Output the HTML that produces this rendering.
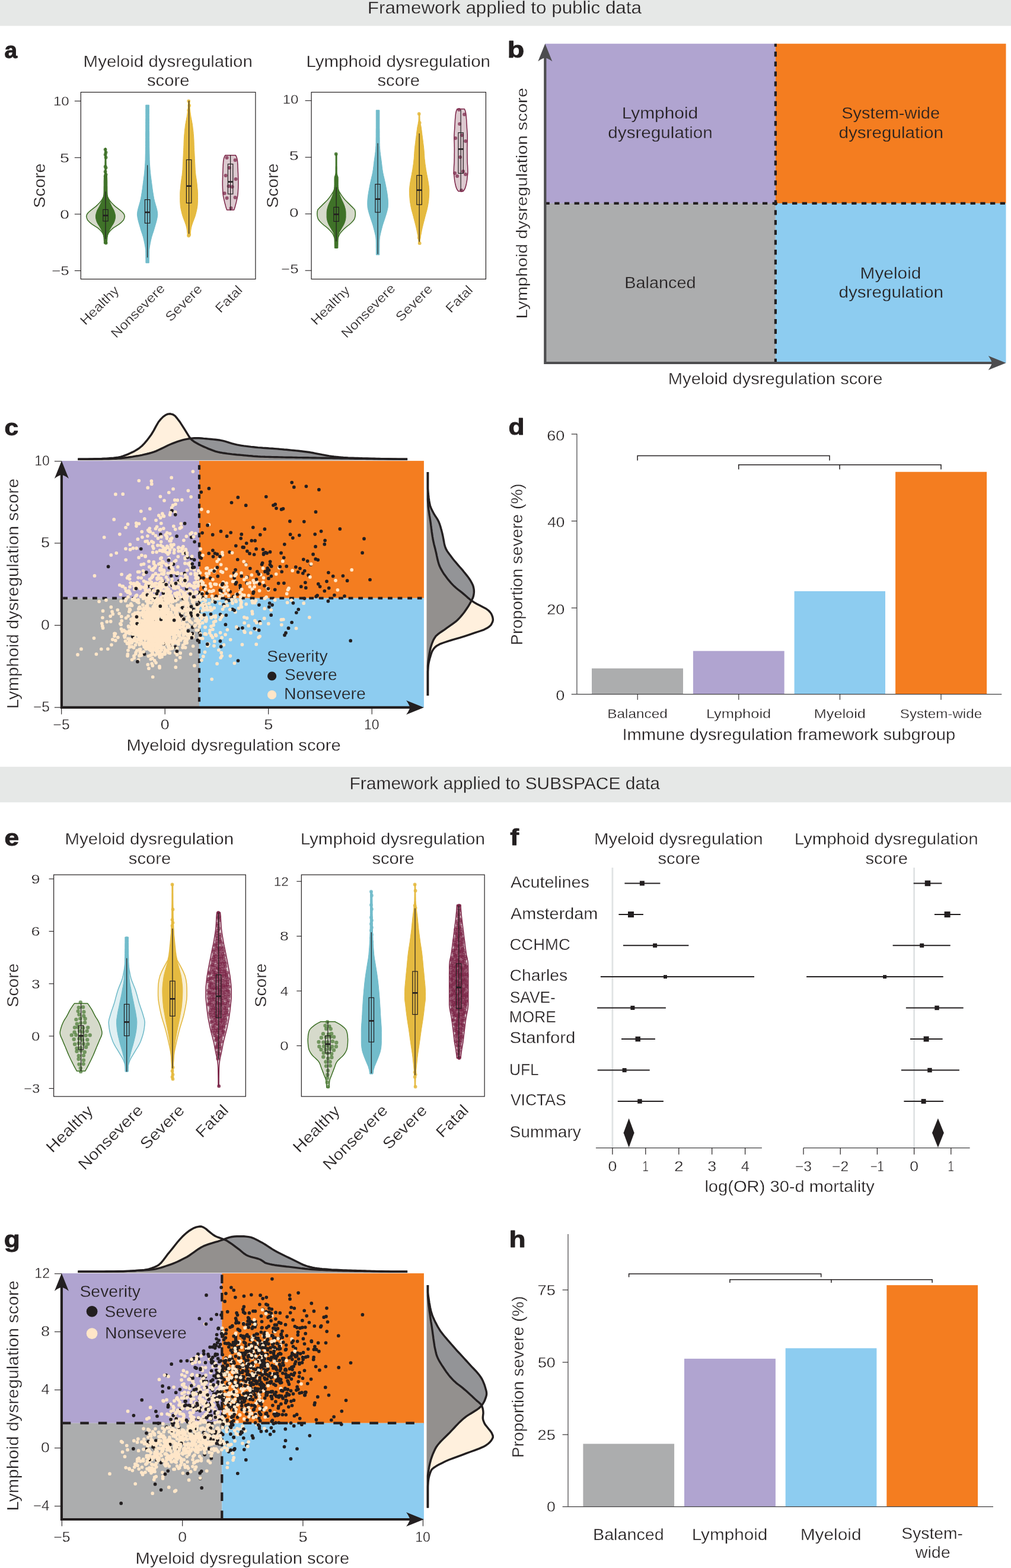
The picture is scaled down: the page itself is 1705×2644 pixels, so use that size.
<!DOCTYPE html>
<html lang="en">
<head>
<meta charset="utf-8">
<title>Immune dysregulation framework</title>
<style>
html,body{margin:0;padding:0;background:#fff}
body{width:1705px;height:2644px;overflow:hidden;font-family:"Liberation Sans",sans-serif}
svg{display:block}
text{white-space:pre}
</style>
</head>
<body>
<svg width="1705" height="2644" viewBox="0 0 1705 2644" font-family="'Liberation Sans', sans-serif" fill="#231f20">
<rect x="0" y="0" width="1705" height="43.6" fill="#e6e8e7"/>
<text x="619.8" y="22.6" font-size="30.3" stroke="#e6e8e7" stroke-width="0.3" textLength="462.2" lengthAdjust="spacingAndGlyphs">Framework applied to public data</text>
<rect x="0" y="1292.9" width="1705" height="60" fill="#e6e8e7"/>
<text x="589.6" y="1331.4" font-size="30.3" stroke="#e6e8e7" stroke-width="0.3" textLength="523.4" lengthAdjust="spacingAndGlyphs">Framework applied to SUBSPACE data</text>
<g id="panel-a">
<text x="7.5" y="97.7" font-size="38" font-weight="700" stroke="#231f20" stroke-width="0.9" stroke-linejoin="round" textLength="21.6" lengthAdjust="spacingAndGlyphs">a</text>
<text x="140.6" y="113.2" font-size="27" stroke="#fff" stroke-width="0.3" textLength="285.2" lengthAdjust="spacingAndGlyphs">Myeloid dysregulation</text>
<text x="248" y="145" font-size="27" stroke="#fff" stroke-width="0.3" textLength="71.4" lengthAdjust="spacingAndGlyphs">score</text>
<text transform="translate(76 313) rotate(-90)" x="-37.8" y="0" font-size="27" stroke="#fff" stroke-width="0.3" textLength="75.5" lengthAdjust="spacingAndGlyphs">Score</text>
<path d="M177.6 250.1 L177.6 253.4 L177.6 256.7 L177.6 260 L177.6 263.2 L177.6 266.5 L177.6 269.8 L177.6 273.1 L177.5 276.3 L177.5 279.6 L177.5 282.9 L177.5 286.2 L177.5 289.4 L177.5 292.7 L177.4 296 L177.4 299.3 L177.4 302.5 L177.3 305.8 L177.3 309.1 L177.2 312.4 L177.1 315.6 L176.8 318.9 L176.5 322.2 L176.1 325.5 L175.7 328.7 L174.5 332 L172.7 335.3 L170.7 338.6 L168 341.8 L164.8 345.1 L161.3 348.4 L157 351.7 L152.9 354.9 L149 358.2 L146.6 361.5 L145.7 364.8 L146.4 368 L147.8 371.3 L150.9 374.6 L154.9 377.9 L159.8 381.1 L165 384.4 L168.7 387.7 L171.7 391 L173.6 394.2 L175 397.5 L176 400.8 L176.7 404.1 L177.2 407.3 L177.5 410.6 L178.5 410.6 L178.8 407.3 L179.3 404.1 L180 400.8 L181 397.5 L182.4 394.2 L184.3 391 L187.3 387.7 L191 384.4 L196.2 381.1 L201.1 377.9 L205.1 374.6 L208.2 371.3 L209.6 368 L210.3 364.8 L209.4 361.5 L207 358.2 L203.1 354.9 L199 351.7 L194.7 348.4 L191.2 345.1 L188 341.8 L185.3 338.6 L183.3 335.3 L181.5 332 L180.3 328.7 L179.9 325.5 L179.5 322.2 L179.2 318.9 L178.9 315.6 L178.8 312.4 L178.7 309.1 L178.7 305.8 L178.6 302.5 L178.6 299.3 L178.6 296 L178.5 292.7 L178.5 289.4 L178.5 286.2 L178.5 282.9 L178.5 279.6 L178.5 276.3 L178.4 273.1 L178.4 269.8 L178.4 266.5 L178.4 263.2 L178.4 260 L178.4 256.7 L178.4 253.4 L178.4 250.1Z" fill="#d6dacb" stroke="#3a6e23" stroke-width="1.5" stroke-linejoin="round"/><path d="M177.1 250.1 L177.1 253.4 L177.1 256.7 L177.1 260 L177.1 263.2 L177.1 266.5 L177.1 269.8 L177 273.1 L177 276.3 L177 279.6 L177 282.9 L176.9 286.2 L176.9 289.4 L176.5 292.7 L175.8 296 L175.4 299.3 L175.3 302.5 L175.2 305.8 L175.2 309.1 L175.2 312.4 L175.1 315.6 L175.1 318.9 L175.1 322.2 L175 325.5 L174.8 328.7 L174.2 332 L173 335.3 L171.8 338.6 L170.5 341.8 L169 345.1 L167.4 348.4 L165.5 351.7 L163.8 354.9 L162.7 358.2 L161.8 361.5 L161.4 364.8 L161.7 368 L162.4 371.3 L163.5 374.6 L165.3 377.9 L167.3 381.1 L169.3 384.4 L171.1 387.7 L172.7 391 L174 394.2 L174.6 397.5 L175 400.8 L175.2 404.1 L175.4 407.3 L175.4 410.6 L180.6 410.6 L180.6 407.3 L180.8 404.1 L181 400.8 L181.4 397.5 L182 394.2 L183.3 391 L184.9 387.7 L186.7 384.4 L188.7 381.1 L190.7 377.9 L192.5 374.6 L193.6 371.3 L194.3 368 L194.6 364.8 L194.2 361.5 L193.3 358.2 L192.2 354.9 L190.5 351.7 L188.6 348.4 L187 345.1 L185.5 341.8 L184.2 338.6 L183 335.3 L181.8 332 L181.2 328.7 L181 325.5 L180.9 322.2 L180.9 318.9 L180.9 315.6 L180.8 312.4 L180.8 309.1 L180.8 305.8 L180.7 302.5 L180.6 299.3 L180.2 296 L179.5 292.7 L179.1 289.4 L179.1 286.2 L179 282.9 L179 279.6 L179 276.3 L179 273.1 L178.9 269.8 L178.9 266.5 L178.9 263.2 L178.9 260 L178.9 256.7 L178.9 253.4 L178.9 250.1Z" fill="#3f7228" stroke="#3f7228" stroke-width="1" stroke-linejoin="round" opacity="1.0"/><g fill="#3f7228" opacity="0.85"><circle cx="177.6" cy="252.1" r="2.9"/><circle cx="178.6" cy="256.9" r="2.9"/><circle cx="177.6" cy="260.7" r="2.9"/><circle cx="178.6" cy="265.5" r="2.9"/><circle cx="177.6" cy="280.9" r="2.9"/><circle cx="178.6" cy="282.8" r="2.9"/><circle cx="177.6" cy="289.5" r="2.9"/><circle cx="178.6" cy="294.3" r="2.9"/><circle cx="177.6" cy="297.2" r="2.9"/><circle cx="178.6" cy="409.7" r="2.9"/></g><line x1="178" y1="322.9" x2="178" y2="402.9" stroke="#231f20" stroke-width="1.2"/><rect x="173.8" y="353.4" width="8.4" height="19.5" fill="none" stroke="#231f20" stroke-width="1.2"/><line x1="173.8" y1="363.4" x2="182.2" y2="363.4" stroke="#231f20" stroke-width="2.6"/>
<path d="M245.8 177.1 L245.8 182.5 L245.8 188 L245.8 193.4 L245.8 198.8 L245.7 204.3 L245.7 209.7 L245.7 215.1 L245.7 220.6 L245.6 226 L245.6 231.4 L245.6 236.9 L245.5 242.3 L245.5 247.7 L245.4 253.2 L245.3 258.6 L245.2 264 L245.1 269.5 L244.9 274.9 L244.5 280.3 L244.1 285.8 L243.6 291.2 L243 296.6 L242.3 302.1 L241.6 307.5 L240.9 312.9 L240.2 318.3 L239.4 323.8 L238.5 329.2 L237.6 334.6 L236.3 340.1 L234.7 345.5 L233.2 350.9 L231.9 356.4 L231.4 361.8 L232.1 367.2 L233.3 372.7 L234.8 378.1 L236.4 383.5 L238 389 L239.8 394.4 L241.5 399.8 L242.8 405.3 L243.9 410.7 L244.9 416.1 L245.6 421.6 L245.8 427 L245.8 432.4 L245.9 437.9 L245.9 443.3 L251.3 443.3 L251.3 437.9 L251.4 432.4 L251.4 427 L251.6 421.6 L252.3 416.1 L253.3 410.7 L254.4 405.3 L255.7 399.8 L257.4 394.4 L259.2 389 L260.8 383.5 L262.4 378.1 L263.9 372.7 L265.1 367.2 L265.8 361.8 L265.3 356.4 L264 350.9 L262.5 345.5 L260.9 340.1 L259.6 334.6 L258.7 329.2 L257.8 323.8 L257 318.3 L256.3 312.9 L255.6 307.5 L254.9 302.1 L254.2 296.6 L253.6 291.2 L253.1 285.8 L252.7 280.3 L252.3 274.9 L252.1 269.5 L252 264 L251.9 258.6 L251.8 253.2 L251.7 247.7 L251.7 242.3 L251.6 236.9 L251.6 231.4 L251.6 226 L251.5 220.6 L251.5 215.1 L251.5 209.7 L251.5 204.3 L251.4 198.8 L251.4 193.4 L251.4 188 L251.4 182.5 L251.4 177.1Z" fill="#72bccb" stroke="#72bccb" stroke-width="1" stroke-linejoin="round" opacity="1.0"/><line x1="248.6" y1="278.6" x2="248.6" y2="434.3" stroke="#231f20" stroke-width="1.2"/><rect x="244.4" y="336.6" width="8.4" height="39.7" fill="none" stroke="#231f20" stroke-width="1.2"/><line x1="244.4" y1="358" x2="252.8" y2="358" stroke="#231f20" stroke-width="2.6"/>
<path d="M317.4 169.4 L317.3 174.1 L317.2 178.8 L316.9 183.4 L316.4 188.1 L315.8 192.8 L315.1 197.4 L314.2 202.1 L313.3 206.8 L312.5 211.4 L312 216.1 L311.4 220.8 L311 225.4 L310.6 230.1 L310.3 234.8 L310.1 239.4 L310 244.1 L309.8 248.8 L309.6 253.4 L309.3 258.1 L309.1 262.8 L308.9 267.4 L308.7 272.1 L308.4 276.8 L308.2 281.4 L308 286.1 L307.6 290.8 L307.1 295.4 L306.4 300.1 L305.7 304.8 L305.1 309.4 L304.7 314.1 L304.2 318.8 L303.8 323.4 L303.7 328.1 L303.7 332.8 L303.7 337.4 L303.9 342.1 L304.2 346.8 L304.9 351.5 L305.9 356.1 L307 360.8 L308.4 365.5 L310.1 370.1 L311.9 374.8 L313.5 379.5 L314.8 384.1 L315.5 388.8 L316 393.5 L316.2 398.1 L321 398.1 L321.2 393.5 L321.7 388.8 L322.4 384.1 L323.7 379.5 L325.3 374.8 L327.1 370.1 L328.8 365.5 L330.2 360.8 L331.3 356.1 L332.3 351.5 L333 346.8 L333.3 342.1 L333.5 337.4 L333.5 332.8 L333.5 328.1 L333.4 323.4 L333 318.8 L332.5 314.1 L332.1 309.4 L331.5 304.8 L330.8 300.1 L330.1 295.4 L329.6 290.8 L329.2 286.1 L329 281.4 L328.8 276.8 L328.5 272.1 L328.3 267.4 L328.1 262.8 L327.9 258.1 L327.6 253.4 L327.4 248.8 L327.2 244.1 L327.1 239.4 L326.9 234.8 L326.6 230.1 L326.2 225.4 L325.8 220.8 L325.2 216.1 L324.7 211.4 L323.9 206.8 L323 202.1 L322.1 197.4 L321.4 192.8 L320.8 188.1 L320.3 183.4 L320 178.8 L319.9 174.1 L319.8 169.4Z" fill="#e5ba40" stroke="#e5ba40" stroke-width="1" stroke-linejoin="round" opacity="1.0"/><g fill="#e5ba40" opacity="0.85"><circle cx="318.2" cy="170.5" r="2.9"/><circle cx="319.2" cy="178" r="2.9"/><circle cx="318.2" cy="186" r="2.9"/><circle cx="319.2" cy="395" r="2.9"/><circle cx="318.2" cy="397.5" r="2.9"/></g><line x1="318.6" y1="170" x2="318.6" y2="394.3" stroke="#231f20" stroke-width="1.2"/><rect x="314.4" y="269.4" width="8.4" height="72.9" fill="none" stroke="#231f20" stroke-width="1.2"/><line x1="314.4" y1="313.7" x2="322.8" y2="313.7" stroke="#231f20" stroke-width="2.6"/>
<path d="M379.9 261.7 L378.9 263.6 L378.1 265.4 L377.5 267.3 L377.1 269.2 L376.8 271.1 L376.6 273 L376.5 274.8 L376.4 276.7 L376.2 278.6 L376.2 280.5 L376.1 282.4 L376 284.3 L375.9 286.1 L375.9 288 L375.8 289.9 L375.7 291.8 L375.6 293.7 L375.6 295.6 L375.5 297.4 L375.5 299.3 L375.4 301.2 L375.4 303.1 L375.3 305 L375.3 306.9 L375.3 308.7 L375.3 310.6 L375.3 312.5 L375.4 314.4 L375.4 316.3 L375.5 318.2 L375.6 320 L375.7 321.9 L375.8 323.8 L375.9 325.7 L376.1 327.6 L376.3 329.4 L376.6 331.3 L377 333.2 L377.4 335.1 L377.9 337 L378.3 338.9 L378.7 340.7 L379.2 342.6 L379.7 344.5 L380.2 346.4 L380.7 348.3 L381.3 350.2 L381.9 352 L382.6 353.9 L394.6 353.9 L395.3 352 L395.9 350.2 L396.5 348.3 L397 346.4 L397.5 344.5 L398 342.6 L398.5 340.7 L398.9 338.9 L399.3 337 L399.8 335.1 L400.2 333.2 L400.6 331.3 L400.9 329.4 L401.1 327.6 L401.3 325.7 L401.4 323.8 L401.5 321.9 L401.6 320 L401.7 318.2 L401.8 316.3 L401.8 314.4 L401.9 312.5 L401.9 310.6 L401.9 308.7 L401.9 306.9 L401.9 305 L401.8 303.1 L401.8 301.2 L401.7 299.3 L401.7 297.4 L401.6 295.6 L401.6 293.7 L401.5 291.8 L401.4 289.9 L401.3 288 L401.3 286.1 L401.2 284.3 L401.1 282.4 L401 280.5 L401 278.6 L400.8 276.7 L400.7 274.8 L400.6 273 L400.4 271.1 L400.1 269.2 L399.7 267.3 L399.1 265.4 L398.3 263.6 L397.3 261.7Z" fill="#dcc9cf" stroke="#7a2346" stroke-width="1.5" stroke-linejoin="round"/><g fill="#7d2a4c" fill-opacity="0.75"><circle cx="382.6" cy="266" r="3.0"/><circle cx="396.6" cy="270" r="3.0"/><circle cx="386.6" cy="283" r="3.0"/><circle cx="380.6" cy="296" r="3.0"/><circle cx="397.6" cy="302" r="3.0"/><circle cx="385.6" cy="314" r="3.0"/><circle cx="391.6" cy="315" r="3.0"/><circle cx="378.6" cy="326" r="3.0"/><circle cx="382.6" cy="334" r="3.0"/><circle cx="396.6" cy="333" r="3.0"/><circle cx="389.6" cy="351" r="3.0"/></g><line x1="388.6" y1="261.4" x2="388.6" y2="354.9" stroke="#231f20" stroke-width="1.2"/><rect x="384.4" y="276.6" width="8.4" height="50.5" fill="none" stroke="#231f20" stroke-width="1.2"/><line x1="384.4" y1="306.6" x2="392.8" y2="306.6" stroke="#231f20" stroke-width="2.6"/>
<rect x="136.3" y="155.5" width="294.6" height="315.1" fill="none" stroke="#231f20" stroke-width="1.2"/><line x1="125.8" y1="170.4" x2="136.3" y2="170.4" stroke="#231f20" stroke-width="1.1"/><text x="89.9" y="178.2" font-size="21.7" stroke="#fff" stroke-width="0.3" textLength="26.7" lengthAdjust="spacingAndGlyphs">10</text><line x1="125.8" y1="265.8" x2="136.3" y2="265.8" stroke="#231f20" stroke-width="1.1"/><text x="101" y="273.6" font-size="21.7" stroke="#fff" stroke-width="0.3" textLength="15.9" lengthAdjust="spacingAndGlyphs">5</text><line x1="125.8" y1="361.1" x2="136.3" y2="361.1" stroke="#231f20" stroke-width="1.1"/><text x="101.2" y="368.9" font-size="21.7" stroke="#fff" stroke-width="0.3" textLength="15.5" lengthAdjust="spacingAndGlyphs">0</text><line x1="125.8" y1="456.5" x2="136.3" y2="456.5" stroke="#231f20" stroke-width="1.1"/><text x="87.3" y="464.3" font-size="21.7" stroke="#fff" stroke-width="0.3" textLength="29.4" lengthAdjust="spacingAndGlyphs">−5</text>
<text transform="translate(202.2 491.1) rotate(-45)" x="-82.4" y="0" font-size="22" stroke="#fff" stroke-width="0.3" textLength="82.4" lengthAdjust="spacingAndGlyphs">Healthy</text><text transform="translate(278.5 488.5) rotate(-45)" x="-116.6" y="0" font-size="22" stroke="#fff" stroke-width="0.3" textLength="117.6" lengthAdjust="spacingAndGlyphs">Nonsevere</text><text transform="translate(341.4 489.5) rotate(-45)" x="-76" y="0" font-size="22" stroke="#fff" stroke-width="0.3" textLength="77" lengthAdjust="spacingAndGlyphs">Severe</text><text transform="translate(409.1 491.6) rotate(-45)" x="-52.5" y="0" font-size="22" stroke="#fff" stroke-width="0.3" textLength="54" lengthAdjust="spacingAndGlyphs">Fatal</text>
<text x="516.4" y="112.9" font-size="27" stroke="#fff" stroke-width="0.3" textLength="310.6" lengthAdjust="spacingAndGlyphs">Lymphoid dysregulation</text>
<text x="636.5" y="144.6" font-size="27" stroke="#fff" stroke-width="0.3" textLength="71.4" lengthAdjust="spacingAndGlyphs">score</text>
<text transform="translate(469 313) rotate(-90)" x="-37.8" y="0" font-size="27" stroke="#fff" stroke-width="0.3" textLength="75.5" lengthAdjust="spacingAndGlyphs">Score</text>
<path d="M566.7 259.7 L566.7 263 L566.7 266.2 L566.7 269.5 L566.7 272.7 L566.7 275.9 L566.7 279.2 L566.6 282.4 L566.6 285.6 L566.6 288.9 L566.6 292.1 L566.5 295.3 L566.5 298.6 L566.4 301.8 L566.4 305.1 L566.3 308.3 L566 311.5 L565.3 314.8 L564.3 318 L563.1 321.2 L561.3 324.5 L559.3 327.7 L557.1 330.9 L554.6 334.2 L551.9 337.4 L548.8 340.6 L545.4 343.9 L542.2 347.1 L538.8 350.4 L535.9 353.6 L535.1 356.8 L534.8 360.1 L535 363.3 L535.6 366.5 L536.7 369.8 L539.2 373 L542.3 376.2 L546 379.5 L550.2 382.7 L553.9 385.9 L557.1 389.2 L559.9 392.4 L561.9 395.7 L563.3 398.9 L564.5 402.1 L565.2 405.4 L565.7 408.6 L566.2 411.8 L566.5 415.1 L566.6 418.3 L567.6 418.3 L567.7 415.1 L568 411.8 L568.5 408.6 L569 405.4 L569.7 402.1 L570.9 398.9 L572.3 395.7 L574.3 392.4 L577.1 389.2 L580.3 385.9 L584 382.7 L588.2 379.5 L591.9 376.2 L595 373 L597.5 369.8 L598.6 366.5 L599.2 363.3 L599.4 360.1 L599.1 356.8 L598.3 353.6 L595.4 350.4 L592 347.1 L588.8 343.9 L585.4 340.6 L582.3 337.4 L579.6 334.2 L577.1 330.9 L574.9 327.7 L572.9 324.5 L571.1 321.2 L569.9 318 L568.9 314.8 L568.2 311.5 L567.9 308.3 L567.8 305.1 L567.8 301.8 L567.7 298.6 L567.7 295.3 L567.6 292.1 L567.6 288.9 L567.6 285.6 L567.6 282.4 L567.5 279.2 L567.5 275.9 L567.5 272.7 L567.5 269.5 L567.5 266.2 L567.5 263 L567.5 259.7Z" fill="#d6dacb" stroke="#3a6e23" stroke-width="1.5" stroke-linejoin="round"/><path d="M566.2 259.7 L566.2 263 L566.2 266.2 L566.2 269.5 L566.2 272.7 L566.2 275.9 L566.2 279.2 L566.1 282.4 L566.1 285.6 L566.1 288.9 L566 292.1 L565.3 295.3 L564.1 298.6 L564 301.8 L564 305.1 L564 308.3 L564 311.5 L563.9 314.8 L563.6 318 L563 321.2 L562.2 324.5 L561.4 327.7 L560.3 330.9 L559 334.2 L557.6 337.4 L556.1 340.6 L554.6 343.9 L553.4 347.1 L552.4 350.4 L551.6 353.6 L551.2 356.8 L551.1 360.1 L551.1 363.3 L551.1 366.5 L551.5 369.8 L552.3 373 L553.4 376.2 L554.8 379.5 L556.7 382.7 L558.6 385.9 L560.5 389.2 L562.4 392.4 L563.4 395.7 L563.7 398.9 L564 402.1 L564.1 405.4 L564.2 408.6 L564.2 411.8 L564.3 415.1 L564.3 418.3 L569.9 418.3 L569.9 415.1 L570 411.8 L570 408.6 L570.1 405.4 L570.2 402.1 L570.5 398.9 L570.8 395.7 L571.8 392.4 L573.7 389.2 L575.6 385.9 L577.5 382.7 L579.4 379.5 L580.8 376.2 L581.9 373 L582.7 369.8 L583.1 366.5 L583.1 363.3 L583.1 360.1 L583 356.8 L582.6 353.6 L581.8 350.4 L580.8 347.1 L579.6 343.9 L578.1 340.6 L576.6 337.4 L575.2 334.2 L573.9 330.9 L572.8 327.7 L572 324.5 L571.2 321.2 L570.6 318 L570.3 314.8 L570.2 311.5 L570.2 308.3 L570.2 305.1 L570.2 301.8 L570.1 298.6 L568.9 295.3 L568.2 292.1 L568.1 288.9 L568.1 285.6 L568.1 282.4 L568 279.2 L568 275.9 L568 272.7 L568 269.5 L568 266.2 L568 263 L568 259.7Z" fill="#3f7228" stroke="#3f7228" stroke-width="1" stroke-linejoin="round" opacity="1.0"/><g fill="#3f7228" opacity="0.85"><circle cx="566.7" cy="259.7" r="2.9"/></g><line x1="567.1" y1="315.7" x2="567.1" y2="407" stroke="#231f20" stroke-width="1.2"/><rect x="562.9" y="349.4" width="8.4" height="24" fill="none" stroke="#231f20" stroke-width="1.2"/><line x1="562.9" y1="361.4" x2="571.3" y2="361.4" stroke="#231f20" stroke-width="2.6"/>
<path d="M634.3 185.8 L634.3 190.7 L634.3 195.7 L634.3 200.7 L634.3 205.7 L634.3 210.7 L634.3 215.6 L634.2 220.6 L634.2 225.6 L634.2 230.6 L634.1 235.6 L634.1 240.5 L634 245.5 L633.6 250.5 L633.2 255.5 L632.6 260.5 L631.9 265.5 L631.2 270.4 L630.6 275.4 L630 280.4 L629.4 285.4 L628.6 290.4 L627.6 295.3 L626.4 300.3 L625.3 305.3 L624.2 310.3 L623.2 315.3 L622.3 320.3 L621.4 325.2 L620.7 330.2 L620.1 335.2 L619.8 340.2 L619.8 345.2 L620.1 350.1 L621.2 355.1 L622.5 360.1 L624.1 365.1 L625.7 370.1 L627.4 375 L629 380 L630.3 385 L631.6 390 L632.8 395 L633.8 400 L634.2 404.9 L634.3 409.9 L634.3 414.9 L634.4 419.9 L634.4 424.9 L634.4 429.8 L639.8 429.8 L639.8 424.9 L639.8 419.9 L639.9 414.9 L639.9 409.9 L640 404.9 L640.4 400 L641.4 395 L642.6 390 L643.9 385 L645.2 380 L646.8 375 L648.5 370.1 L650.1 365.1 L651.7 360.1 L653 355.1 L654.1 350.1 L654.4 345.2 L654.4 340.2 L654.1 335.2 L653.5 330.2 L652.8 325.2 L651.9 320.3 L651 315.3 L650 310.3 L648.9 305.3 L647.8 300.3 L646.6 295.3 L645.6 290.4 L644.8 285.4 L644.2 280.4 L643.6 275.4 L643 270.4 L642.3 265.5 L641.6 260.5 L641 255.5 L640.6 250.5 L640.2 245.5 L640.1 240.5 L640.1 235.6 L640 230.6 L640 225.6 L640 220.6 L639.9 215.6 L639.9 210.7 L639.9 205.7 L639.9 200.7 L639.9 195.7 L639.9 190.7 L639.9 185.8Z" fill="#72bccb" stroke="#72bccb" stroke-width="1" stroke-linejoin="round" opacity="1.0"/><line x1="637.1" y1="241.4" x2="637.1" y2="428.6" stroke="#231f20" stroke-width="1.2"/><rect x="632.9" y="310.6" width="8.4" height="47.4" fill="none" stroke="#231f20" stroke-width="1.2"/><line x1="632.9" y1="335.7" x2="641.3" y2="335.7" stroke="#231f20" stroke-width="2.6"/>
<path d="M706.2 191.5 L706.2 196 L706.1 200.5 L705.9 204.9 L705 209.4 L704 213.9 L703.4 218.3 L702.8 222.8 L702.3 227.3 L701.7 231.8 L701.1 236.2 L700.6 240.7 L700 245.2 L699.5 249.6 L699.1 254.1 L698.8 258.6 L698.5 263.1 L698.2 267.5 L697.7 272 L697.2 276.5 L696.5 280.9 L695.9 285.4 L695.1 289.9 L694.3 294.4 L693.4 298.8 L692.6 303.3 L691.8 307.8 L691.2 312.2 L690.7 316.7 L690.4 321.2 L690.5 325.7 L690.7 330.1 L691 334.6 L691.4 339.1 L692.1 343.5 L692.9 348 L693.8 352.5 L695 357 L696.2 361.4 L697.4 365.9 L698.5 370.4 L699.7 374.8 L700.8 379.3 L701.9 383.8 L702.9 388.3 L703.7 392.7 L704.6 397.2 L705.4 401.7 L705.9 406.2 L706.1 410.6 L708.1 410.6 L708.3 406.2 L708.8 401.7 L709.6 397.2 L710.5 392.7 L711.3 388.3 L712.3 383.8 L713.4 379.3 L714.5 374.8 L715.7 370.4 L716.8 365.9 L718 361.4 L719.2 357 L720.4 352.5 L721.3 348 L722.1 343.5 L722.8 339.1 L723.2 334.6 L723.5 330.1 L723.7 325.7 L723.8 321.2 L723.5 316.7 L723 312.2 L722.4 307.8 L721.6 303.3 L720.8 298.8 L719.9 294.4 L719.1 289.9 L718.3 285.4 L717.7 280.9 L717 276.5 L716.5 272 L716 267.5 L715.7 263.1 L715.4 258.6 L715.1 254.1 L714.7 249.6 L714.2 245.2 L713.6 240.7 L713.1 236.2 L712.5 231.8 L711.9 227.3 L711.4 222.8 L710.8 218.3 L710.2 213.9 L709.2 209.4 L708.3 204.9 L708.1 200.5 L708 196 L708 191.5Z" fill="#e5ba40" stroke="#e5ba40" stroke-width="1" stroke-linejoin="round" opacity="1.0"/><g fill="#e5ba40" opacity="0.85"><circle cx="706.7" cy="191.9" r="2.9"/><circle cx="707.7" cy="206.9" r="2.9"/><circle cx="706.7" cy="401" r="2.9"/><circle cx="707.7" cy="410.2" r="2.9"/></g><line x1="707.1" y1="224.9" x2="707.1" y2="407.7" stroke="#231f20" stroke-width="1.2"/><rect x="702.9" y="295.7" width="8.4" height="49.4" fill="none" stroke="#231f20" stroke-width="1.2"/><line x1="702.9" y1="320.6" x2="711.3" y2="320.6" stroke="#231f20" stroke-width="2.6"/>
<path d="M770.9 183.8 L769.6 186.7 L768.9 189.5 L768.4 192.3 L768.1 195.2 L767.9 198 L767.6 200.8 L767.4 203.7 L767.3 206.5 L767.1 209.3 L766.9 212.1 L766.8 215 L766.6 217.8 L766.4 220.6 L766.2 223.5 L766 226.3 L765.9 229.1 L765.9 232 L765.9 234.8 L766 237.6 L766.1 240.5 L766.2 243.3 L766.2 246.1 L766.3 249 L766.3 251.8 L766.3 254.6 L766.3 257.5 L766.2 260.3 L766.2 263.1 L766.2 266 L766.1 268.8 L766.1 271.6 L766 274.5 L765.8 277.3 L765.6 280.1 L765.5 282.9 L765.4 285.8 L765.3 288.6 L765.3 291.4 L765.6 294.3 L765.9 297.1 L766.2 299.9 L766.5 302.8 L766.9 305.6 L767.4 308.4 L768 311.3 L768.7 314.1 L769.6 316.9 L771 319.8 L773.1 322.6 L781.1 322.6 L783.2 319.8 L784.6 316.9 L785.5 314.1 L786.2 311.3 L786.8 308.4 L787.3 305.6 L787.7 302.8 L788 299.9 L788.3 297.1 L788.6 294.3 L788.9 291.4 L788.9 288.6 L788.8 285.8 L788.7 282.9 L788.6 280.1 L788.4 277.3 L788.2 274.5 L788.1 271.6 L788.1 268.8 L788 266 L788 263.1 L788 260.3 L787.9 257.5 L787.9 254.6 L787.9 251.8 L787.9 249 L788 246.1 L788 243.3 L788.1 240.5 L788.2 237.6 L788.3 234.8 L788.3 232 L788.3 229.1 L788.2 226.3 L788 223.5 L787.8 220.6 L787.6 217.8 L787.4 215 L787.3 212.1 L787.1 209.3 L786.9 206.5 L786.8 203.7 L786.6 200.8 L786.3 198 L786.1 195.2 L785.8 192.3 L785.3 189.5 L784.6 186.7 L783.3 183.8Z" fill="#dcc9cf" stroke="#7a2346" stroke-width="1.5" stroke-linejoin="round"/><g fill="#7d2a4c" fill-opacity="0.75"><circle cx="774.1" cy="185" r="3.0"/><circle cx="783.1" cy="193" r="3.0"/><circle cx="775.1" cy="209" r="3.0"/><circle cx="779.1" cy="228" r="3.0"/><circle cx="768.1" cy="233" r="3.0"/><circle cx="785.1" cy="238" r="3.0"/><circle cx="776.1" cy="265" r="3.0"/><circle cx="767.1" cy="292" r="3.0"/><circle cx="771.1" cy="297" r="3.0"/><circle cx="781.1" cy="289" r="3.0"/><circle cx="785.1" cy="294" r="3.0"/><circle cx="778.1" cy="321" r="3.0"/></g><line x1="777.1" y1="184.9" x2="777.1" y2="321.4" stroke="#231f20" stroke-width="1.2"/><rect x="772.9" y="223.7" width="8.4" height="68.6" fill="none" stroke="#231f20" stroke-width="1.2"/><line x1="772.9" y1="251.4" x2="781.3" y2="251.4" stroke="#231f20" stroke-width="2.6"/>
<rect x="525.1" y="155.5" width="294.3" height="315.1" fill="none" stroke="#231f20" stroke-width="1.2"/><line x1="514.6" y1="169.7" x2="525.1" y2="169.7" stroke="#231f20" stroke-width="1.1"/><text x="476.7" y="174.9" font-size="21.7" stroke="#fff" stroke-width="0.3" textLength="26.7" lengthAdjust="spacingAndGlyphs">10</text><line x1="514.6" y1="265.2" x2="525.1" y2="265.2" stroke="#231f20" stroke-width="1.1"/><text x="487.8" y="270.4" font-size="21.7" stroke="#fff" stroke-width="0.3" textLength="15.9" lengthAdjust="spacingAndGlyphs">5</text><line x1="514.6" y1="360.7" x2="525.1" y2="360.7" stroke="#231f20" stroke-width="1.1"/><text x="488" y="365.9" font-size="21.7" stroke="#fff" stroke-width="0.3" textLength="15.5" lengthAdjust="spacingAndGlyphs">0</text><line x1="514.6" y1="456.2" x2="525.1" y2="456.2" stroke="#231f20" stroke-width="1.1"/><text x="474.1" y="461.4" font-size="21.7" stroke="#fff" stroke-width="0.3" textLength="29.4" lengthAdjust="spacingAndGlyphs">−5</text>
<text transform="translate(591.3 491.1) rotate(-45)" x="-82.4" y="0" font-size="22" stroke="#fff" stroke-width="0.3" textLength="82.4" lengthAdjust="spacingAndGlyphs">Healthy</text><text transform="translate(667 488.5) rotate(-45)" x="-116.6" y="0" font-size="22" stroke="#fff" stroke-width="0.3" textLength="117.6" lengthAdjust="spacingAndGlyphs">Nonsevere</text><text transform="translate(729.9 489.5) rotate(-45)" x="-76" y="0" font-size="22" stroke="#fff" stroke-width="0.3" textLength="77" lengthAdjust="spacingAndGlyphs">Severe</text><text transform="translate(797.6 491.6) rotate(-45)" x="-52.5" y="0" font-size="22" stroke="#fff" stroke-width="0.3" textLength="54" lengthAdjust="spacingAndGlyphs">Fatal</text>
</g>
<g id="panel-b">
<text x="855.8" y="97.1" font-size="38" font-weight="700" stroke="#231f20" stroke-width="0.9" stroke-linejoin="round" textLength="28.5" lengthAdjust="spacingAndGlyphs">b</text>
<rect x="919.3" y="73.7" width="388.6" height="269.2" fill="#b0a4d0"/><rect x="1307.9" y="73.7" width="388.6" height="269.2" fill="#f47d20"/><rect x="919.3" y="342.9" width="388.6" height="269.1" fill="#acadae"/><rect x="1307.9" y="342.9" width="388.6" height="269.1" fill="#8dccf0"/>
<line x1="919.3" y1="342.9" x2="1696.5" y2="342.9" stroke="#231f20" stroke-width="4.2" stroke-dasharray="8.3 8.4" stroke-dashoffset="0.8"/>
<line x1="1307.9" y1="73.7" x2="1307.9" y2="612" stroke="#231f20" stroke-width="4.2" stroke-dasharray="8.3 8.4" stroke-dashoffset="3.3"/>
<path d="M919.3 93.7 V612 H1676.5" fill="none" stroke="#4d4d4f" stroke-width="4.2" stroke-linejoin="miter"/>
<path d="M919.3 73.7 L931.3 103.5 Q924.7 98.7 919.3 97.2 Q913.9 98.7 907.3 103.5Z" fill="#4d4d4f"/>
<path d="M1696.5 612 L1666.7 600 Q1671.5 606.6 1673 612 Q1671.5 617.4 1666.7 624Z" fill="#4d4d4f"/>
<text x="1048.7" y="200" font-size="27" stroke="#b0a4d0" stroke-width="0.3" textLength="128.5" lengthAdjust="spacingAndGlyphs">Lymphoid</text>
<text x="1025.3" y="232.9" font-size="27" stroke="#b0a4d0" stroke-width="0.3" textLength="176.5" lengthAdjust="spacingAndGlyphs">dysregulation</text>
<text x="1419.3" y="200" font-size="27" stroke="#f47d20" stroke-width="0.3" textLength="165.8" lengthAdjust="spacingAndGlyphs">System-wide</text>
<text x="1414.4" y="232.9" font-size="27" stroke="#f47d20" stroke-width="0.3" textLength="176.5" lengthAdjust="spacingAndGlyphs">dysregulation</text>
<text x="1053.3" y="486.3" font-size="27" stroke="#acadae" stroke-width="0.3" textLength="120.3" lengthAdjust="spacingAndGlyphs">Balanced</text>
<text x="1450.6" y="470" font-size="27" stroke="#8dccf0" stroke-width="0.3" textLength="102.8" lengthAdjust="spacingAndGlyphs">Myeloid</text>
<text x="1414.4" y="502" font-size="27" stroke="#8dccf0" stroke-width="0.3" textLength="176.5" lengthAdjust="spacingAndGlyphs">dysregulation</text>
<text x="1126.8" y="647.7" font-size="27" stroke="#fff" stroke-width="0.3" textLength="361.7" lengthAdjust="spacingAndGlyphs">Myeloid dysregulation score</text>
<text transform="translate(889.3 342.2) rotate(-90)" x="-195.4" y="0" font-size="26.5" stroke="#fff" stroke-width="0.3" textLength="389.6" lengthAdjust="spacingAndGlyphs">Lymphoid dysregulation score</text>
</g>
<g id="panel-c">
<text x="7.5" y="734.3" font-size="38" font-weight="700" stroke="#231f20" stroke-width="0.9" stroke-linejoin="round" textLength="23.6" lengthAdjust="spacingAndGlyphs">c</text>
<path d="M131.4 776.3 L131.4 774.3 L135.4 774.3 L139.4 774.3 L143.4 774.2 L147.4 774.1 L151.4 774 L155.4 773.9 L159.4 773.8 L163.4 773.7 L167.4 773.6 L171.4 773.5 L175.4 773.3 L179.4 773.1 L183.4 772.8 L187.4 772.4 L191.4 772.1 L195.4 771.6 L199.4 771.1 L203.4 770.4 L207.4 769.2 L211.4 767.7 L215.4 766.1 L219.4 764.3 L223.4 762.4 L227.3 760.4 L231.3 758 L235.3 755.3 L239.3 752 L243.3 747.9 L247.3 743.2 L251.3 738 L255.3 732.5 L259.3 725.9 L263.3 718.4 L267.3 711.5 L271.3 706.6 L275.3 702.6 L279.3 699.8 L283.3 698.1 L287.3 697.8 L291.3 698.8 L295.3 701.4 L299.3 706.2 L303.3 711.4 L307.3 717.6 L311.3 723.9 L315.3 730.3 L319.3 736.8 L323.3 741.7 L327.3 744.7 L331.3 747 L335.3 749.3 L339.3 751.3 L343.3 753.1 L347.3 754.8 L351.3 756.6 L355.3 758.2 L359.3 759.7 L363.3 761.1 L367.3 762.2 L371.3 763 L375.3 763.7 L379.3 764.3 L383.3 764.9 L387.3 765.4 L391.3 765.9 L395.3 766.3 L399.3 766.7 L403.3 767 L407.3 767.4 L411.2 767.8 L415.2 768.1 L419.2 768.5 L423.2 768.8 L427.2 769.2 L431.2 769.5 L435.2 769.8 L439.2 770 L443.2 770.1 L447.2 770.3 L451.2 770.4 L455.2 770.5 L459.2 770.6 L463.2 770.7 L467.2 770.8 L471.2 770.9 L475.2 771 L479.2 771.1 L483.2 771.2 L487.2 771.3 L491.2 771.3 L495.2 771.4 L499.2 771.5 L503.2 771.6 L507.2 771.6 L511.2 771.7 L515.2 771.8 L519.2 771.8 L523.2 771.9 L527.2 772 L531.2 772 L535.2 772.1 L539.2 772.1 L543.2 772.2 L547.2 772.3 L551.2 772.3 L555.2 772.4 L559.2 772.4 L563.2 772.5 L567.2 772.6 L571.2 772.6 L575.2 772.7 L579.2 772.8 L583.2 772.9 L587.2 772.9 L591.2 773 L595.1 773.1 L599.1 773.2 L603.1 773.2 L607.1 773.3 L611.1 773.4 L615.1 773.4 L619.1 773.5 L623.1 773.5 L627.1 773.6 L631.1 773.7 L635.1 773.7 L639.1 773.8 L643.1 773.8 L647.1 773.9 L651.1 773.9 L655.1 774 L659.1 774 L663.1 774.1 L667.1 774.1 L671.1 774.1 L675.1 774.2 L679.1 774.2 L683.1 774.3 L687.1 774.3 L687.1 776.3Z" fill="#fff0dd" fill-opacity="1.0"/>
<path d="M131.4 776.3 L131.4 774.3 L135.4 774.3 L139.4 774.3 L143.4 774.3 L147.4 774.2 L151.4 774.2 L155.4 774.2 L159.4 774.1 L163.4 774.1 L167.4 774 L171.4 774 L175.4 773.9 L179.4 773.8 L183.4 773.7 L187.4 773.5 L191.4 773.3 L195.4 773.2 L199.4 772.9 L203.4 772.7 L207.4 772.3 L211.4 771.8 L215.4 771.3 L219.4 770.7 L223.4 770.1 L227.3 769.4 L231.3 768.8 L235.3 768.1 L239.3 767.3 L243.3 766.4 L247.3 765.5 L251.3 764.5 L255.3 763.4 L259.3 762.1 L263.3 760.6 L267.3 758.8 L271.3 756.9 L275.3 754.9 L279.3 752.9 L283.3 751 L287.3 749.3 L291.3 747.7 L295.3 746.1 L299.3 744.7 L303.3 743.4 L307.3 742.2 L311.3 741.1 L315.3 740.4 L319.3 739.7 L323.3 739.1 L327.3 738.7 L331.3 738.6 L335.3 738.7 L339.3 739 L343.3 739.4 L347.3 739.7 L351.3 740.1 L355.3 740.5 L359.3 740.9 L363.3 741.3 L367.3 741.8 L371.3 742.3 L375.3 743.1 L379.3 744.1 L383.3 745.3 L387.3 746.6 L391.3 747.8 L395.3 748.9 L399.3 749.9 L403.3 750.6 L407.3 751.3 L411.2 751.9 L415.2 752.4 L419.2 752.9 L423.2 753.4 L427.2 753.8 L431.2 754.2 L435.2 754.6 L439.2 754.9 L443.2 755.3 L447.2 755.5 L451.2 755.8 L455.2 756.1 L459.2 756.3 L463.2 756.6 L467.2 756.9 L471.2 757.3 L475.2 757.6 L479.2 758 L483.2 758.3 L487.2 758.7 L491.2 759.1 L495.2 759.5 L499.2 759.9 L503.2 760.3 L507.2 760.7 L511.2 761.2 L515.2 761.7 L519.2 762.2 L523.2 762.8 L527.2 763.5 L531.2 764.3 L535.2 765.1 L539.2 765.9 L543.2 766.7 L547.2 767.4 L551.2 768.1 L555.2 768.9 L559.2 769.5 L563.2 770 L567.2 770.4 L571.2 770.8 L575.2 771.1 L579.2 771.4 L583.2 771.6 L587.2 771.9 L591.2 772.1 L595.1 772.2 L599.1 772.4 L603.1 772.5 L607.1 772.6 L611.1 772.8 L615.1 772.9 L619.1 773 L623.1 773.1 L627.1 773.2 L631.1 773.3 L635.1 773.4 L639.1 773.5 L643.1 773.6 L647.1 773.6 L651.1 773.7 L655.1 773.8 L659.1 773.9 L663.1 774 L667.1 774 L671.1 774.1 L675.1 774.2 L679.1 774.2 L683.1 774.3 L687.1 774.3 L687.1 776.3Z" fill="#6d6f73" fill-opacity="0.74"/>
<path d="M131.4 774.3 L135.4 774.3 L139.4 774.3 L143.4 774.2 L147.4 774.1 L151.4 774 L155.4 773.9 L159.4 773.8 L163.4 773.7 L167.4 773.6 L171.4 773.5 L175.4 773.3 L179.4 773.1 L183.4 772.8 L187.4 772.4 L191.4 772.1 L195.4 771.6 L199.4 771.1 L203.4 770.4 L207.4 769.2 L211.4 767.7 L215.4 766.1 L219.4 764.3 L223.4 762.4 L227.3 760.4 L231.3 758 L235.3 755.3 L239.3 752 L243.3 747.9 L247.3 743.2 L251.3 738 L255.3 732.5 L259.3 725.9 L263.3 718.4 L267.3 711.5 L271.3 706.6 L275.3 702.6 L279.3 699.8 L283.3 698.1 L287.3 697.8 L291.3 698.8 L295.3 701.4 L299.3 706.2 L303.3 711.4 L307.3 717.6 L311.3 723.9 L315.3 730.3 L319.3 736.8 L323.3 741.7 L327.3 744.7 L331.3 747 L335.3 749.3 L339.3 751.3 L343.3 753.1 L347.3 754.8 L351.3 756.6 L355.3 758.2 L359.3 759.7 L363.3 761.1 L367.3 762.2 L371.3 763 L375.3 763.7 L379.3 764.3 L383.3 764.9 L387.3 765.4 L391.3 765.9 L395.3 766.3 L399.3 766.7 L403.3 767 L407.3 767.4 L411.2 767.8 L415.2 768.1 L419.2 768.5 L423.2 768.8 L427.2 769.2 L431.2 769.5 L435.2 769.8 L439.2 770 L443.2 770.1 L447.2 770.3 L451.2 770.4 L455.2 770.5 L459.2 770.6 L463.2 770.7 L467.2 770.8 L471.2 770.9 L475.2 771 L479.2 771.1 L483.2 771.2 L487.2 771.3 L491.2 771.3 L495.2 771.4 L499.2 771.5 L503.2 771.6 L507.2 771.6 L511.2 771.7 L515.2 771.8 L519.2 771.8 L523.2 771.9 L527.2 772 L531.2 772 L535.2 772.1 L539.2 772.1 L543.2 772.2 L547.2 772.3 L551.2 772.3 L555.2 772.4 L559.2 772.4 L563.2 772.5 L567.2 772.6 L571.2 772.6 L575.2 772.7 L579.2 772.8 L583.2 772.9 L587.2 772.9 L591.2 773 L595.1 773.1 L599.1 773.2 L603.1 773.2 L607.1 773.3 L611.1 773.4 L615.1 773.4 L619.1 773.5 L623.1 773.5 L627.1 773.6 L631.1 773.7 L635.1 773.7 L639.1 773.8 L643.1 773.8 L647.1 773.9 L651.1 773.9 L655.1 774 L659.1 774 L663.1 774.1 L667.1 774.1 L671.1 774.1 L675.1 774.2 L679.1 774.2 L683.1 774.3 L687.1 774.3" fill="none" stroke="#231f20" stroke-width="3.4" stroke-linejoin="round" stroke-linecap="butt"/>
<path d="M131.4 774.3 L135.4 774.3 L139.4 774.3 L143.4 774.3 L147.4 774.2 L151.4 774.2 L155.4 774.2 L159.4 774.1 L163.4 774.1 L167.4 774 L171.4 774 L175.4 773.9 L179.4 773.8 L183.4 773.7 L187.4 773.5 L191.4 773.3 L195.4 773.2 L199.4 772.9 L203.4 772.7 L207.4 772.3 L211.4 771.8 L215.4 771.3 L219.4 770.7 L223.4 770.1 L227.3 769.4 L231.3 768.8 L235.3 768.1 L239.3 767.3 L243.3 766.4 L247.3 765.5 L251.3 764.5 L255.3 763.4 L259.3 762.1 L263.3 760.6 L267.3 758.8 L271.3 756.9 L275.3 754.9 L279.3 752.9 L283.3 751 L287.3 749.3 L291.3 747.7 L295.3 746.1 L299.3 744.7 L303.3 743.4 L307.3 742.2 L311.3 741.1 L315.3 740.4 L319.3 739.7 L323.3 739.1 L327.3 738.7 L331.3 738.6 L335.3 738.7 L339.3 739 L343.3 739.4 L347.3 739.7 L351.3 740.1 L355.3 740.5 L359.3 740.9 L363.3 741.3 L367.3 741.8 L371.3 742.3 L375.3 743.1 L379.3 744.1 L383.3 745.3 L387.3 746.6 L391.3 747.8 L395.3 748.9 L399.3 749.9 L403.3 750.6 L407.3 751.3 L411.2 751.9 L415.2 752.4 L419.2 752.9 L423.2 753.4 L427.2 753.8 L431.2 754.2 L435.2 754.6 L439.2 754.9 L443.2 755.3 L447.2 755.5 L451.2 755.8 L455.2 756.1 L459.2 756.3 L463.2 756.6 L467.2 756.9 L471.2 757.3 L475.2 757.6 L479.2 758 L483.2 758.3 L487.2 758.7 L491.2 759.1 L495.2 759.5 L499.2 759.9 L503.2 760.3 L507.2 760.7 L511.2 761.2 L515.2 761.7 L519.2 762.2 L523.2 762.8 L527.2 763.5 L531.2 764.3 L535.2 765.1 L539.2 765.9 L543.2 766.7 L547.2 767.4 L551.2 768.1 L555.2 768.9 L559.2 769.5 L563.2 770 L567.2 770.4 L571.2 770.8 L575.2 771.1 L579.2 771.4 L583.2 771.6 L587.2 771.9 L591.2 772.1 L595.1 772.2 L599.1 772.4 L603.1 772.5 L607.1 772.6 L611.1 772.8 L615.1 772.9 L619.1 773 L623.1 773.1 L627.1 773.2 L631.1 773.3 L635.1 773.4 L639.1 773.5 L643.1 773.6 L647.1 773.6 L651.1 773.7 L655.1 773.8 L659.1 773.9 L663.1 774 L667.1 774 L671.1 774.1 L675.1 774.2 L679.1 774.2 L683.1 774.3 L687.1 774.3" fill="none" stroke="#231f20" stroke-width="3.4" stroke-linejoin="round" stroke-linecap="butt"/>
<path d="M719.5 796 L721.5 796 L721.5 798.7 L721.5 801.4 L721.5 804.1 L721.5 806.8 L721.5 809.6 L721.5 812.3 L721.5 815 L721.5 817.7 L721.5 820.4 L721.5 823.1 L721.5 825.8 L721.5 828.5 L721.5 831.3 L721.5 834 L721.5 836.7 L721.5 839.4 L721.5 842.1 L721.6 844.8 L721.8 847.5 L722 850.2 L722.1 853 L722.4 855.7 L722.7 858.4 L723.1 861.1 L723.5 863.8 L723.9 866.5 L724.3 869.2 L724.8 871.9 L725.2 874.7 L725.6 877.4 L726 880.1 L726.4 882.8 L726.7 885.5 L727.1 888.2 L727.4 890.9 L727.8 893.6 L728.1 896.4 L728.5 899.1 L728.9 901.8 L729.3 904.5 L729.8 907.2 L730.2 909.9 L730.8 912.6 L731.4 915.3 L732 918.1 L732.7 920.8 L733.4 923.5 L734.1 926.2 L734.7 928.9 L735.4 931.6 L736 934.3 L736.5 937 L737.1 939.7 L737.7 942.5 L738.4 945.2 L739.1 947.9 L739.9 950.6 L740.8 953.3 L742 956 L743.3 958.7 L744.8 961.4 L746.4 964.2 L748.1 966.9 L750 969.6 L752 972.3 L754 975 L756.1 977.7 L758.4 980.4 L760.7 983.1 L763.3 985.9 L766 988.6 L769 991.3 L772.3 994 L775.8 996.7 L779.3 999.4 L782.5 1002.1 L785.6 1004.8 L788.7 1007.6 L792 1010.3 L795.5 1013 L799.6 1015.7 L804.4 1018.4 L809.4 1021.1 L814.6 1023.8 L819.9 1026.5 L823.7 1029.3 L826.3 1032 L828.4 1034.7 L829.6 1037.4 L830.6 1040.1 L831.2 1042.8 L831.4 1045.5 L830.8 1048.2 L829.6 1050.9 L828.1 1053.7 L825.4 1056.4 L821.5 1059.1 L816.2 1061.8 L808.5 1064.5 L800.4 1067.2 L792.5 1069.9 L784.3 1072.6 L775.4 1075.4 L765.7 1078.1 L756.6 1080.8 L748.7 1083.5 L741.5 1086.2 L736.6 1088.9 L733.4 1091.6 L731.1 1094.3 L729.4 1097.1 L728.1 1099.8 L727.2 1102.5 L726.3 1105.2 L725.5 1107.9 L724.7 1110.6 L724 1113.3 L723.4 1116 L722.8 1118.8 L722.4 1121.5 L722.1 1124.2 L721.9 1126.9 L721.7 1129.6 L721.5 1132.3 L721.5 1135 L721.5 1137.7 L721.5 1140.5 L721.5 1143.2 L721.5 1145.9 L721.5 1148.6 L721.5 1151.3 L721.5 1154 L721.5 1156.7 L721.5 1159.4 L721.5 1162.2 L721.5 1164.9 L721.5 1167.6 L721.5 1170.3 L721.5 1173 L719.5 1173Z" fill="#fff0dd" fill-opacity="1.0"/>
<path d="M719.5 796 L721.5 796 L721.5 798.7 L721.5 801.4 L721.5 804.1 L721.5 806.8 L721.5 809.6 L721.5 812.3 L721.5 815 L721.5 817.7 L721.5 820.4 L721.5 823.1 L721.6 825.8 L721.9 828.5 L722.1 831.3 L722.4 834 L722.7 836.7 L723 839.4 L723.4 842.1 L723.8 844.8 L724.3 847.5 L724.8 850.2 L725.5 853 L726.5 855.7 L727.7 858.4 L729 861.1 L730.4 863.8 L731.8 866.5 L733.5 869.2 L735.3 871.9 L737.1 874.7 L738.7 877.4 L740 880.1 L741.1 882.8 L742 885.5 L742.9 888.2 L743.6 890.9 L744.4 893.6 L745.1 896.4 L745.8 899.1 L746.4 901.8 L747 904.5 L747.5 907.2 L748 909.9 L748.5 912.6 L749 915.3 L749.6 918.1 L750.3 920.8 L751.2 923.5 L752.4 926.2 L753.9 928.9 L755.7 931.6 L757.7 934.3 L759.8 937 L761.8 939.7 L763.9 942.5 L766.1 945.2 L768.4 947.9 L770.7 950.6 L773 953.3 L775.3 956 L777.7 958.7 L780.1 961.4 L782.3 964.2 L784.5 966.9 L786.7 969.6 L788.8 972.3 L790.8 975 L792.6 977.7 L794.2 980.4 L795.7 983.1 L797.1 985.9 L798.1 988.6 L798.7 991.3 L799.2 994 L799.4 996.7 L799.3 999.4 L799 1002.1 L798.5 1004.8 L797.7 1007.6 L796.4 1010.3 L795 1013 L793.6 1015.7 L792.1 1018.4 L790.5 1021.1 L788.8 1023.8 L787 1026.5 L785.1 1029.3 L783.2 1032 L781.1 1034.7 L778.9 1037.4 L776.6 1040.1 L774.1 1042.8 L771.5 1045.5 L768.5 1048.2 L764.9 1050.9 L761 1053.7 L757.1 1056.4 L753.2 1059.1 L749.5 1061.8 L745.5 1064.5 L741.6 1067.2 L738 1069.9 L735.1 1072.6 L733.1 1075.4 L731.5 1078.1 L730.2 1080.8 L729.1 1083.5 L728.1 1086.2 L727.2 1088.9 L726.4 1091.6 L725.7 1094.3 L725.1 1097.1 L724.6 1099.8 L724.1 1102.5 L723.7 1105.2 L723.3 1107.9 L722.9 1110.6 L722.5 1113.3 L722.2 1116 L721.9 1118.8 L721.6 1121.5 L721.5 1124.2 L721.5 1126.9 L721.5 1129.6 L721.5 1132.3 L721.5 1135 L721.5 1137.7 L721.5 1140.5 L721.5 1143.2 L721.5 1145.9 L721.5 1148.6 L721.5 1151.3 L721.5 1154 L721.5 1156.7 L721.5 1159.4 L721.5 1162.2 L721.5 1164.9 L721.5 1167.6 L721.5 1170.3 L721.5 1173 L719.5 1173Z" fill="#6d6f73" fill-opacity="0.74"/>
<path d="M721.5 796 L721.5 798.7 L721.5 801.4 L721.5 804.1 L721.5 806.8 L721.5 809.6 L721.5 812.3 L721.5 815 L721.5 817.7 L721.5 820.4 L721.5 823.1 L721.5 825.8 L721.5 828.5 L721.5 831.3 L721.5 834 L721.5 836.7 L721.5 839.4 L721.5 842.1 L721.6 844.8 L721.8 847.5 L722 850.2 L722.1 853 L722.4 855.7 L722.7 858.4 L723.1 861.1 L723.5 863.8 L723.9 866.5 L724.3 869.2 L724.8 871.9 L725.2 874.7 L725.6 877.4 L726 880.1 L726.4 882.8 L726.7 885.5 L727.1 888.2 L727.4 890.9 L727.8 893.6 L728.1 896.4 L728.5 899.1 L728.9 901.8 L729.3 904.5 L729.8 907.2 L730.2 909.9 L730.8 912.6 L731.4 915.3 L732 918.1 L732.7 920.8 L733.4 923.5 L734.1 926.2 L734.7 928.9 L735.4 931.6 L736 934.3 L736.5 937 L737.1 939.7 L737.7 942.5 L738.4 945.2 L739.1 947.9 L739.9 950.6 L740.8 953.3 L742 956 L743.3 958.7 L744.8 961.4 L746.4 964.2 L748.1 966.9 L750 969.6 L752 972.3 L754 975 L756.1 977.7 L758.4 980.4 L760.7 983.1 L763.3 985.9 L766 988.6 L769 991.3 L772.3 994 L775.8 996.7 L779.3 999.4 L782.5 1002.1 L785.6 1004.8 L788.7 1007.6 L792 1010.3 L795.5 1013 L799.6 1015.7 L804.4 1018.4 L809.4 1021.1 L814.6 1023.8 L819.9 1026.5 L823.7 1029.3 L826.3 1032 L828.4 1034.7 L829.6 1037.4 L830.6 1040.1 L831.2 1042.8 L831.4 1045.5 L830.8 1048.2 L829.6 1050.9 L828.1 1053.7 L825.4 1056.4 L821.5 1059.1 L816.2 1061.8 L808.5 1064.5 L800.4 1067.2 L792.5 1069.9 L784.3 1072.6 L775.4 1075.4 L765.7 1078.1 L756.6 1080.8 L748.7 1083.5 L741.5 1086.2 L736.6 1088.9 L733.4 1091.6 L731.1 1094.3 L729.4 1097.1 L728.1 1099.8 L727.2 1102.5 L726.3 1105.2 L725.5 1107.9 L724.7 1110.6 L724 1113.3 L723.4 1116 L722.8 1118.8 L722.4 1121.5 L722.1 1124.2 L721.9 1126.9 L721.7 1129.6 L721.5 1132.3 L721.5 1135 L721.5 1137.7 L721.5 1140.5 L721.5 1143.2 L721.5 1145.9 L721.5 1148.6 L721.5 1151.3 L721.5 1154 L721.5 1156.7 L721.5 1159.4 L721.5 1162.2 L721.5 1164.9 L721.5 1167.6 L721.5 1170.3 L721.5 1173" fill="none" stroke="#231f20" stroke-width="3.4" stroke-linejoin="round" stroke-linecap="butt"/>
<path d="M721.5 796 L721.5 798.7 L721.5 801.4 L721.5 804.1 L721.5 806.8 L721.5 809.6 L721.5 812.3 L721.5 815 L721.5 817.7 L721.5 820.4 L721.5 823.1 L721.6 825.8 L721.9 828.5 L722.1 831.3 L722.4 834 L722.7 836.7 L723 839.4 L723.4 842.1 L723.8 844.8 L724.3 847.5 L724.8 850.2 L725.5 853 L726.5 855.7 L727.7 858.4 L729 861.1 L730.4 863.8 L731.8 866.5 L733.5 869.2 L735.3 871.9 L737.1 874.7 L738.7 877.4 L740 880.1 L741.1 882.8 L742 885.5 L742.9 888.2 L743.6 890.9 L744.4 893.6 L745.1 896.4 L745.8 899.1 L746.4 901.8 L747 904.5 L747.5 907.2 L748 909.9 L748.5 912.6 L749 915.3 L749.6 918.1 L750.3 920.8 L751.2 923.5 L752.4 926.2 L753.9 928.9 L755.7 931.6 L757.7 934.3 L759.8 937 L761.8 939.7 L763.9 942.5 L766.1 945.2 L768.4 947.9 L770.7 950.6 L773 953.3 L775.3 956 L777.7 958.7 L780.1 961.4 L782.3 964.2 L784.5 966.9 L786.7 969.6 L788.8 972.3 L790.8 975 L792.6 977.7 L794.2 980.4 L795.7 983.1 L797.1 985.9 L798.1 988.6 L798.7 991.3 L799.2 994 L799.4 996.7 L799.3 999.4 L799 1002.1 L798.5 1004.8 L797.7 1007.6 L796.4 1010.3 L795 1013 L793.6 1015.7 L792.1 1018.4 L790.5 1021.1 L788.8 1023.8 L787 1026.5 L785.1 1029.3 L783.2 1032 L781.1 1034.7 L778.9 1037.4 L776.6 1040.1 L774.1 1042.8 L771.5 1045.5 L768.5 1048.2 L764.9 1050.9 L761 1053.7 L757.1 1056.4 L753.2 1059.1 L749.5 1061.8 L745.5 1064.5 L741.6 1067.2 L738 1069.9 L735.1 1072.6 L733.1 1075.4 L731.5 1078.1 L730.2 1080.8 L729.1 1083.5 L728.1 1086.2 L727.2 1088.9 L726.4 1091.6 L725.7 1094.3 L725.1 1097.1 L724.6 1099.8 L724.1 1102.5 L723.7 1105.2 L723.3 1107.9 L722.9 1110.6 L722.5 1113.3 L722.2 1116 L721.9 1118.8 L721.6 1121.5 L721.5 1124.2 L721.5 1126.9 L721.5 1129.6 L721.5 1132.3 L721.5 1135 L721.5 1137.7 L721.5 1140.5 L721.5 1143.2 L721.5 1145.9 L721.5 1148.6 L721.5 1151.3 L721.5 1154 L721.5 1156.7 L721.5 1159.4 L721.5 1162.2 L721.5 1164.9 L721.5 1167.6 L721.5 1170.3 L721.5 1173" fill="none" stroke="#231f20" stroke-width="3.4" stroke-linejoin="round" stroke-linecap="butt"/>
<rect x="103.9" y="777.1" width="232.1" height="231.6" fill="#b0a4d0"/><rect x="336" y="777.1" width="378.9" height="231.6" fill="#f47d20"/><rect x="103.9" y="1008.7" width="232.1" height="184.2" fill="#acadae"/><rect x="336" y="1008.7" width="378.9" height="184.2" fill="#8dccf0"/>
<line x1="103.9" y1="1008.7" x2="714.9" y2="1008.7" stroke="#231f20" stroke-width="4.2" stroke-dasharray="7.8 8.8" stroke-dashoffset="-2.3"/>
<line x1="336" y1="777.1" x2="336" y2="1192.9" stroke="#231f20" stroke-width="4.2" stroke-dasharray="7.8 8.5" stroke-dashoffset="-7.2"/>
<path d="M276.6 1032.3h0M483.7 1001.2h0M298.6 1104h0M268.7 1069.6h0M273.2 1063.5h0M258.8 1031.1h0M436.2 1074.8h0M301.1 991.1h0M277.9 1043.1h0M257.7 961.5h0M207.3 988.6h0M281.6 1046.3h0M270.2 1059.8h0M284.2 1016.9h0M262 1070.8h0M321.6 1103h0M328.4 1021.3h0M240.5 1003.4h0M211.4 1081h0M277.6 1073.9h0M226.9 1080.6h0M281.4 905.4h0M272.3 940.6h0M281.2 904.3h0M226.3 1066.4h0M278.8 1095.5h0M279.4 1039.9h0M304.8 1057.3h0M251.6 1007.8h0M232.4 1055.2h0M347.8 967h0M294.8 1077.3h0M246.9 1058.3h0M215.4 1103.2h0M276.1 1080.4h0M263 1059.1h0M262.3 1046.1h0M269.9 1089.3h0M159.5 970.9h0M311.8 1084.9h0M261.2 956.9h0M194.9 833.4h0M261.6 1076.4h0M283.4 1035.6h0M234.2 1067.3h0M202.9 1051.8h0M235 1058.2h0M300.6 923.8h0M316.9 1004.7h0M253 1075.6h0M266.3 1050.5h0M249.7 1056.2h0M288.8 1064.2h0M186.7 1047.9h0M300.8 1084h0M263 1117.6h0M298.9 989.6h0M207.2 833.2h0M257.5 1068.9h0M249.2 1090.8h0M291.1 1037.5h0M280.8 1011.3h0M280.5 973.2h0M243.7 1064.1h0M380.1 1070.1h0M239 1061.2h0M269.3 1064.3h0M342.5 983h0M334.9 1050.7h0M375.5 1027.3h0M443.8 981.8h0M250 1049.2h0M266.8 1066.3h0M300.2 1046.5h0M252.5 1068.4h0M256.5 987.4h0M249.8 1031.3h0M332.5 1028.5h0M264.6 888.3h0M327.6 961h0M282.8 1097h0M339.9 1042.7h0M274.8 1055.3h0M245.1 938.5h0M309.7 1048.3h0M264.4 1051.9h0M334.7 962.4h0M244.7 1050.4h0M219.3 918.2h0M243.9 1039.4h0M258.1 1076.8h0M244.1 1083.8h0M280.2 1053.2h0M249.7 1033.8h0M337.4 1070.3h0M253.4 1075.9h0M326 1012.5h0M264.3 1011.3h0M290.2 982.7h0M270.2 1067.4h0M363.4 958.9h0M279.2 1053.9h0M255.7 1060.1h0M364.5 1071.8h0M346.2 1045.5h0M439.5 969h0M419.6 1004.1h0M225.6 1079.9h0M253.3 1069.8h0M263.4 1097.6h0M281.2 990.8h0M286.6 867.9h0M311.9 1004.3h0M276.6 1072.4h0M347.5 1069.4h0M244.5 1068.4h0M241.7 1086.3h0M246.9 1013.5h0M328 1037.7h0M255.6 1067.2h0M425.3 1013.4h0M271.2 982h0M274.9 1023.6h0M260 1033.2h0M305.9 1016.6h0M290 1057.4h0M187.3 935.9h0M244.9 1047.7h0M364.6 985.3h0M258.9 1094.8h0M228.2 1042.9h0M349.6 957.8h0M269.4 1037.3h0M292.7 1066.6h0M273.5 1064.2h0M346.1 987.8h0M374.8 931.6h0M254.9 1097.5h0M373.5 1040.6h0M237.6 1077.7h0M235.3 1095.9h0M278.1 1081.4h0M230.1 1044.6h0M398.3 1002.2h0M248.9 1027h0M273.8 866h0M260.7 1019.1h0M300.7 989.6h0M292.9 1040.6h0M242 1074.7h0M291.4 1010.9h0M275.5 1043h0M306.8 842.8h0M292.8 887.3h0M267.9 1088.9h0M264.2 1035.9h0M257.8 1004.2h0M269.6 1087.1h0M244.1 1000.5h0M277.8 1073.4h0M266.8 1061.4h0M276.6 1057.4h0M257.9 1028.7h0M339.5 979.8h0M285.8 1072.6h0M296.1 1065.1h0M268.6 975.3h0M286.7 1012.1h0M261.8 1086.7h0M217.1 1057.4h0M228.9 1064.6h0M285 1059.8h0M280.6 1039.9h0M311.8 1008.1h0M275 1075.9h0M294.6 1068.6h0M210.6 1073.2h0M252.3 1042.9h0M287 1046.5h0M282.5 1071.3h0M218.9 1068.1h0M253.3 1068.7h0M300.6 1025h0M243 1090.7h0M372.6 952h0M283.3 934.4h0M232.8 1078.1h0M250.7 1079.6h0M265 974.8h0M318.6 1035h0M261.6 1017.4h0M276.6 967.3h0M231 1082.6h0M275.4 1063h0M284.9 1055.7h0M380.7 1001h0M250.1 1002.7h0M309.4 1067.3h0M307.4 1040.1h0M432.2 1086.4h0M263.9 1041.4h0M300 1022.8h0M262.8 1051.1h0M239.3 1054.2h0M593.2 960.9h0M270 1048.6h0M252.3 891.1h0M274.2 1046.1h0M276.3 984h0M278.4 1032.2h0M309.3 1053.7h0M267 1048.7h0M228.5 1054.4h0M279.7 1086h0M241.2 1086.2h0M299.1 1067.6h0M268.5 992.8h0M309.7 1062.8h0M271 1080.1h0M245.6 1001.4h0M433.8 981.7h0M244.6 1070.9h0M292.6 1070.8h0M255.9 1061.5h0M238.1 1079.8h0M245.3 995.4h0M301.2 929.3h0M237.4 1005.7h0M285.6 1054.9h0M286.2 1076.1h0M298.8 999.3h0M201.8 986.5h0M348.3 1044.2h0M253.6 1066h0M258 1086.2h0M282 1084.9h0M275.5 1004.6h0M255.6 1050.2h0M302 1020.4h0M452.7 994.7h0M254.5 1078.3h0M347.3 1005.6h0M234.9 964.3h0M267.7 1091.7h0M258.3 1023.3h0M474.4 1044.9h0M219.5 1001.2h0M312.1 1060.7h0M249.3 1036.6h0M329.6 1000.3h0M274.9 1044.3h0M288.6 1032.5h0M328.5 1011.7h0M255.2 1042.6h0M216.6 1055.9h0M192.2 875.9h0M234.8 1057.6h0M276.9 1083.2h0M259.2 1049.1h0M283 1029.6h0M312.4 1076.1h0M272.3 1062.1h0M491.5 1012.1h0M221 1044.3h0M268.2 1014.3h0M277.6 1075.3h0M284.6 1071.3h0M266.2 1053.6h0M372.1 997.4h0M289.8 1069.3h0M431.8 1061.5h0M347.9 958.4h0M237.8 862.1h0M256.3 1089.4h0M304.2 1101.2h0M235.6 1053.9h0M248.1 1089.5h0M222.6 1046.6h0M312.1 940.5h0M238.2 952.1h0M276.9 1017.1h0M261.6 1054.9h0M288.7 1040.9h0M342.8 1017.7h0M250 1046.1h0M396.9 1032h0M272.7 991.3h0M273 1029h0M350 1085.3h0M272.4 982.9h0M238 1065.4h0M235.1 1095.2h0M280.9 1042.2h0M316.5 996.1h0M275.8 891.1h0M345.5 1099.6h0M270.3 1050.4h0M262.6 1058.8h0M264.1 1058.1h0M302.9 1044.6h0M270.1 1063.7h0M375.5 1003.8h0M219.5 1028.3h0M233.2 974.1h0M296.6 945.2h0M271.9 1007.4h0M311.3 966.5h0M325.7 1057h0M296 850.1h0M271.6 1080.3h0M327.3 1011h0M263.6 1086.5h0M277 1039.9h0M267.4 1020.6h0M228.8 1070.3h0M246.6 1057.3h0M248 1062.8h0M282.3 1082.1h0M271.3 1024.5h0M289.7 922.4h0M234.9 1039.8h0M405.6 1006.5h0M278 1048.9h0M304.7 1079.4h0M289.8 1080.6h0M298.7 1059.1h0M281.9 1017.2h0M396.2 980.2h0M274.6 927.3h0M243.4 1070.3h0M267.6 1051.4h0M266.5 1060.6h0M311.6 930.5h0M278.3 1050.1h0M272.9 1055.5h0M425.7 1035h0M341.3 985.5h0M263.5 997.8h0M272 1090.5h0M374.1 1106h0M314.4 904.4h0M212.8 1010h0M299.4 1008.5h0M268.8 1025h0M234 1051.1h0M336.4 1057h0M320.3 1022.9h0M308.7 933.6h0M266.7 994.4h0M265.6 1046.8h0M218 1081.7h0M323 1008h0M269 1107.2h0M302.2 1038.1h0M286.9 1080.7h0M293 918.3h0M284.8 830.5h0M252.9 1078.5h0M286 1080.5h0M273 1107.4h0M186.2 1039.1h0M277.2 1056.9h0M233.5 1071.4h0M295.9 1046.1h0M264.6 1039.4h0M470.8 957.3h0M277.5 1078.9h0M288.5 1049.3h0M371.9 999.3h0M283.1 1039h0M292.1 824.5h0M281.6 1045.9h0M248.6 1030.1h0M272 1054.4h0M279.7 1076h0M263 1088.6h0M269.9 1056.5h0M246.9 1026.4h0M370.9 1017.6h0M229.9 1070.2h0M277.9 1100.2h0M312.2 942.1h0M206.1 1064.5h0M253.4 1040.8h0M315.4 973.2h0M265.2 1062.4h0M293.5 932.2h0M292.8 1053h0M249.3 1037.7h0M280.3 1004.6h0M222.3 1063.7h0M219 989.7h0M269.6 1085.4h0M274.7 1029.2h0M312.7 1064.2h0M340 1113.2h0M351.8 1086.2h0M234.4 1063h0M270.2 1011h0M327.9 1122.4h0M259.5 987.8h0M269.5 1077.7h0M289.2 981.2h0M279 1000.2h0M309.5 987h0M270.2 1098.1h0M278.3 1002.6h0M322.7 987.7h0M264.7 1078.4h0M290.1 988h0M282.1 1085.8h0M261.1 1095.2h0M267 1081.4h0M308.7 985.9h0M332.5 1010.7h0M226.2 1046.2h0M252.4 1057.7h0M299.4 1045.1h0M249.1 1088.8h0M286.6 899.9h0M230.7 1003.5h0M257.3 1101.4h0M286.7 1055.6h0M270.5 957.7h0M358.8 1061.3h0M247.4 1060.2h0M258.4 1059.7h0M235.8 1075.9h0M273.1 981.5h0M242 1075.6h0M256.1 1061.3h0M330.2 974.9h0M243.6 1037.3h0M312.6 1030.2h0M250.1 1093.9h0M180.3 1048.4h0M334.6 1048.8h0M275.6 1056.5h0M270.2 1036.5h0M264.6 1071.1h0M256.9 1047.7h0M283.3 1009.6h0M249.6 1029.9h0M301.4 1071.2h0M267.5 1061.2h0M255 1049.2h0M287.6 1050.8h0M244.4 1053.6h0M233.7 1026.7h0M233.9 1016.3h0M317.6 1033.9h0M412.1 1050.4h0M251.2 1080.9h0M277.8 1042.5h0M244.4 1046.2h0M222.4 1055.8h0M227.5 1075.6h0M437.6 996h0M264.5 1066h0M250.9 1127.2h0M327.8 982.8h0M272.2 1033.2h0M305 975h0M260.9 1004.2h0M421.5 982.8h0M273 1053.9h0M226.8 993.7h0M415.2 1018.7h0M428.8 983h0M342.1 1040.1h0M233.2 1011.7h0M295.7 992h0M371.6 1066.8h0M275.5 1077.2h0M221.2 1050.7h0M393.9 1008h0M277.1 1084.2h0M259.3 1022.4h0M279.2 1036.8h0M310.2 1012.7h0M209 1062.9h0M290 1093.4h0M249.2 1058.9h0M308.1 1031h0M305.7 1021h0M244.1 1066.2h0M270.9 1079.9h0M235.1 1064.7h0M277.7 1048.8h0M566 978.8h0M264 1073.3h0M244.7 1075.1h0M225.7 1037h0M255.4 1041h0M271.6 955.5h0M270.4 1082.9h0M269.6 928.2h0M250.4 1013.2h0M250.5 1064.3h0M257.4 972.2h0" stroke="#ffe6c8" stroke-width="5.7" stroke-linecap="round" fill="none"/><path d="M307.7 1024.6h0M358.7 901.7h0M489.6 901.2h0M270.8 901.2h0M477.5 857.8h0M337 1067.7h0M345.2 1019.9h0M182.6 955.4h0M377.3 1019.7h0M223.8 1073.5h0M459.1 1020.1h0M322.7 941.3h0M494.4 1016.8h0M591.2 1080.4h0M561.7 971.6h0M366.3 956.8h0M539.6 989.1h0M287.5 1086.6h0M311.2 966.8h0M313.2 932.8h0M547.3 996.5h0M324.8 1057.7h0M374.3 996.6h0M505.9 958.5h0M400.3 1002h0M450.1 932.7h0M416.9 929.3h0M341.4 1007.2h0M432.1 925.7h0M482 1067.2h0M414.7 852.2h0M502.6 964.7h0M394.6 966.1h0M364.6 1005.3h0M275.3 1000.2h0M510.8 966.7h0M492.1 1049.5h0M387.2 930.9h0M461 852h0M416.1 983h0M488.9 878.9h0M371.6 1036h0M429.3 1059.8h0M531.2 900.8h0M275.2 980.1h0M316.6 939.5h0M301.5 979.5h0M237.8 925.5h0M271.1 952.7h0M251.8 988.5h0M573.3 891.9h0M309.5 1009.5h0M339.4 941.1h0M332.1 981.1h0M275.9 1085.2h0M478.9 983.3h0M326.1 1027.5h0M547.3 917.7h0M463.7 994.3h0M432.5 976.8h0M411.1 922.9h0M451.2 958.2h0M358.8 1010.7h0M480 1070.9h0M505.9 958.5h0M386.3 1012.6h0M304.5 1036h0" stroke="#231f20" stroke-width="5.7" stroke-linecap="round" fill="none"/><path d="M288.3 918.4h0M331.2 1062.6h0M252.8 1041h0M247.1 1044.3h0M306.7 1063.1h0M370.8 1005.5h0M268.2 988.1h0M284.1 1027h0M245 1065h0M280.2 1063.2h0M223.5 1050.8h0M308 987h0M286.7 1011.6h0M312.9 974.7h0M244.8 1008.7h0M346.9 1018.8h0M267.4 1077.2h0M334.6 981.7h0M315.7 976.9h0M284.7 1013.7h0M341.6 982h0M331.6 975.8h0M187.3 1023.7h0M270 1066.1h0M265 1022.2h0M251.8 955.9h0M303.3 890.7h0M292.8 991.5h0M353.3 962.6h0M298.8 1059.7h0M275.3 1077.2h0M263.9 1024.8h0M267.4 1079.4h0M294.9 1001.2h0M284.9 1000.7h0M215.4 1067h0M271.1 1064.5h0M284.4 1033.9h0M275.7 1067h0M217 996.1h0M424.4 969.5h0M271.1 1061.3h0M258 1051.6h0M293.6 1025.6h0M269.2 1073.4h0M261.3 1062.9h0M246.3 1056.2h0M231.7 1055.8h0M237.5 1079.9h0M220.2 982.8h0M234.9 1073.6h0M353.7 1067.3h0M361.2 1025.1h0M269.1 1063.2h0M287.9 965.6h0M342.8 1106.9h0M334.3 1023.2h0M289 964.1h0M288.3 966.3h0M335.5 1036h0M375.4 964.9h0M233.7 1065.5h0M356.2 1071.6h0M268.5 1089.1h0M298.1 1032.1h0M271.4 1065.1h0M289.3 1004.6h0M269.9 1059.1h0M227.9 1046.6h0M279.2 1077.9h0M173 1041.5h0M193.8 1068.5h0M271.2 1048.6h0M311.2 982.3h0M255.9 1061.1h0M247.2 1069.2h0M261.7 1058.6h0M255.5 1084.9h0M173.6 1030.2h0M308.1 998h0M294.3 1060.1h0M235.1 1105.3h0M345.3 1069.1h0M300.9 1086.2h0M260.4 1067.5h0M272.6 967.5h0M233.7 1112.7h0M276.3 1060h0M283.4 1012.4h0M329.7 899.6h0M281.9 992.8h0M283.4 1067.3h0M257.6 1036h0M237.8 1061.5h0M227.1 1069.3h0M371.7 986.7h0M262.4 954h0M282.1 1029.9h0M220.7 1078.5h0M336.5 1046.8h0M276.4 1037.2h0M305.2 883h0M358.4 1009.2h0M268.4 1087.2h0M178.9 1011.9h0M412.8 1066.2h0M269.1 1078.7h0M297.5 983.3h0M246 1094.2h0M261.2 1071.7h0M248.1 1067h0M283.1 1046.7h0M248.6 1071h0M275 869.7h0M314.2 1044.7h0M375.2 935.7h0M234.9 1024.3h0M271.9 1081.7h0M289.4 1005.5h0M254.1 1064.4h0M264.7 1079.8h0M282.8 1067.1h0M270.9 1011.2h0M269.9 1108.5h0M242.8 1048.1h0M341.1 1030h0M284 1045.9h0M228 1064.9h0M245.8 986.5h0M277.4 1056.5h0M378.2 1022.6h0M349.1 971.8h0M234 1069.5h0M270.2 1023.2h0M253.2 896.6h0M273.8 1078.6h0M298.8 1036.7h0M225.6 1092.1h0M246.6 1022.4h0M296 1100.8h0M267.7 1063.5h0M230.1 1059.7h0M249.2 1087.3h0M314.9 1019.3h0M263 1013.3h0M249.8 1059.3h0M287 999.6h0M216.1 972h0M338.1 1068.6h0M211.5 1012.9h0M315.5 961.5h0M264.9 1023.9h0M226.2 988h0M427.2 978.8h0M263.5 1026.4h0M273.5 1055h0M253.6 1105.3h0M229.7 1012h0M131 1103.9h0M288.9 1056.7h0M402.7 1025.5h0M232.6 1038.2h0M267.9 951.2h0M316 1071h0M241.4 962.5h0M264.6 1077.6h0M263.4 1042.3h0M258.7 1060.3h0M298.3 1045.1h0M255.8 1047.1h0M181.9 1094.3h0M227 1052.4h0M300.4 1027.9h0M323.5 998.7h0M325.8 1069.1h0M347.6 1041.2h0M270.5 1032.6h0M257.6 1032h0M265.8 1045.2h0M270.3 949.6h0M369.5 1009.6h0M242.4 1029.9h0M332.7 1018.5h0M267.1 995.4h0M317.1 950.7h0M270 1068.1h0M252.1 1082.1h0M264.6 1083.6h0M309.3 1057.6h0M215.6 883.9h0M259.4 1036.6h0M228.1 1064.1h0M252.6 976.9h0M251.5 1069.7h0M276.1 1022.9h0M245.1 1003.6h0M281.2 952.9h0M330.1 997.9h0M392.1 1016.4h0M287.7 997.5h0M280.7 984.9h0M273.9 929.6h0M290.4 1038.8h0M293 1050.5h0M269.7 960.3h0M236.8 1025.7h0M233.9 1062.2h0M268.7 1072.6h0M265.3 1046.6h0M408.2 1002.9h0M265 1065h0M248.4 1050.6h0M323.6 898.3h0M263.6 1072.1h0M234.7 1049.6h0M227.6 1052.7h0M395.4 1118.3h0M209.6 1072.1h0M236.3 1076.5h0M194.5 1068.6h0M230.1 1033.5h0M276.9 1102.9h0M279.8 1045.7h0M236.5 992.4h0M276.9 1027.6h0M248.9 903.8h0M312.7 1000h0M332.9 1043.9h0M267.3 1064.5h0M443.6 958.2h0M309 1076h0M280.5 995.9h0M242 1000.9h0M294.4 1048.1h0M250.8 1065.1h0M322.9 1008.1h0M256.4 1030.8h0M297.7 1043h0M277.4 1031.3h0M231.7 1064.3h0M267.6 1030.9h0M230.1 985.2h0M283.3 1002.5h0M251.2 1042.7h0M339.8 858.9h0M411.2 946.8h0M262.5 1076.4h0M398.2 968.2h0M277.4 1053.5h0M240.3 1064.7h0M306.6 924.3h0M278.7 1018.9h0M242.6 1056.9h0M255.8 816.2h0M285.7 1089.2h0M263.4 1059.1h0M279.6 1040.5h0M257.3 1038.2h0M232.8 1067.4h0M268.7 1103.5h0M391.6 932.1h0M263.6 993.6h0M248.9 1068.1h0M283.8 1038.4h0M315.1 1065.7h0M342 936.3h0M352.4 884.5h0M422.8 1067.2h0M271.7 986h0M289.1 1063.5h0M484.6 1016h0M320.6 1071h0M277.6 1099.4h0M303.3 1028.6h0M237.5 1068.5h0M327 1032.7h0M280.6 1074.5h0M247.9 1087.9h0M254.9 1008.1h0M272.2 1066.6h0M264.4 1023.2h0M297.9 1065.6h0M246.8 1069.3h0M249.5 1084.2h0M358 1014.5h0M232.4 909.2h0M251.8 1053h0M270.3 981.7h0M255 1016.5h0M294 1041.4h0M235.3 1085h0M275.2 1055.1h0M255.6 960.4h0M251 1040.8h0M325.4 795.1h0M269.1 1010.3h0M281.3 1059h0M408.4 1086.9h0M279.6 1034.8h0M226.9 1008.5h0M385.6 1004.3h0M299 1081.8h0M204.5 1060.6h0M253.5 1034.2h0M205.2 1046.9h0M258.5 914.8h0M272.3 960.1h0M219.6 926.7h0M310.3 977.7h0M270.9 1059.6h0M213 1065.6h0M255.8 1076.7h0M392.6 980.5h0M269.9 1080h0M298.6 1022.7h0M334.3 1062.6h0M271.9 1070.7h0M237.4 1073.7h0M280.7 983.4h0M264 1071.2h0M248.7 1073.2h0M266.3 1067.6h0M407.1 966h0M359.9 995.9h0M285.7 1056.5h0M272.7 1074h0M569.4 994.8h0M334.8 986.4h0M218.6 1027.1h0M274.8 949h0M247.5 1034.8h0M248.7 1022.1h0M250.2 1091.6h0M259 1042.7h0M193.1 1072.7h0M248.7 1064.7h0M258 1056.1h0M285.2 1032.8h0M211.1 1070.9h0M236.2 1056.1h0M303.3 1079.6h0M280.8 931.5h0M304.7 995.5h0M299.3 843.4h0M341.8 1050.2h0M330.5 988.4h0M239.9 1034.9h0M225.7 983.9h0M307.8 1031.8h0M249.3 1058.2h0M337.1 1075.9h0M211.2 992.1h0M245.7 1024.5h0M345 1028.5h0M251.4 896.1h0M293.9 947h0M311.7 984.1h0M230.5 1043.4h0M236.1 1074.6h0M289.8 1048.8h0M214.6 974.6h0M265.3 1059.5h0M372.2 1109h0M237.5 1069.8h0M445.7 1042.7h0M257.3 1075.5h0M246.3 1050.9h0M247.5 1041.1h0M321.3 1028.7h0M246 1059.8h0M204.8 1039.7h0M269.8 1063.6h0M300.6 1055.4h0M269.6 1087.9h0M252 1026.3h0M232.5 1055.7h0M279.5 1077.9h0M348.7 1023.7h0M318.7 1056.7h0M241.1 1063.3h0M294.6 1029.1h0M254.1 1062.7h0M223.5 1010.9h0M292.5 1075.4h0M268.5 1071.2h0M360.2 1054.1h0M256.9 1028.8h0M261.2 1051.3h0M316.4 1053.3h0M280.8 1083.7h0M321.4 1035h0M376.5 981.6h0M227.5 1012.2h0M290.2 1041.2h0M167.1 1014.3h0M238.9 936.3h0M267 1065.2h0M281 1081.7h0M287.9 1022.1h0M375.8 989.3h0M404.9 991.9h0M249.3 1120.7h0M304.9 1006.5h0M236.8 1060.5h0M281.9 1063.5h0M262.4 1023.9h0M236.7 1058.3h0M259.9 1069.7h0M397.5 1012.6h0M311.4 1009.3h0M255 1057.9h0M319.6 1046.4h0M263.2 983.7h0M296.8 1005.6h0M276.8 1016.3h0M246.6 1022.5h0M246.4 1072.8h0M332.2 973.5h0M251 1056.3h0M198.9 1074.8h0M273 1057.4h0M210.3 1074.5h0M337 1004.3h0M323.7 938.2h0M283.9 1086.2h0M241.6 1009.3h0M296.1 1051.2h0M313.5 1036h0M283.4 923.2h0M290.4 1022h0M346.2 1012.6h0M360.6 1048.9h0M318.3 985.3h0M274.4 1049h0M237 1067.7h0M241.1 1073h0M265.6 1028.4h0M345.9 1057.6h0M263.2 1053h0M289 1008.1h0M379.7 991.2h0M287.2 953h0M222.6 1021h0M290.3 1009.8h0M259.9 1050.4h0M330.8 981.7h0M315 1028.7h0M221.6 1059.3h0M269 1123.5h0M310.4 1006.7h0M264.5 1069.9h0M297.1 1047.5h0M259.4 950.3h0M290.3 1082.9h0M228.8 1055.5h0M289.7 1015.1h0M354.6 984.4h0M273.9 979.4h0M256.4 987.5h0M340.1 1037.4h0M259.9 1044.9h0M247.2 1063.3h0M262.5 1065h0M254.5 1045.7h0M297.4 1036.1h0M280.7 1054h0M303.7 1067.4h0M314.1 1020.6h0M288.3 1020.9h0M476.8 946.4h0M269.2 1079.1h0M246.8 1091h0M271.8 1033h0M230.4 984h0M218.6 976.3h0M297.4 1056.9h0M295.7 1034.1h0M249.9 1044.1h0M257.3 1042.2h0M248.6 1066.8h0M288.1 1058h0M162.4 1103h0M293.9 1062.5h0M329.3 969.6h0M417.4 984h0M212.6 996.5h0M215.3 998.9h0M250.7 916.4h0M268 1067.2h0M281.8 898.4h0M277.1 1033.2h0M243.8 874.9h0M279.2 1065.3h0M266.9 1000.2h0M252.8 1061.7h0M245.5 1068.2h0M255.6 974.5h0M240.8 1052.3h0M256.3 1087.9h0" stroke="#ffe6c8" stroke-width="5.7" stroke-linecap="round" fill="none"/><path d="M532.5 863.2h0M381.5 1010.8h0M486.5 1059.2h0M407.3 971.4h0M341.1 898.6h0M514.9 982.3h0M337 939.8h0M535.1 1004.1h0M261 1045.5h0M469.6 983.6h0M415.7 916h0M295.6 1090.8h0M415.1 951.6h0M292.5 951.3h0M493.8 907.1h0M393.5 1005.9h0M231.9 1115.7h0M352.4 823.7h0M457.2 1037.2h0M436.9 1020.1h0M421.8 958.5h0M354.8 974.8h0M611.1 932.2h0M322.8 906h0M405.2 991.3h0M498.8 956.1h0M395.2 974.6h0M350.1 885.7h0M359.5 938.6h0M536.2 944.1h0M492.2 813.6h0M457.4 971.6h0M343.7 991.1h0M255.8 993.9h0M495.8 821.4h0M518.6 946.1h0M409.3 922.7h0M450.5 962.4h0M392.1 1027.4h0M464.2 850.4h0M371.1 995.2h0M374.6 986h0M382.6 904.2h0M455.4 952.2h0M395.2 1029.1h0M366.3 934.4h0M287 909.4h0M306.4 1039.2h0M405 987.3h0M533.2 1005.9h0M614 908.4h0M455.5 930.7h0M367.3 971.7h0M454.6 1017h0M274.5 1012h0M282.6 1034.3h0M243.6 1102.9h0M349.2 1000.2h0M314.6 992.9h0M528.1 934.7h0M433.8 963.8h0M362.5 933h0M336.8 932.5h0M515.8 991.2h0M388.3 997.8h0M298.1 970.2h0M441.6 951.8h0" stroke="#231f20" stroke-width="5.7" stroke-linecap="round" fill="none"/><path d="M298.7 1046.7h0M299.6 965.6h0M321.7 967.5h0M279 1056.4h0M398.1 1014.4h0M270.5 1085.6h0M158.5 1076.1h0M261.1 1065.7h0M284.5 1085.6h0M304.6 979.2h0M249.2 1035.4h0M229.4 986.7h0M228.4 1087.6h0M260.7 1038.8h0M299 1020.2h0M287.1 1004.3h0M311.8 1081.7h0M275.8 989.1h0M249.6 1054.3h0M257.8 1082.2h0M374.8 1038.4h0M325.7 1089.5h0M285.2 941.8h0M256.9 1110.2h0M315.6 1057.1h0M239.2 1069.5h0M263.1 877.3h0M298.7 1060.5h0M485.5 994.5h0M244.6 1044.4h0M230 887.1h0M262.4 967.2h0M252.1 995h0M357.2 1028.2h0M242.4 968.7h0M224.1 1069.2h0M267.5 1056.3h0M264.8 1102.4h0M270.8 1071.5h0M265.5 1074.8h0M312.4 1066.5h0M226.9 1076.4h0M250.6 1042.5h0M275.1 1085h0M273.1 1011.4h0M265.3 1100.2h0M251.5 1067.3h0M214.4 1085.1h0M282.8 1012.6h0M308.6 1042.8h0M429.1 989.4h0M137 1094.4h0M346.6 993.4h0M411.9 1040.8h0M273.7 1103.2h0M264.1 1065.3h0M266.8 1075.5h0M263.1 1049h0M324.7 1014.9h0M219 1077.4h0M301.1 923.1h0M356.9 997.3h0M241.1 1068.9h0M257.7 1026.4h0M269.3 1036.7h0M231.2 1014.7h0M251 1073.4h0M239.6 1056.6h0M284.1 1100.6h0M262.5 903.3h0M229.1 1055.9h0M313.6 1029.5h0M232.1 1078.2h0M263 1090.7h0M285.6 931.7h0M377.4 1087.3h0M425.3 993.4h0M281.9 921h0M283.5 1080.5h0M329.1 966.8h0M299.9 955.9h0M250.4 1080.2h0M263.9 989.3h0M259 958.4h0M246.2 1063.9h0M273.6 1041.9h0M259.8 1049h0M245.7 992.9h0M281.9 1072.9h0M342.9 1024.7h0M265 1026.1h0M247.9 1042.5h0M265.1 1025h0M298.2 1025.2h0M287 1045.6h0M449.2 1006.8h0M311.7 1015.6h0M337.1 1052.4h0M493.2 962.2h0M366.1 946.6h0M218.4 1068.1h0M315.5 932.3h0M266.1 1074.8h0M291.3 1092.4h0M271.6 1082.1h0M322.1 958.6h0M363.6 1038.3h0M327.6 988.2h0M465.7 968h0M264.3 1012.3h0M284.5 1077.1h0M257.4 1122.4h0M249.3 1039.5h0M256.2 1119.1h0M298.1 1040.4h0M281.6 907.8h0M273.5 1049.9h0M252.9 1079.8h0M282.4 1046.5h0M266.9 1053.8h0M248.3 1075.1h0M311.8 1026.8h0M303 1047.3h0M521.8 1041.1h0M279.5 1058.8h0M396.3 970.7h0M264.9 1015.7h0M237 1079.7h0M312.5 969.3h0M280.6 1033.5h0M444.5 974.3h0M499.5 1059.5h0M265 1083.6h0M257.9 1067.8h0M273.9 1015.7h0M284.1 1068.8h0M267.5 969.9h0M240 1070.9h0M268.1 1068.3h0M332 967.9h0M263.8 1057.8h0M327.7 1030.4h0M270.4 1019.5h0M265.2 1095.9h0M272.9 1083.7h0M329.6 1046.7h0M251.5 1054.8h0M233 1041.6h0M254.3 1060.6h0M276.4 870.4h0M266.1 1092.3h0M274.7 1048.7h0M301 1056.6h0M296.9 1047.5h0M308.1 1018.4h0M278 1008.2h0M267 1016.2h0M266.2 1061.9h0M266 1068.9h0M347.5 1047.6h0M326.5 905h0M310 986.8h0M274.4 1036.6h0M361.8 1081.4h0M215.9 1077h0M263.8 1051.5h0M310.2 1043.9h0M294.2 1079.4h0M265.9 993.2h0M256.2 1057.4h0M320.1 953.5h0M257.6 921.2h0M273.9 1046.6h0M309.4 1070.7h0M239.4 1066.6h0M283.3 977.7h0M278.9 1071.7h0M263.7 1051.3h0M315.4 1079.1h0M294.2 1059.6h0M251.5 1004.6h0M227.7 1033.6h0M266.6 1040.9h0M356.1 1056.2h0M294.6 1061.8h0M255.3 981.7h0M272.2 954.1h0M269.4 1024.8h0M277.3 1030.5h0M289.2 920.4h0M267.9 869.2h0M262.4 1088.7h0M284 993.5h0M267.9 1018.1h0M270.7 1022.4h0M249.8 982.6h0M320.8 1068.5h0M283.7 1028.4h0M246.8 989h0M256.2 1103.7h0M334 1029.2h0M341.6 1076.7h0M295.7 1083.5h0M457.2 1028.6h0M234.3 1038.9h0M292.3 1042.8h0M382.7 989.1h0M231.6 1049.4h0M273.9 1035.7h0M291.4 959.2h0M316.5 1017.7h0M251.4 1086.4h0M326.8 990.6h0M308 1092h0M280.9 1051.5h0M339.5 1020.5h0M237.3 1047.7h0M364.7 1009.7h0M326.2 1005.1h0M261.4 955.4h0M244.7 1038.4h0M296.3 1030.4h0M256.6 1039.7h0M452.8 1051.7h0M290.1 976.4h0M286.6 1094.4h0M242.1 1099h0M295.7 892.6h0M278.1 924.8h0M253.3 1047.6h0M244.8 1042.7h0M257.8 1094.9h0M252.4 1037.2h0M220.9 1018.1h0M239.7 1051.2h0M279.9 1057.9h0M346.1 1057.5h0M326.2 1016.5h0M271.6 1062.8h0M338.1 925.7h0M216.6 1083.8h0M275.1 947.6h0M319.5 1022.2h0M266.7 1064.2h0M296.7 1058.2h0M250 1085.9h0M254.5 1032.2h0M321.1 1068.6h0M279.7 951h0M268.3 1077h0M276.7 1062.7h0M381.6 959.3h0M242.5 951.1h0M251 946.5h0M276.5 996.5h0M298.7 1093.1h0M229.1 1004.9h0M224.4 924.4h0M350.9 862.8h0M253.3 896.6h0M252.6 1032.8h0M300.4 1064.4h0M288.7 1011.5h0M332 998.7h0M272.8 1046.5h0M324.2 1002.1h0M254.8 1045h0M264.1 930.9h0M328.3 1055.7h0M303.5 1029.1h0M337.4 1038.4h0M290.8 1027.3h0M272.3 961.6h0M301.3 1001.1h0M311.1 1002.8h0M251.5 983.5h0M269.3 1099.8h0M257.3 1046.4h0M250.9 1070.1h0M241.4 1006.8h0M323.6 1050.3h0M279.6 1044.9h0M259 1054.4h0M263.5 1044.5h0M285.3 1008.9h0M282.5 1033h0M269.9 1018.3h0M325.6 1074.2h0M363.6 1070.4h0M235 1106h0M223.2 1044.6h0M313.3 980.9h0M282.8 1075.9h0M250.1 1008.3h0M262.3 1055.6h0M285 1037.5h0M281.8 1058.3h0M286.6 1041.1h0M281.6 1013.5h0M319.5 985.2h0M284.7 1051h0M298.3 1004.5h0M269.5 1061.8h0M315.2 1083.9h0M203.5 1002.5h0M283.5 1037.1h0M276.4 1063.2h0M270.1 1072.8h0M297 1056.6h0M234.7 1055.7h0M275.6 968.2h0M315.3 988.9h0M212.5 1042h0M267.8 1082.3h0M288.6 1012.6h0M280.9 1022.5h0M299.9 1084.7h0M267.6 1053.5h0M262.6 1065.8h0M318.2 1027.6h0M352.4 966.9h0M228.6 1064.5h0M238.3 974.5h0M279.2 925.4h0M217.8 1031.4h0M206 988.6h0M278.8 1066.8h0M353.1 996.9h0M218.2 1091.3h0M188 1087.3h0M261.7 1104.6h0M226 1063h0M278.1 1021.9h0M247 1052.9h0M337 1005.3h0M371.3 1044.5h0M256 1088.3h0M241.2 1074.6h0M219.8 1020.6h0M286.4 1101.1h0M238.4 1104.9h0M251.1 1001.1h0M301.9 1078.8h0M249.2 1017.6h0M235.9 1073h0M257.7 1090.4h0M245.1 1047.7h0M265.6 990.8h0M276.9 1042.3h0M238.2 1100h0M233.4 1048.5h0M283.8 1050.4h0M227.3 1060.8h0M263 1043.2h0M236.2 1100.3h0M253.8 1046h0M328.7 991.3h0M249.4 1070.3h0M271.3 995.5h0M372.6 963.5h0M363.6 1009.6h0M229.2 1057.5h0M263.9 1067.1h0M276.3 1031.6h0M289.2 1036h0M245 1085.3h0M312.6 1091.9h0M271.1 919.5h0M242.8 1054.6h0M306 976.3h0M325.2 1037.4h0M290.5 1058.6h0M329.4 1040.5h0M277 844h0M224.1 1080.4h0M254 1043.2h0M257.7 1073.7h0M258.2 1031.6h0M355.8 988.8h0M259 1043.2h0M251.7 1009.4h0M248.9 1037h0M270 1058.8h0M357.6 1005.1h0M361 1089.1h0M250.7 1089.6h0M264.8 1063.9h0M293.9 927.2h0M230.3 1064.7h0M258.9 924.6h0M257.3 1063.7h0M269.8 961.3h0M262.6 1068.2h0M249 1044h0M256.5 1041.4h0M253.6 1055.3h0M264.8 1033.2h0M308.7 1088.1h0M260.7 1113.8h0M272.6 1073.4h0M254.9 1059.2h0M249.8 1038.5h0M374.1 1075.2h0M264.2 1047.8h0M252.9 1032.3h0M373.2 1100.7h0M252.6 1095.8h0M245.1 937.6h0M252.7 1095.4h0M289.6 856h0M350.1 1088.9h0M250.3 1106.3h0M305.9 967.4h0M245 1044.2h0M296.2 1065.3h0M323.8 1034.6h0M324.2 1010.6h0M244.6 1051.4h0M291.7 852.2h0M245.9 1047.9h0M278.2 1080h0M331.7 1033.3h0M239.5 1069h0M311.1 1052.3h0M309.6 1002.5h0M304.7 984h0M288.1 912h0M222.6 1112.5h0M257.6 931.3h0M250.7 1008.3h0M219.1 969.9h0M234.6 1075.3h0M425.2 1031h0M258.3 1069.7h0M270.3 1046.7h0M266.1 1080.2h0M293.4 1079.9h0M261.5 1071.2h0M368.9 1096h0M283.9 1063.2h0M227.1 1061.1h0M287.6 1004.8h0M273.5 978.5h0M248.8 1084.4h0M302.4 1042.9h0M354 1062.9h0M257.4 1097.3h0M283.8 1008.1h0M258.2 1012.5h0M262 1063.1h0M320.3 949.1h0M313.9 1021.8h0M256.8 1047.3h0M298 966.9h0M329.7 1054.1h0M269.1 1125.9h0M287.2 986.5h0M226.4 1051.5h0M305.6 929.2h0M247.7 1073.3h0M280.4 1071.2h0M276.5 961.4h0M283.1 966.5h0M247.8 1044.6h0M321.4 1001.6h0M271.9 1061.3h0M280 1080.2h0M299.6 983.1h0M238.9 1036.9h0M241.7 1028.2h0M283.3 1084.6h0M256.2 984.8h0M291 1086.4h0M284.9 1093.3h0M262.5 891.5h0M272.1 1011.6h0M237.6 1035h0M233.4 1042.5h0M268.3 1083.5h0M321 996.3h0M275.3 1020.6h0M257.4 1073.3h0M302.9 1073.1h0M250.4 1008.6h0M273.8 1042.5h0M275.9 1045.5h0M263.6 1063.8h0M272.9 1074.4h0M248.9 1075.7h0M260.2 1056.6h0M257.2 972h0M313.7 1016.2h0M240.8 1085.1h0M246.5 1086.5h0M258 970.1h0M251 1082.9h0M243.8 1062.2h0M354.7 1024h0M421.3 989.3h0" stroke="#ffe6c8" stroke-width="5.7" stroke-linecap="round" fill="none"/><path d="M372.7 1090.3h0M442.6 949.3h0M337.4 974.2h0M362.9 1015.6h0M537.9 825.7h0M288.6 970.9h0M401.7 1059.9h0M324.3 950.9h0M248.4 1003.2h0M285.6 957.5h0M427.7 998.2h0M290 987.1h0M453.8 1023.4h0M421 933.4h0M444.5 934.8h0M438 1048.6h0M448.8 837.5h0M322.4 1038.4h0M289.9 861.1h0M455.6 947.1h0M311.6 882.7h0M516.4 820.1h0M585.6 979.2h0M406.2 907.8h0M513.7 962.6h0M323.3 1075.4h0M344.4 1036.7h0M479.8 917.8h0M478.7 940.3h0M430.1 911.7h0M536.8 984.7h0M352.2 933.2h0M324.4 1068.2h0M381.4 1037.3h0M438.8 901.7h0M503.3 1027.6h0M327.5 956.6h0M397.3 984.7h0M524.2 952h0M447.7 931.6h0M444.7 933.1h0M416.9 973.2h0M563.9 1003.5h0M398.6 982h0M513.5 1009.1h0M475.2 964h0M553.9 965.5h0M390.5 847.5h0M298.3 1098.1h0M520.1 969.8h0M408.9 1058.8h0M624 977.5h0M436.7 1062.7h0M400.7 943.5h0M380.4 1053.2h0M339.3 829.8h0M407.3 900.9h0M466 857.1h0M457.7 954.9h0M428.6 935h0M451.9 966.9h0M337.9 1071h0M271.6 1044.4h0M548.1 911.3h0M553.4 1013.7h0M231.2 1051.7h0M472.2 955.6h0" stroke="#231f20" stroke-width="5.7" stroke-linecap="round" fill="none"/><path d="M390.9 1011.2h0M287.7 1046.1h0M201.9 900.8h0M359.9 1039.4h0M236.7 1094.7h0M291.5 1014.5h0M242.6 979.8h0M193 1068.4h0M239.2 896.5h0M228.9 1102.6h0M269.8 1054.9h0M395.8 1006.6h0M281.6 1068.4h0M272.2 1057.4h0M204.1 1013.8h0M271 1050.5h0M357.2 1145.3h0M283 1067.6h0M281.7 1046.9h0M258.5 1081.7h0M266.5 907.7h0M234.4 883h0M266.7 1053.8h0M265.9 919.6h0M281.2 1070.3h0M331.7 1046.2h0M244.8 1078.2h0M246.2 981.7h0M283.1 1077.6h0M245.4 1092h0M287.5 908.8h0M383.4 1061.8h0M398.9 1057.2h0M231.4 989.6h0M279.1 990.6h0M309.9 911.1h0M249.7 1055.8h0M378 995.8h0M277.8 1061.4h0M279.2 1022.8h0M271.7 913.6h0M245.8 1032.8h0M369.2 942.9h0M284.5 1067.2h0M224.2 1056.9h0M284.5 1065.2h0M312 949.9h0M240.9 1020h0M407.5 1023.5h0M284.6 1057h0M287 1042.3h0M260.5 1049.6h0M236.2 1033.5h0M271.6 975h0M290.4 1057.6h0M463.6 1011.8h0M189.1 1031.3h0M317.4 827.3h0M263 1070.8h0M289 950.4h0M224 1036.1h0M334.1 988.1h0M291.6 1066.2h0M230.4 991.1h0M388.4 1106.1h0M281.2 1076.4h0M261 984h0M261.1 1078.2h0M262.3 1057.3h0M302.5 1069.1h0M362 985h0M256.2 1074.1h0M269.1 1079.9h0M307 1051.3h0M388.7 1078.6h0M284.1 1056h0M234.1 940.2h0M249.2 822.4h0M262.8 1080.2h0M253.6 1090.7h0M269.2 1077.7h0M446.3 1009.2h0M272.6 1096h0M264.4 1057.7h0M477.8 1044.5h0M267 1049.1h0M304 996.4h0M274.9 1053.9h0M294.8 843.2h0M230.9 1097.1h0M381.5 1014.9h0M320.5 1047.9h0M277.3 1078.8h0M249.2 1008h0M312.1 979.4h0M224.9 1053.4h0M474.8 1053.6h0M358.9 977.1h0M222.2 1084.1h0M276.7 963.5h0M426.1 1016.4h0M266.9 1070.3h0M366.1 1119.2h0M317.6 1036.2h0M318.9 1040.5h0M333 1033.6h0M272.4 1068.4h0M280 996.8h0M286.7 927h0M274.5 1056.7h0M363.4 1040.8h0M201.1 1034.5h0M249.1 1047h0M234.9 1054h0M257.3 1079h0M291.1 960.5h0M235.2 1087.1h0M248.2 912.5h0M289.8 1068.2h0M392.1 1017.1h0M405.2 1011.7h0M288.2 1058.8h0M270.6 892.8h0M243.7 1076.4h0M431.5 1012.7h0M232.5 1032.7h0M221.6 984.2h0M241.4 1084.3h0M212.2 944h0M283.8 1066h0M260.6 1040.4h0M280.8 1058.5h0M229.2 1100.4h0M302.5 1066.2h0M252.9 1058.3h0M407 1015.2h0M232 1067h0M303.3 1050.1h0M265.3 1095.2h0M355.5 1028.9h0M314.1 1026.9h0M254.2 1031.6h0M283.6 1077.3h0M270.5 1013h0M321 900.3h0M234.9 1042.8h0M252.9 857.9h0M263.7 1065.9h0M194.8 1079.9h0M280.4 1068.4h0M273.4 1019.1h0M255 1068.4h0M341.3 998.9h0M190.3 1035.4h0M438.1 1073.1h0M222.3 1090.4h0M258.5 1028.1h0M302.8 1002.3h0M234.3 1071.9h0M285.2 1084.1h0M259.8 1037.7h0M280.5 1049.5h0M404.8 998.8h0M271.3 1062.8h0M289.8 907.4h0M284.7 1046.2h0M276.5 1053.4h0M258.6 995.9h0M357.2 961.5h0M267.6 1092.5h0M277.6 929.7h0M358.6 1074.9h0M196.3 932.5h0M411.9 1003.5h0M271.9 905.2h0M289.2 805.4h0M238 1080.3h0M446.2 1026.2h0M278.2 1102.7h0M253.6 1016.1h0M274.5 1068.3h0M260.1 1032.5h0M234.4 985.1h0M278.8 1011.7h0M270.4 837.3h0M252.7 1040.1h0M294.2 984.7h0M263.1 1078.2h0M234 1064h0M255.9 1095.9h0M205.1 968.5h0M226 1106.2h0M251.9 1004.9h0M251 1065.6h0M313.1 1018.4h0M283.9 996h0M282.7 1030.5h0M272.1 1078.1h0M299.8 967.2h0M254.3 1111.5h0M263.5 1029.6h0M257 1059.7h0M298.5 1037.7h0M290.8 1008.3h0M270.8 941.9h0M296.6 1113.7h0M266.4 1038.6h0M226.8 1037.7h0M419.3 1055.2h0M255.4 1052.9h0M291.3 984.9h0M247 1090h0M281.3 1048.7h0M242.8 990.4h0M342.6 1020.3h0M283.8 1052.6h0M352.7 1017.6h0M247.9 1021.9h0M269.2 893.4h0M286.1 1070.1h0M271.8 882.5h0M173.6 1058.9h0M259 1037.7h0M303.2 1056.6h0M265.3 1043.9h0M337.5 1006.5h0M250.9 1077.8h0M257.7 1141.5h0M273 1060h0M258.4 1034.4h0M334.1 974.7h0M254.7 1033.7h0M278.7 1055.6h0M296.3 1013h0M317.7 987h0M289.1 1058h0M282.5 1078.7h0M279.3 901.9h0M315.5 1015.8h0M292.6 989.6h0M278.5 1061.4h0M288.6 1040.8h0M278.4 1068.6h0M293.3 965.3h0M293.4 1082.5h0M289.1 956.8h0M274.9 1070.8h0M259 1053.2h0M295.4 983h0M240.8 1031.5h0M270.1 1070.7h0M256.4 1033.9h0M265.5 1012.8h0M253.6 1087.3h0M487 991.9h0M261.7 1037.1h0M356.3 1041.7h0M254.1 1066h0M284.6 1094.2h0M268.4 1032h0M218 998.3h0M251.8 1087.6h0M265.1 976.8h0M294.4 1054.8h0M253.4 1050.6h0M254.8 989.4h0M298.4 1083.1h0M268.9 1011.9h0M172.8 1055.7h0M290.8 1022.9h0M269.7 1060h0M244.7 1025.3h0M235.5 1023.6h0M389.4 971.5h0M256.1 1052.7h0M298.2 1038.4h0M247.6 1065.2h0M275.2 1077.1h0M255.6 1048.3h0M290.3 1023.4h0M382 983.4h0M308.9 921.5h0M279.7 1071.7h0M246.9 1046.8h0M272.2 1093.7h0M298.6 1050.8h0M255.8 913.1h0M268.9 1035.6h0M385 994.9h0M246.9 1036.7h0M270.7 873.1h0M295.4 1000.8h0M292 1053.3h0M279.6 1062.4h0M236.6 1079.8h0M338.3 1011.8h0M522.9 972.9h0M305.9 888.9h0M189.8 1078.3h0M286.1 911.9h0M228.1 1056.3h0M245.2 1033.1h0M299.2 1000.3h0M258.1 899.5h0M317.9 1071.5h0M215.1 1021.7h0M276.3 1042.7h0M261.2 1004.6h0M272.2 1056.9h0M281.9 1042.7h0M248.5 996.1h0M293.6 990.4h0M311.4 977h0M303.7 1108.7h0M274.7 1055h0M262.2 1013.7h0M280.5 987.6h0M215.1 1105.9h0M272.9 1073.9h0M333.8 1050.5h0M234.1 1077.9h0M226.9 1011.9h0M241.3 1061h0M272.9 1028.3h0M268.3 984h0M315.7 937.1h0M230.2 924.4h0M282.3 1075.2h0M170.8 1094.5h0M270.8 988.6h0M245.2 913h0M238.3 989.8h0M258.3 1065.3h0M216.2 1038.8h0M318 1075.7h0M286.5 1060.6h0M270.1 1086.5h0M225.7 1011.8h0M279.4 1051.5h0M253.9 1071.3h0M411.8 977.3h0M270.9 961.6h0M267.9 1081.6h0M250.3 1049.8h0M248.2 1074.1h0M263.6 1049.5h0M306.9 1076.1h0M416.5 1042.2h0M271.9 959.5h0M256.3 1049h0M274.7 921.8h0M295.6 863.4h0M268 1013.5h0M241.7 1040.5h0M273.9 946.8h0M232.6 964.3h0M296.7 1063.6h0M316.9 1055.1h0M272.7 1081.7h0M287.4 864.3h0M244.5 1071.8h0M263.4 1036.8h0M512.2 1017.2h0M328.9 1033.9h0M237.7 1078.1h0M212.1 889.5h0M345.6 1068.6h0M253 1057.2h0M317.1 1068.8h0M407.7 993.7h0M242.3 1025.5h0M262.7 1029.7h0M296.3 1125.2h0M256.6 960h0M429.9 1016.4h0M224.5 1041.9h0M297.4 1056.3h0M171.9 1051.3h0M277.8 1052.5h0M387.8 1027.8h0M229.8 882.2h0M265.4 1049.7h0M282 1074.4h0M314.5 1011.6h0M270.7 1063.8h0M313.3 1068.7h0M273.4 1040.9h0M198.4 1028.5h0M260.7 1024.2h0M267.3 1051.6h0M451.1 991.7h0M239.9 905.8h0M249.7 894h0M303.7 1058.3h0M290.2 1068h0M321.3 1069.6h0M276.7 1091.8h0M266.7 1084.2h0M259.3 947.7h0M307.3 1033.3h0M278.7 1020.2h0M439.3 1051.3h0M350 1028.4h0M286.6 1048.1h0M278.9 1030.9h0M299.9 1010.3h0M256.6 1010h0M255.4 811.2h0M216.1 1006.5h0M313.5 927.7h0M248.5 1056.2h0M217.8 1086.2h0M263.9 1081.4h0M361.4 964h0M406.5 1017.4h0M406.2 1021h0M524.7 951h0M300.3 938.6h0M218 1063.7h0M291.3 1049.3h0M247 1072.6h0M294.3 1058.2h0M315.2 1008.5h0M254.1 1062.3h0M300.5 1053.1h0M235.8 988.7h0M429.9 1046.5h0M239.4 1046.5h0M286 1053.1h0M261.5 1087.4h0M244 1046.7h0M285 1035.8h0M268.1 1036.7h0M333.7 1006.2h0M289.6 1061.2h0M363.6 1047.3h0M235.2 1062h0M277.9 1076.3h0M245.4 1075.9h0M294.1 1048.4h0M231.4 982.4h0M415.8 973.7h0M307.4 925.4h0M249.6 1064.3h0M322.1 837.8h0M255.3 1000.3h0M301.8 1044.3h0M339 1002.4h0M279.2 1075.7h0M245.4 965.8h0M216 1096.6h0M212 925.3h0M262.1 1052.9h0M241.5 1069.6h0M343.4 1010.2h0M270.5 1057.5h0M234.3 810.5h0M383.5 1021h0M253.8 1048.3h0M274.1 1082.4h0M414.9 952.2h0M279.8 1067.2h0M296.5 1073.6h0M288.8 1056.5h0M332.3 1023.8h0M337.5 966.1h0M273.8 1082.3h0M313.2 926.3h0M316.2 1042h0M231.5 1013.9h0M204.1 1053.2h0M287.2 1043.8h0M239.3 1054.7h0M268.5 1082.5h0M274.4 1017.5h0M283.6 1089.9h0M226.2 1109.6h0M259.4 1081.7h0M272.6 1061.6h0M264.7 1084.6h0M241.6 1052.4h0M265.8 1009.3h0M268.7 1055.7h0M281.6 1044.6h0M296.7 1074.7h0M411.8 1064.3h0M303.1 1051.7h0M247.8 1067.1h0M232.9 1069.9h0M175.7 906h0M245.8 1060.8h0M265.8 1005.2h0M222.6 1083.2h0M211.6 1065h0M432.7 1050.1h0M279.1 1026.3h0M245.5 1064.1h0M248.3 1046.7h0M251.6 1072.8h0" stroke="#ffe6c8" stroke-width="5.7" stroke-linecap="round" fill="none"/><path d="M270.3 1022.2h0M372.5 895.9h0M581 1005.1h0M426.8 889.3h0M397.8 920.3h0M333.5 1037.1h0M447 963.9h0M317.4 1063.9h0M280.2 985.7h0M446.4 892.2h0M264.4 1001.1h0M293.7 1045.8h0M371.4 1081.1h0M310 1043.9h0M554.7 991.6h0M504.8 902.6h0M443.6 926.5h0M389.2 898h0M295.7 867.8h0M328.1 913.6h0M401.3 838.7h0M229.4 992.3h0M320.5 1001.3h0M453.6 961.4h0M266.3 996.7h0M499.8 1033h0M284.4 944.7h0M452.3 992.6h0M446 987.7h0M230.5 1040.1h0M333.4 1079.7h0M474.6 858.9h0M322.4 1022.8h0M541.6 895.8h0M296.5 983.7h0M326.5 1006.4h0M436.4 968.1h0M397.1 960.8h0M507.8 989.2h0M578.4 971h0M511.8 943.3h0M327.7 943.9h0M424.3 911.7h0M474.1 932.4h0M355.5 1035.5h0M332.5 1019.2h0M246.8 965.1h0M349.7 1086.2h0M340.8 1001.3h0M427 1000.3h0M532.1 921.7h0M321.9 1033.7h0M532.3 942.7h0M375.6 984.2h0M512.8 879.6h0M483.2 954.9h0M453 975.4h0M324.8 956.9h0M358.9 928.1h0M437.6 984.7h0M371 938.4h0M311.9 978.8h0M401.5 1114h0M551 980.3h0M361.2 963.1h0M298.1 904.2h0M343 974.5h0" stroke="#231f20" stroke-width="5.7" stroke-linecap="round" fill="none"/>
<path d="M103.9 797.1 V1192.9 H694.9" fill="none" stroke="#231f20" stroke-width="4.2"/><path d="M103.9 777.1 L115.9 806.9 Q109.3 802.1 103.9 800.6 Q98.5 802.1 91.9 806.9Z" fill="#231f20"/><path d="M714.9 1192.9 L685.1 1180.9 Q689.9 1187.5 691.4 1192.9 Q689.9 1198.3 685.1 1204.9Z" fill="#231f20"/><line x1="91.9" y1="777.8" x2="103.9" y2="777.8" stroke="#231f20" stroke-width="1.1"/><text x="58.3" y="785.2" font-size="23.5" stroke="#fff" stroke-width="0.3" textLength="25.5" lengthAdjust="spacingAndGlyphs">10</text><line x1="91.9" y1="915.9" x2="103.9" y2="915.9" stroke="#231f20" stroke-width="1.1"/><text x="68.9" y="923.3" font-size="23.5" stroke="#fff" stroke-width="0.3" textLength="15.1" lengthAdjust="spacingAndGlyphs">5</text><line x1="91.9" y1="1054.4" x2="103.9" y2="1054.4" stroke="#231f20" stroke-width="1.1"/><text x="69.1" y="1061.8" font-size="23.5" stroke="#fff" stroke-width="0.3" textLength="14.8" lengthAdjust="spacingAndGlyphs">0</text><line x1="91.9" y1="1192.9" x2="103.9" y2="1192.9" stroke="#231f20" stroke-width="1.1"/><text x="55.9" y="1200.3" font-size="23.5" stroke="#fff" stroke-width="0.3" textLength="28" lengthAdjust="spacingAndGlyphs">−5</text><line x1="103.7" y1="1192.9" x2="103.7" y2="1204.4" stroke="#231f20" stroke-width="1.1"/><text x="89.6" y="1230.4" font-size="23.5" stroke="#fff" stroke-width="0.3" textLength="28" lengthAdjust="spacingAndGlyphs">−5</text><line x1="278.2" y1="1192.9" x2="278.2" y2="1204.4" stroke="#231f20" stroke-width="1.1"/><text x="270.8" y="1230.4" font-size="23.5" stroke="#fff" stroke-width="0.3" textLength="14.8" lengthAdjust="spacingAndGlyphs">0</text><line x1="452.7" y1="1192.9" x2="452.7" y2="1204.4" stroke="#231f20" stroke-width="1.1"/><text x="445.2" y="1230.4" font-size="23.5" stroke="#fff" stroke-width="0.3" textLength="15.1" lengthAdjust="spacingAndGlyphs">5</text><line x1="627.2" y1="1192.9" x2="627.2" y2="1204.4" stroke="#231f20" stroke-width="1.1"/><text x="614" y="1230.4" font-size="23.5" stroke="#fff" stroke-width="0.3" textLength="25.5" lengthAdjust="spacingAndGlyphs">10</text>
<text x="450.1" y="1115.7" font-size="27" stroke="#8dccf0" stroke-width="0.3" textLength="102.7" lengthAdjust="spacingAndGlyphs">Severity</text>
<circle cx="458.6" cy="1140" r="7.6" fill="#231f20"/><circle cx="458.6" cy="1171.7" r="7.6" fill="#ffe6c8"/>
<text x="480.1" y="1147" font-size="27" stroke="#8dccf0" stroke-width="0.3" textLength="88.5" lengthAdjust="spacingAndGlyphs">Severe</text>
<text x="479.1" y="1179.4" font-size="27" stroke="#8dccf0" stroke-width="0.3" textLength="137.7" lengthAdjust="spacingAndGlyphs">Nonsevere</text>
<text x="213.4" y="1265.7" font-size="27" stroke="#fff" stroke-width="0.3" textLength="361.2" lengthAdjust="spacingAndGlyphs">Myeloid dysregulation score</text>
<text transform="translate(31.4 1000.5) rotate(-90)" x="-194.8" y="0" font-size="27" stroke="#fff" stroke-width="0.3" textLength="388.6" lengthAdjust="spacingAndGlyphs">Lymphoid dysregulation score</text>
</g>
<g id="panel-d">
<text x="857.6" y="733.4" font-size="38" font-weight="700" stroke="#231f20" stroke-width="0.9" stroke-linejoin="round" textLength="27" lengthAdjust="spacingAndGlyphs">d</text>
<rect x="998" y="1127.1" width="154" height="43.5" fill="#acadae"/>
<rect x="1168.9" y="1097.7" width="153.8" height="72.9" fill="#b0a4d0"/>
<rect x="1339.6" y="996.9" width="153.4" height="173.7" fill="#8dccf0"/>
<rect x="1510.1" y="795.7" width="154" height="374.9" fill="#f47d20"/>
<line x1="972.9" y1="731.4" x2="972.9" y2="1170.6" stroke="#414042" stroke-width="1.2"/>
<line x1="963.7" y1="1170.6" x2="1689.3" y2="1170.6" stroke="#414042" stroke-width="1.2"/>
<line x1="963.7" y1="732" x2="972.9" y2="732" stroke="#231f20" stroke-width="1.1"/>
<line x1="963.7" y1="878.6" x2="972.9" y2="878.6" stroke="#231f20" stroke-width="1.1"/>
<line x1="963.7" y1="1025.1" x2="972.9" y2="1025.1" stroke="#231f20" stroke-width="1.1"/>
<text x="922.3" y="742.8" font-size="23.5" stroke="#fff" stroke-width="0.3" textLength="30.1" lengthAdjust="spacingAndGlyphs">60</text>
<text x="923.2" y="889.4" font-size="23.5" stroke="#fff" stroke-width="0.3" textLength="29.2" lengthAdjust="spacingAndGlyphs">40</text>
<text x="922.3" y="1035.9" font-size="23.5" stroke="#fff" stroke-width="0.3" textLength="30.1" lengthAdjust="spacingAndGlyphs">20</text>
<text x="937.6" y="1181.4" font-size="23.5" stroke="#fff" stroke-width="0.3" textLength="14.8" lengthAdjust="spacingAndGlyphs">0</text>
<line x1="1075.2" y1="1170.6" x2="1075.2" y2="1180" stroke="#231f20" stroke-width="1.1"/>
<text x="1024.3" y="1210.9" font-size="22" stroke="#fff" stroke-width="0.3" textLength="101.4" lengthAdjust="spacingAndGlyphs">Balanced</text>
<line x1="1245.8" y1="1170.6" x2="1245.8" y2="1180" stroke="#231f20" stroke-width="1.1"/>
<text x="1190.9" y="1210.9" font-size="22" stroke="#fff" stroke-width="0.3" textLength="109.3" lengthAdjust="spacingAndGlyphs">Lymphoid</text>
<line x1="1416.5" y1="1170.6" x2="1416.5" y2="1180" stroke="#231f20" stroke-width="1.1"/>
<text x="1372.8" y="1210.9" font-size="22" stroke="#fff" stroke-width="0.3" textLength="87" lengthAdjust="spacingAndGlyphs">Myeloid</text>
<line x1="1587" y1="1170.6" x2="1587" y2="1180" stroke="#231f20" stroke-width="1.1"/>
<text x="1517.8" y="1210.9" font-size="22" stroke="#fff" stroke-width="0.3" textLength="138.3" lengthAdjust="spacingAndGlyphs">System-wide</text>
<text x="1049.4" y="1248" font-size="27" stroke="#fff" stroke-width="0.3" textLength="561.9" lengthAdjust="spacingAndGlyphs">Immune dysregulation framework subgroup</text>
<text transform="translate(881 951.4) rotate(-90)" x="-136.6" y="0" font-size="27" stroke="#fff" stroke-width="0.3" textLength="272.5" lengthAdjust="spacingAndGlyphs">Proportion severe (%)</text>
<path d="M1075.1 776.6V768.6H1399V776.6M1245.7 791.4V783.7H1587V791.4M1416.1 783.7V791.4" fill="none" stroke="#231f20" stroke-width="1.5"/>
</g>
<g id="panel-e">
<text x="7.5" y="1425.7" font-size="38" font-weight="700" stroke="#231f20" stroke-width="0.9" stroke-linejoin="round" textLength="24.7" lengthAdjust="spacingAndGlyphs">e</text>
<text x="109.6" y="1424.3" font-size="27" stroke="#fff" stroke-width="0.3" textLength="284.5" lengthAdjust="spacingAndGlyphs">Myeloid dysregulation</text>
<text x="216.8" y="1457.1" font-size="27" stroke="#fff" stroke-width="0.3" textLength="71.4" lengthAdjust="spacingAndGlyphs">score</text>
<text transform="translate(30.9 1661.4) rotate(-90)" x="-37" y="0" font-size="27" stroke="#fff" stroke-width="0.3" textLength="73.9" lengthAdjust="spacingAndGlyphs">Score</text>
<path d="M125.4 1692.1 L123.7 1694.4 L122 1696.8 L120.5 1699.1 L119 1701.4 L117.7 1703.7 L116.4 1706.1 L115.3 1708.4 L114.1 1710.7 L112.9 1713 L111.5 1715.4 L110 1717.7 L108.5 1720 L107.2 1722.3 L106.1 1724.7 L105.1 1727 L104.2 1729.3 L103.4 1731.7 L102.7 1734 L102.1 1736.3 L101.5 1738.6 L101.2 1741 L101.3 1743.3 L101.8 1745.6 L102.6 1747.9 L103.7 1750.3 L104.8 1752.6 L105.8 1754.9 L106.7 1757.2 L107.7 1759.6 L108.7 1761.9 L109.7 1764.2 L110.7 1766.5 L111.6 1768.9 L112.6 1771.2 L113.5 1773.5 L114.5 1775.9 L115.5 1778.2 L116.5 1780.5 L117.6 1782.8 L118.7 1785.2 L119.8 1787.5 L121 1789.8 L122.1 1792.1 L123.3 1794.5 L124.5 1796.8 L125.7 1799.1 L126.9 1801.4 L128.3 1803.8 L129.6 1806.1 L143.6 1806.1 L144.9 1803.8 L146.3 1801.4 L147.5 1799.1 L148.7 1796.8 L149.9 1794.5 L151.1 1792.1 L152.2 1789.8 L153.4 1787.5 L154.5 1785.2 L155.6 1782.8 L156.7 1780.5 L157.7 1778.2 L158.7 1775.9 L159.7 1773.5 L160.6 1771.2 L161.6 1768.9 L162.5 1766.5 L163.5 1764.2 L164.5 1761.9 L165.5 1759.6 L166.5 1757.2 L167.4 1754.9 L168.4 1752.6 L169.5 1750.3 L170.6 1747.9 L171.4 1745.6 L171.9 1743.3 L172 1741 L171.7 1738.6 L171.1 1736.3 L170.5 1734 L169.8 1731.7 L169 1729.3 L168.1 1727 L167.1 1724.7 L166 1722.3 L164.7 1720 L163.2 1717.7 L161.7 1715.4 L160.3 1713 L159.1 1710.7 L157.9 1708.4 L156.8 1706.1 L155.5 1703.7 L154.2 1701.4 L152.7 1699.1 L151.2 1696.8 L149.5 1694.4 L147.8 1692.1Z" fill="#d6dacb" stroke="#3a6e23" stroke-width="1.5" stroke-linejoin="round"/><g fill="#4a7a33" fill-opacity="0.72"><circle cx="135.8" cy="1690.1" r="3.2"/><circle cx="132.8" cy="1699" r="3.2"/><circle cx="140.1" cy="1698.3" r="3.2"/><circle cx="131.7" cy="1705.1" r="3.2"/><circle cx="141.4" cy="1706.2" r="3.2"/><circle cx="133.5" cy="1710.7" r="3.2"/><circle cx="141.2" cy="1713" r="3.2"/><circle cx="128.4" cy="1719.1" r="3.2"/><circle cx="135.4" cy="1717.6" r="3.2"/><circle cx="143.6" cy="1717.7" r="3.2"/><circle cx="129.8" cy="1726.5" r="3.2"/><circle cx="136.2" cy="1725" r="3.2"/><circle cx="143.1" cy="1724.3" r="3.2"/><circle cx="126" cy="1732.6" r="3.2"/><circle cx="131.8" cy="1732.2" r="3.2"/><circle cx="140.1" cy="1733.3" r="3.2"/><circle cx="148.2" cy="1732.6" r="3.2"/><circle cx="125.6" cy="1740.4" r="3.2"/><circle cx="134.1" cy="1738.6" r="3.2"/><circle cx="139.7" cy="1740" r="3.2"/><circle cx="146.7" cy="1738.7" r="3.2"/><circle cx="120.8" cy="1745.4" r="3.2"/><circle cx="128.2" cy="1745.3" r="3.2"/><circle cx="137.3" cy="1747.1" r="3.2"/><circle cx="144.7" cy="1746.1" r="3.2"/><circle cx="151.7" cy="1745.5" r="3.2"/><circle cx="124.7" cy="1752.5" r="3.2"/><circle cx="133.5" cy="1751.4" r="3.2"/><circle cx="139.1" cy="1753.5" r="3.2"/><circle cx="147.2" cy="1753.3" r="3.2"/><circle cx="126.1" cy="1760.8" r="3.2"/><circle cx="132.7" cy="1759.1" r="3.2"/><circle cx="141" cy="1760.3" r="3.2"/><circle cx="148.1" cy="1760.4" r="3.2"/><circle cx="129.5" cy="1767.7" r="3.2"/><circle cx="136.2" cy="1767" r="3.2"/><circle cx="145.1" cy="1765.8" r="3.2"/><circle cx="129.5" cy="1772.7" r="3.2"/><circle cx="136.5" cy="1771.8" r="3.2"/><circle cx="142.8" cy="1773.9" r="3.2"/><circle cx="132.8" cy="1780.3" r="3.2"/><circle cx="140.9" cy="1779.7" r="3.2"/><circle cx="132.6" cy="1785.7" r="3.2"/><circle cx="141" cy="1787.7" r="3.2"/><circle cx="133.5" cy="1794.6" r="3.2"/><circle cx="140.7" cy="1794.1" r="3.2"/><circle cx="135.9" cy="1801.1" r="3.2"/><circle cx="136.2" cy="1806.9" r="3.2"/></g><line x1="136.6" y1="1692" x2="136.6" y2="1806.3" stroke="#231f20" stroke-width="1.2"/><rect x="132.4" y="1729.4" width="8.4" height="40.6" fill="none" stroke="#231f20" stroke-width="1.2"/><line x1="132.4" y1="1746.6" x2="140.8" y2="1746.6" stroke="#231f20" stroke-width="2.6"/>
<path d="M213.3 1580 L213.3 1584.6 L213.2 1589.3 L213 1593.9 L212.8 1598.5 L212.6 1603.2 L212.3 1607.8 L212 1612.4 L211.7 1617.1 L211.2 1621.7 L210.7 1626.3 L210.1 1631 L209.4 1635.6 L208.5 1640.2 L207.6 1644.9 L206.5 1649.5 L205 1654.1 L203.1 1658.8 L201.2 1663.4 L199.4 1668 L197.9 1672.7 L196.6 1677.3 L195.3 1681.9 L194.1 1686.6 L192.8 1691.2 L191.3 1695.8 L189.7 1700.4 L188.1 1705.1 L186.6 1709.7 L185.3 1714.3 L183.9 1719 L183.2 1723.6 L183.5 1728.2 L184 1732.9 L184.7 1737.5 L185.7 1742.1 L187 1746.8 L188.6 1751.4 L190.2 1756 L192.4 1760.7 L195 1765.3 L197.9 1769.9 L200.7 1774.6 L203.4 1779.2 L206.3 1783.8 L208.6 1788.5 L210.2 1793.1 L211.5 1797.7 L212.4 1802.4 L212.9 1807 L214.5 1807 L215 1802.4 L215.9 1797.7 L217.2 1793.1 L218.8 1788.5 L221.1 1783.8 L224 1779.2 L226.7 1774.6 L229.5 1769.9 L232.4 1765.3 L235 1760.7 L237.2 1756 L238.8 1751.4 L240.4 1746.8 L241.7 1742.1 L242.7 1737.5 L243.4 1732.9 L243.9 1728.2 L244.2 1723.6 L243.5 1719 L242.1 1714.3 L240.8 1709.7 L239.3 1705.1 L237.7 1700.4 L236.1 1695.8 L234.6 1691.2 L233.3 1686.6 L232.1 1681.9 L230.8 1677.3 L229.5 1672.7 L228 1668 L226.2 1663.4 L224.3 1658.8 L222.4 1654.1 L220.9 1649.5 L219.8 1644.9 L218.9 1640.2 L218 1635.6 L217.3 1631 L216.7 1626.3 L216.2 1621.7 L215.7 1617.1 L215.4 1612.4 L215.1 1607.8 L214.8 1603.2 L214.6 1598.5 L214.4 1593.9 L214.2 1589.3 L214.1 1584.6 L214.1 1580Z" fill="#e0f0f3" stroke="#6db9c8" stroke-width="1.5" stroke-linejoin="round"/><path d="M210.9 1580 L210.9 1584.6 L210.9 1589.3 L210.8 1593.9 L210.8 1598.5 L210.7 1603.2 L210.7 1607.8 L210.6 1612.4 L210.5 1617.1 L210.5 1621.7 L210.4 1626.3 L210.2 1631 L210.1 1635.6 L209.9 1640.2 L209.6 1644.9 L209.3 1649.5 L208.9 1654.1 L208.2 1658.8 L207.4 1663.4 L206.5 1668 L205.7 1672.7 L204.8 1677.3 L203.9 1681.9 L202.9 1686.6 L201.9 1691.2 L201 1695.8 L200 1700.4 L199 1705.1 L198.2 1709.7 L197.5 1714.3 L196.8 1719 L196.5 1723.6 L196.7 1728.2 L197.1 1732.9 L197.6 1737.5 L198.4 1742.1 L199.3 1746.8 L200.4 1751.4 L201.5 1756 L202.7 1760.7 L204 1765.3 L205.4 1769.9 L206.7 1774.6 L207.8 1779.2 L208.9 1783.8 L210 1788.5 L210.6 1793.1 L210.9 1797.7 L211 1802.4 L211.1 1807 L216.3 1807 L216.4 1802.4 L216.5 1797.7 L216.8 1793.1 L217.4 1788.5 L218.5 1783.8 L219.6 1779.2 L220.7 1774.6 L222 1769.9 L223.4 1765.3 L224.7 1760.7 L225.9 1756 L227 1751.4 L228.1 1746.8 L229 1742.1 L229.8 1737.5 L230.3 1732.9 L230.7 1728.2 L230.9 1723.6 L230.6 1719 L229.9 1714.3 L229.2 1709.7 L228.4 1705.1 L227.4 1700.4 L226.4 1695.8 L225.5 1691.2 L224.5 1686.6 L223.5 1681.9 L222.6 1677.3 L221.7 1672.7 L220.9 1668 L220 1663.4 L219.2 1658.8 L218.5 1654.1 L218.1 1649.5 L217.8 1644.9 L217.5 1640.2 L217.3 1635.6 L217.2 1631 L217 1626.3 L216.9 1621.7 L216.9 1617.1 L216.8 1612.4 L216.7 1607.8 L216.7 1603.2 L216.6 1598.5 L216.6 1593.9 L216.5 1589.3 L216.5 1584.6 L216.5 1580Z" fill="#72bccb" stroke="#72bccb" stroke-width="1" stroke-linejoin="round" opacity="1.0"/><line x1="213.7" y1="1615.7" x2="213.7" y2="1807" stroke="#231f20" stroke-width="1.2"/><rect x="209.5" y="1693.4" width="8.4" height="53.2" fill="none" stroke="#231f20" stroke-width="1.2"/><line x1="209.5" y1="1723.4" x2="217.9" y2="1723.4" stroke="#231f20" stroke-width="2.6"/>
<path d="M290.5 1490.9 L290.5 1497.6 L290.5 1504.3 L290.4 1511 L290.4 1517.8 L290.3 1524.5 L290.2 1531.2 L290.1 1537.9 L290 1544.6 L289.8 1551.3 L289.6 1558.1 L289.3 1564.8 L288.9 1571.5 L288.3 1578.2 L287.6 1584.9 L287 1591.6 L286.3 1598.4 L285.6 1605.1 L284.7 1611.8 L283.2 1618.5 L279.6 1625.2 L275.9 1631.9 L272.5 1638.7 L269.8 1645.4 L268.1 1652.1 L267.1 1658.8 L266.7 1665.5 L266.6 1672.2 L266.6 1679 L267 1685.7 L268 1692.4 L269.2 1699.1 L270.6 1705.8 L272.1 1712.5 L274 1719.3 L276.1 1726 L278.2 1732.7 L280 1739.4 L281.7 1746.1 L283.3 1752.8 L284.8 1759.6 L286.3 1766.3 L287.6 1773 L288.5 1779.7 L289.1 1786.4 L289.6 1793.1 L289.9 1799.9 L290.1 1806.6 L290.3 1813.3 L290.4 1820 L291.4 1820 L291.5 1813.3 L291.7 1806.6 L291.9 1799.9 L292.2 1793.1 L292.7 1786.4 L293.3 1779.7 L294.2 1773 L295.5 1766.3 L297 1759.6 L298.5 1752.8 L300.1 1746.1 L301.8 1739.4 L303.6 1732.7 L305.7 1726 L307.8 1719.3 L309.7 1712.5 L311.2 1705.8 L312.6 1699.1 L313.8 1692.4 L314.8 1685.7 L315.2 1679 L315.2 1672.2 L315.1 1665.5 L314.7 1658.8 L313.7 1652.1 L312 1645.4 L309.3 1638.7 L305.9 1631.9 L302.2 1625.2 L298.6 1618.5 L297.1 1611.8 L296.2 1605.1 L295.5 1598.4 L294.8 1591.6 L294.2 1584.9 L293.5 1578.2 L292.9 1571.5 L292.5 1564.8 L292.2 1558.1 L292 1551.3 L291.8 1544.6 L291.7 1537.9 L291.6 1531.2 L291.5 1524.5 L291.4 1517.8 L291.4 1511 L291.3 1504.3 L291.3 1497.6 L291.3 1490.9Z" fill="#f9efd2" stroke="#e3b73b" stroke-width="1.5" stroke-linejoin="round"/><path d="M290 1490.9 L290 1497.6 L290 1504.3 L290 1511 L290 1517.8 L290 1524.5 L289.9 1531.2 L289.9 1537.9 L289.9 1544.6 L289.8 1551.3 L289.4 1558.1 L289 1564.8 L288.6 1571.5 L288.3 1578.2 L288 1584.9 L287.7 1591.6 L287.2 1598.4 L286.7 1605.1 L285.6 1611.8 L283.7 1618.5 L281.8 1625.2 L280 1631.9 L278.1 1638.7 L276.4 1645.4 L275.4 1652.1 L274.6 1658.8 L274 1665.5 L273.9 1672.2 L274.1 1679 L274.5 1685.7 L275 1692.4 L275.7 1699.1 L276.8 1705.8 L278 1712.5 L279.2 1719.3 L280.6 1726 L282 1732.7 L283.3 1739.4 L284.5 1746.1 L285.7 1752.8 L286.6 1759.6 L287.5 1766.3 L288.2 1773 L288.6 1779.7 L288.9 1786.4 L289.2 1793.1 L289.4 1799.9 L289.6 1806.6 L289.8 1813.3 L289.9 1820 L291.9 1820 L292 1813.3 L292.2 1806.6 L292.4 1799.9 L292.6 1793.1 L292.9 1786.4 L293.2 1779.7 L293.6 1773 L294.3 1766.3 L295.2 1759.6 L296.1 1752.8 L297.3 1746.1 L298.5 1739.4 L299.8 1732.7 L301.2 1726 L302.6 1719.3 L303.8 1712.5 L305 1705.8 L306.1 1699.1 L306.8 1692.4 L307.3 1685.7 L307.7 1679 L307.9 1672.2 L307.8 1665.5 L307.2 1658.8 L306.4 1652.1 L305.4 1645.4 L303.7 1638.7 L301.8 1631.9 L300 1625.2 L298.1 1618.5 L296.2 1611.8 L295.1 1605.1 L294.6 1598.4 L294.1 1591.6 L293.8 1584.9 L293.5 1578.2 L293.2 1571.5 L292.8 1564.8 L292.4 1558.1 L292 1551.3 L291.9 1544.6 L291.9 1537.9 L291.9 1531.2 L291.8 1524.5 L291.8 1517.8 L291.8 1511 L291.8 1504.3 L291.8 1497.6 L291.8 1490.9Z" fill="#e5ba40" stroke="#e5ba40" stroke-width="1" stroke-linejoin="round" opacity="1.0"/><g fill="#e5ba40" opacity="0.85"><circle cx="290.5" cy="1491.5" r="2.9"/><circle cx="291.5" cy="1533.5" r="2.9"/><circle cx="290.5" cy="1551" r="2.9"/><circle cx="291.5" cy="1556" r="2.9"/><circle cx="290.5" cy="1561" r="2.9"/><circle cx="291.5" cy="1800" r="2.9"/><circle cx="290.5" cy="1806" r="2.9"/><circle cx="291.5" cy="1812" r="2.9"/><circle cx="290.5" cy="1816" r="2.9"/><circle cx="291.5" cy="1819.5" r="2.9"/></g><line x1="290.9" y1="1565.7" x2="290.9" y2="1801.4" stroke="#231f20" stroke-width="1.2"/><rect x="286.7" y="1654.3" width="8.4" height="59.1" fill="none" stroke="#231f20" stroke-width="1.2"/><line x1="286.7" y1="1684.3" x2="295.1" y2="1684.3" stroke="#231f20" stroke-width="2.6"/>
<line x1="368.6" y1="1785" x2="368.6" y2="1831" stroke="#7a2346" stroke-width="1.4"/>
<path d="M365.8 1538.6 L365.1 1544.6 L364.8 1550.6 L364.5 1556.5 L364.1 1562.5 L363.5 1568.5 L362.7 1574.5 L361.7 1580.4 L360.7 1586.4 L359.6 1592.4 L358.3 1598.4 L357.1 1604.3 L355.9 1610.3 L354.7 1616.3 L353.5 1622.3 L352.4 1628.2 L351.3 1634.2 L350.2 1640.2 L349.2 1646.2 L348.5 1652.1 L347.8 1658.1 L347.2 1664.1 L347 1670.1 L347 1676 L347 1682 L347.5 1688 L348.2 1694 L348.8 1699.9 L349.5 1705.9 L350.3 1711.9 L351.2 1717.9 L352.4 1723.8 L353.6 1729.8 L354.9 1735.8 L356.4 1741.8 L358 1747.7 L359.5 1753.7 L360.9 1759.7 L362 1765.7 L363.2 1771.6 L364.4 1777.6 L365.8 1783.6 L366.8 1789.6 L367.5 1795.5 L367.8 1801.5 L367.9 1807.5 L368 1813.5 L368.1 1819.4 L368.1 1825.4 L368.1 1831.4 L369.1 1831.4 L369.1 1825.4 L369.1 1819.4 L369.2 1813.5 L369.3 1807.5 L369.4 1801.5 L369.7 1795.5 L370.4 1789.6 L371.4 1783.6 L372.8 1777.6 L374 1771.6 L375.2 1765.7 L376.3 1759.7 L377.7 1753.7 L379.2 1747.7 L380.8 1741.8 L382.3 1735.8 L383.6 1729.8 L384.8 1723.8 L386 1717.9 L386.9 1711.9 L387.7 1705.9 L388.4 1699.9 L389 1694 L389.7 1688 L390.2 1682 L390.2 1676 L390.2 1670.1 L390 1664.1 L389.4 1658.1 L388.7 1652.1 L388 1646.2 L387 1640.2 L385.9 1634.2 L384.8 1628.2 L383.7 1622.3 L382.5 1616.3 L381.3 1610.3 L380.1 1604.3 L378.9 1598.4 L377.6 1592.4 L376.5 1586.4 L375.5 1580.4 L374.5 1574.5 L373.7 1568.5 L373.1 1562.5 L372.7 1556.5 L372.4 1550.6 L372.1 1544.6 L371.4 1538.6Z" fill="#dcc9cf" stroke="#7a2346" stroke-width="1.5" stroke-linejoin="round"/><g fill="#7a2346" opacity="0.85"><circle cx="368.2" cy="1539" r="2.9"/><circle cx="369.2" cy="1831.4" r="2.9"/></g><g fill="#7a2346" fill-opacity="0.7"><circle cx="368.1" cy="1541.5" r="3.2"/><circle cx="369.2" cy="1545.9" r="3.2"/><circle cx="367.9" cy="1547.6" r="3.2"/><circle cx="369.6" cy="1551.7" r="3.2"/><circle cx="367.6" cy="1557.4" r="3.2"/><circle cx="367.6" cy="1561.2" r="3.2"/><circle cx="369" cy="1565.7" r="3.2"/><circle cx="367.5" cy="1569.3" r="3.2"/><circle cx="366.2" cy="1573.2" r="3.2"/><circle cx="370.4" cy="1575.8" r="3.2"/><circle cx="365.8" cy="1578.1" r="3.2"/><circle cx="370.7" cy="1579.8" r="3.2"/><circle cx="366.3" cy="1582.4" r="3.2"/><circle cx="370.5" cy="1584.5" r="3.2"/><circle cx="365.5" cy="1586.6" r="3.2"/><circle cx="371.4" cy="1587.1" r="3.2"/><circle cx="363.9" cy="1592.2" r="3.2"/><circle cx="367.6" cy="1590.9" r="3.2"/><circle cx="373.3" cy="1590.4" r="3.2"/><circle cx="363" cy="1594.8" r="3.2"/><circle cx="368.2" cy="1597.2" r="3.2"/><circle cx="374" cy="1596.8" r="3.2"/><circle cx="361.6" cy="1601.4" r="3.2"/><circle cx="365.8" cy="1599" r="3.2"/><circle cx="370.1" cy="1600.3" r="3.2"/><circle cx="375" cy="1599.7" r="3.2"/><circle cx="360.5" cy="1604.8" r="3.2"/><circle cx="366.8" cy="1604.3" r="3.2"/><circle cx="370.1" cy="1603.7" r="3.2"/><circle cx="376.1" cy="1604.2" r="3.2"/><circle cx="361.4" cy="1609.7" r="3.2"/><circle cx="367.2" cy="1609.6" r="3.2"/><circle cx="370.7" cy="1608.7" r="3.2"/><circle cx="375.6" cy="1608.8" r="3.2"/><circle cx="360.3" cy="1614.2" r="3.2"/><circle cx="363" cy="1612.7" r="3.2"/><circle cx="368.4" cy="1613.7" r="3.2"/><circle cx="373.5" cy="1613.2" r="3.2"/><circle cx="377.4" cy="1611.8" r="3.2"/><circle cx="358.3" cy="1618.3" r="3.2"/><circle cx="363.2" cy="1617.2" r="3.2"/><circle cx="369.4" cy="1617.3" r="3.2"/><circle cx="373.3" cy="1616" r="3.2"/><circle cx="377.6" cy="1617.4" r="3.2"/><circle cx="359" cy="1622.2" r="3.2"/><circle cx="363.4" cy="1620.8" r="3.2"/><circle cx="368.3" cy="1622.2" r="3.2"/><circle cx="372.9" cy="1622" r="3.2"/><circle cx="378.5" cy="1622.3" r="3.2"/><circle cx="358.1" cy="1626.9" r="3.2"/><circle cx="361.4" cy="1627.6" r="3.2"/><circle cx="367.3" cy="1626.3" r="3.2"/><circle cx="371.1" cy="1626" r="3.2"/><circle cx="375.1" cy="1624.8" r="3.2"/><circle cx="379.6" cy="1624.8" r="3.2"/><circle cx="356.6" cy="1629.4" r="3.2"/><circle cx="362.5" cy="1631.6" r="3.2"/><circle cx="367.3" cy="1631.8" r="3.2"/><circle cx="370.8" cy="1630.3" r="3.2"/><circle cx="376.7" cy="1629.8" r="3.2"/><circle cx="380.1" cy="1629.6" r="3.2"/><circle cx="356.8" cy="1634.9" r="3.2"/><circle cx="361.3" cy="1636.1" r="3.2"/><circle cx="367.5" cy="1633.6" r="3.2"/><circle cx="370.3" cy="1634.6" r="3.2"/><circle cx="374.4" cy="1633.7" r="3.2"/><circle cx="379.4" cy="1635.7" r="3.2"/><circle cx="353.7" cy="1639.6" r="3.2"/><circle cx="359.4" cy="1639.1" r="3.2"/><circle cx="363.7" cy="1640" r="3.2"/><circle cx="369.5" cy="1638.2" r="3.2"/><circle cx="373.6" cy="1638.2" r="3.2"/><circle cx="378.5" cy="1638.1" r="3.2"/><circle cx="383" cy="1640.4" r="3.2"/><circle cx="353.6" cy="1642.2" r="3.2"/><circle cx="360.6" cy="1642.5" r="3.2"/><circle cx="363.7" cy="1643.4" r="3.2"/><circle cx="368.5" cy="1642" r="3.2"/><circle cx="373.7" cy="1642.2" r="3.2"/><circle cx="378.9" cy="1641.9" r="3.2"/><circle cx="381.5" cy="1644.2" r="3.2"/><circle cx="354.7" cy="1648.9" r="3.2"/><circle cx="360.1" cy="1646.9" r="3.2"/><circle cx="365" cy="1647.2" r="3.2"/><circle cx="368" cy="1646.7" r="3.2"/><circle cx="374.2" cy="1646.3" r="3.2"/><circle cx="377.8" cy="1646.2" r="3.2"/><circle cx="382.4" cy="1647.1" r="3.2"/><circle cx="351.6" cy="1651.1" r="3.2"/><circle cx="356.5" cy="1650.5" r="3.2"/><circle cx="361.7" cy="1651" r="3.2"/><circle cx="367.4" cy="1652.1" r="3.2"/><circle cx="371.9" cy="1651.2" r="3.2"/><circle cx="374.7" cy="1652.8" r="3.2"/><circle cx="379.6" cy="1651.9" r="3.2"/><circle cx="384.8" cy="1651" r="3.2"/><circle cx="351.7" cy="1654.9" r="3.2"/><circle cx="356.2" cy="1657" r="3.2"/><circle cx="362.5" cy="1656.2" r="3.2"/><circle cx="366.5" cy="1655.2" r="3.2"/><circle cx="370.8" cy="1655.7" r="3.2"/><circle cx="375.1" cy="1657.6" r="3.2"/><circle cx="380.4" cy="1655.9" r="3.2"/><circle cx="384.4" cy="1655.9" r="3.2"/><circle cx="353.6" cy="1661.1" r="3.2"/><circle cx="356.2" cy="1659.3" r="3.2"/><circle cx="360.8" cy="1660.6" r="3.2"/><circle cx="366.1" cy="1661.8" r="3.2"/><circle cx="372" cy="1661" r="3.2"/><circle cx="376.3" cy="1661.7" r="3.2"/><circle cx="380.1" cy="1661.6" r="3.2"/><circle cx="383.8" cy="1659.9" r="3.2"/><circle cx="353.6" cy="1664.4" r="3.2"/><circle cx="356.3" cy="1665.2" r="3.2"/><circle cx="360.8" cy="1665.2" r="3.2"/><circle cx="365.4" cy="1665.9" r="3.2"/><circle cx="371.2" cy="1664.7" r="3.2"/><circle cx="376.1" cy="1664.4" r="3.2"/><circle cx="381.1" cy="1663.9" r="3.2"/><circle cx="385.9" cy="1663.9" r="3.2"/><circle cx="351.4" cy="1670.2" r="3.2"/><circle cx="357.7" cy="1668.6" r="3.2"/><circle cx="362" cy="1667.6" r="3.2"/><circle cx="367.3" cy="1668.3" r="3.2"/><circle cx="371" cy="1669.6" r="3.2"/><circle cx="374.7" cy="1668.3" r="3.2"/><circle cx="380.7" cy="1668.8" r="3.2"/><circle cx="384.2" cy="1670.1" r="3.2"/><circle cx="353" cy="1673.4" r="3.2"/><circle cx="356" cy="1673.9" r="3.2"/><circle cx="361.8" cy="1674" r="3.2"/><circle cx="367" cy="1673.6" r="3.2"/><circle cx="371.7" cy="1672.2" r="3.2"/><circle cx="375.8" cy="1673.8" r="3.2"/><circle cx="379.4" cy="1672.6" r="3.2"/><circle cx="385.3" cy="1672.3" r="3.2"/><circle cx="351.7" cy="1676.4" r="3.2"/><circle cx="357.7" cy="1676.8" r="3.2"/><circle cx="361.6" cy="1676.6" r="3.2"/><circle cx="367.4" cy="1677.6" r="3.2"/><circle cx="370.9" cy="1676.6" r="3.2"/><circle cx="375.8" cy="1678.4" r="3.2"/><circle cx="380.4" cy="1677.1" r="3.2"/><circle cx="385.8" cy="1676.5" r="3.2"/><circle cx="352.1" cy="1682.7" r="3.2"/><circle cx="356.9" cy="1681.3" r="3.2"/><circle cx="361.3" cy="1682.1" r="3.2"/><circle cx="366.9" cy="1682" r="3.2"/><circle cx="371.6" cy="1681" r="3.2"/><circle cx="375" cy="1683.1" r="3.2"/><circle cx="380.2" cy="1681.5" r="3.2"/><circle cx="385.5" cy="1680.6" r="3.2"/><circle cx="353.4" cy="1686.3" r="3.2"/><circle cx="357.6" cy="1685.7" r="3.2"/><circle cx="360.6" cy="1684.9" r="3.2"/><circle cx="365.9" cy="1687.5" r="3.2"/><circle cx="372" cy="1685.5" r="3.2"/><circle cx="374.8" cy="1687.1" r="3.2"/><circle cx="380.9" cy="1684.9" r="3.2"/><circle cx="385.1" cy="1687" r="3.2"/><circle cx="352.8" cy="1691.7" r="3.2"/><circle cx="356.3" cy="1690.4" r="3.2"/><circle cx="362.7" cy="1689.8" r="3.2"/><circle cx="367.1" cy="1691.4" r="3.2"/><circle cx="370.5" cy="1691.9" r="3.2"/><circle cx="375.2" cy="1691.1" r="3.2"/><circle cx="380.2" cy="1691.8" r="3.2"/><circle cx="384.2" cy="1690.4" r="3.2"/><circle cx="352.2" cy="1693.9" r="3.2"/><circle cx="357.9" cy="1694.6" r="3.2"/><circle cx="361.6" cy="1695.4" r="3.2"/><circle cx="365.5" cy="1693.7" r="3.2"/><circle cx="371.8" cy="1693.9" r="3.2"/><circle cx="374.5" cy="1693.5" r="3.2"/><circle cx="379.8" cy="1695.4" r="3.2"/><circle cx="385.8" cy="1695.9" r="3.2"/><circle cx="355.8" cy="1698.7" r="3.2"/><circle cx="360.5" cy="1700.1" r="3.2"/><circle cx="363.5" cy="1700.1" r="3.2"/><circle cx="368.4" cy="1699" r="3.2"/><circle cx="373" cy="1698.6" r="3.2"/><circle cx="378.5" cy="1699.6" r="3.2"/><circle cx="381.7" cy="1700.5" r="3.2"/><circle cx="355.3" cy="1703.6" r="3.2"/><circle cx="359" cy="1702.6" r="3.2"/><circle cx="364" cy="1704.7" r="3.2"/><circle cx="368.4" cy="1703.4" r="3.2"/><circle cx="372.1" cy="1704" r="3.2"/><circle cx="377.2" cy="1703.5" r="3.2"/><circle cx="382.8" cy="1704.4" r="3.2"/><circle cx="354.3" cy="1707.8" r="3.2"/><circle cx="360.1" cy="1707.6" r="3.2"/><circle cx="363.4" cy="1708.4" r="3.2"/><circle cx="369.2" cy="1708.1" r="3.2"/><circle cx="372" cy="1707.5" r="3.2"/><circle cx="377.4" cy="1708.9" r="3.2"/><circle cx="381.2" cy="1707.4" r="3.2"/><circle cx="354.9" cy="1711.1" r="3.2"/><circle cx="360.2" cy="1711.9" r="3.2"/><circle cx="364.8" cy="1713.3" r="3.2"/><circle cx="368.4" cy="1711.9" r="3.2"/><circle cx="373.2" cy="1712.2" r="3.2"/><circle cx="378.1" cy="1712.5" r="3.2"/><circle cx="383.2" cy="1710.8" r="3.2"/><circle cx="356" cy="1715.2" r="3.2"/><circle cx="361.3" cy="1715.9" r="3.2"/><circle cx="366" cy="1714.9" r="3.2"/><circle cx="370.6" cy="1716.8" r="3.2"/><circle cx="375.2" cy="1717.6" r="3.2"/><circle cx="379.7" cy="1716.2" r="3.2"/><circle cx="357.6" cy="1721.8" r="3.2"/><circle cx="362.7" cy="1719.7" r="3.2"/><circle cx="365.2" cy="1721.1" r="3.2"/><circle cx="372" cy="1721.5" r="3.2"/><circle cx="375.7" cy="1720.1" r="3.2"/><circle cx="380.5" cy="1720.2" r="3.2"/><circle cx="356.9" cy="1723.9" r="3.2"/><circle cx="362.7" cy="1724.9" r="3.2"/><circle cx="366.6" cy="1726" r="3.2"/><circle cx="371.6" cy="1724.2" r="3.2"/><circle cx="375.9" cy="1724.4" r="3.2"/><circle cx="379.6" cy="1725.7" r="3.2"/><circle cx="359" cy="1730.1" r="3.2"/><circle cx="362.8" cy="1728.6" r="3.2"/><circle cx="369" cy="1728.6" r="3.2"/><circle cx="372.8" cy="1730.1" r="3.2"/><circle cx="376.6" cy="1729.9" r="3.2"/><circle cx="359.3" cy="1733.5" r="3.2"/><circle cx="363.9" cy="1734.2" r="3.2"/><circle cx="369.2" cy="1733.9" r="3.2"/><circle cx="372.8" cy="1733.4" r="3.2"/><circle cx="377.3" cy="1732.3" r="3.2"/><circle cx="358.3" cy="1738.2" r="3.2"/><circle cx="363.7" cy="1737.9" r="3.2"/><circle cx="367.7" cy="1737.1" r="3.2"/><circle cx="373.7" cy="1736.7" r="3.2"/><circle cx="376.7" cy="1738.9" r="3.2"/><circle cx="361.2" cy="1741.8" r="3.2"/><circle cx="366.4" cy="1741.1" r="3.2"/><circle cx="369.9" cy="1741.5" r="3.2"/><circle cx="376.2" cy="1741" r="3.2"/><circle cx="362.4" cy="1745.9" r="3.2"/><circle cx="365.4" cy="1747.8" r="3.2"/><circle cx="370.7" cy="1746.7" r="3.2"/><circle cx="375.3" cy="1745.1" r="3.2"/><circle cx="365.1" cy="1751.8" r="3.2"/><circle cx="368" cy="1750.5" r="3.2"/><circle cx="372.3" cy="1750.4" r="3.2"/><circle cx="364.3" cy="1754.1" r="3.2"/><circle cx="368.2" cy="1756.5" r="3.2"/><circle cx="373.4" cy="1756" r="3.2"/><circle cx="367" cy="1760.6" r="3.2"/><circle cx="370" cy="1760.4" r="3.2"/><circle cx="365.8" cy="1764.4" r="3.2"/><circle cx="370.9" cy="1765.1" r="3.2"/><circle cx="365.7" cy="1766.7" r="3.2"/><circle cx="370.4" cy="1768.5" r="3.2"/><circle cx="367.5" cy="1773.6" r="3.2"/><circle cx="369" cy="1776.5" r="3.2"/><circle cx="368.3" cy="1779.4" r="3.2"/><circle cx="367.6" cy="1784.9" r="3.2"/></g><line x1="368.6" y1="1538.6" x2="368.6" y2="1785.7" stroke="#231f20" stroke-width="1.2"/><rect x="364.4" y="1643.7" width="8.4" height="72.6" fill="none" stroke="#231f20" stroke-width="1.2"/><line x1="364.4" y1="1680" x2="372.8" y2="1680" stroke="#231f20" stroke-width="2.6"/>
<rect x="90.6" y="1475.1" width="323.7" height="373.8" fill="none" stroke="#231f20" stroke-width="1.2"/><line x1="82.6" y1="1482" x2="90.6" y2="1482" stroke="#231f20" stroke-width="1.1"/><text x="52.6" y="1489.8" font-size="21.7" stroke="#fff" stroke-width="0.3" textLength="15" lengthAdjust="spacingAndGlyphs">9</text><line x1="82.6" y1="1570.4" x2="90.6" y2="1570.4" stroke="#231f20" stroke-width="1.1"/><text x="52.4" y="1578.2" font-size="21.7" stroke="#fff" stroke-width="0.3" textLength="15" lengthAdjust="spacingAndGlyphs">6</text><line x1="82.6" y1="1658.8" x2="90.6" y2="1658.8" stroke="#231f20" stroke-width="1.1"/><text x="52.9" y="1666.5" font-size="21.7" stroke="#fff" stroke-width="0.3" textLength="14.5" lengthAdjust="spacingAndGlyphs">3</text><line x1="82.6" y1="1747.1" x2="90.6" y2="1747.1" stroke="#231f20" stroke-width="1.1"/><text x="52.9" y="1754.9" font-size="21.7" stroke="#fff" stroke-width="0.3" textLength="14.3" lengthAdjust="spacingAndGlyphs">0</text><line x1="82.6" y1="1835.4" x2="90.6" y2="1835.4" stroke="#231f20" stroke-width="1.1"/><text x="40.1" y="1843.2" font-size="21.7" stroke="#fff" stroke-width="0.3" textLength="27.2" lengthAdjust="spacingAndGlyphs">−3</text>
<text transform="translate(158.6 1874.9) rotate(-45)" x="-99.3" y="0" font-size="26.5" stroke="#fff" stroke-width="0.3" textLength="99.3" lengthAdjust="spacingAndGlyphs">Healthy</text><text transform="translate(241.9 1874.9) rotate(-45)" x="-140.4" y="0" font-size="26.5" stroke="#fff" stroke-width="0.3" textLength="141.6" lengthAdjust="spacingAndGlyphs">Nonsevere</text><text transform="translate(311.7 1874.9) rotate(-45)" x="-91.5" y="0" font-size="26.5" stroke="#fff" stroke-width="0.3" textLength="92.8" lengthAdjust="spacingAndGlyphs">Severe</text><text transform="translate(385.6 1874.9) rotate(-45)" x="-63.3" y="0" font-size="26.5" stroke="#fff" stroke-width="0.3" textLength="65.1" lengthAdjust="spacingAndGlyphs">Fatal</text>
<text x="506.7" y="1424.3" font-size="27" stroke="#fff" stroke-width="0.3" textLength="311.3" lengthAdjust="spacingAndGlyphs">Lymphoid dysregulation</text>
<text x="627.4" y="1457.1" font-size="27" stroke="#fff" stroke-width="0.3" textLength="71.4" lengthAdjust="spacingAndGlyphs">score</text>
<text transform="translate(448.6 1661.4) rotate(-90)" x="-37" y="0" font-size="27" stroke="#fff" stroke-width="0.3" textLength="73.9" lengthAdjust="spacingAndGlyphs">Score</text>
<path d="M541.1 1722.8 L536.3 1725.1 L532.4 1727.3 L529.3 1729.6 L526.6 1731.8 L524.1 1734.1 L522.3 1736.4 L521.3 1738.6 L520.6 1740.9 L520.1 1743.1 L519.7 1745.4 L519.5 1747.7 L519.4 1749.9 L519.2 1752.2 L519.2 1754.4 L519.3 1756.7 L519.4 1758.9 L519.6 1761.2 L519.8 1763.5 L520.1 1765.7 L520.6 1768 L521.2 1770.2 L522.2 1772.5 L523.5 1774.8 L524.9 1777 L526.6 1779.3 L528.7 1781.5 L531.3 1783.8 L533.7 1786.1 L536 1788.3 L537.8 1790.6 L539 1792.8 L540 1795.1 L540.8 1797.4 L541.5 1799.6 L542.4 1801.9 L543.3 1804.1 L544.1 1806.4 L545 1808.6 L545.9 1810.9 L546.7 1813.2 L547.6 1815.4 L548.6 1817.7 L549.4 1819.9 L549.9 1822.2 L550.2 1824.5 L550.4 1826.7 L550.6 1829 L550.7 1831.2 L550.7 1833.5 L555.1 1833.5 L555.1 1831.2 L555.2 1829 L555.4 1826.7 L555.6 1824.5 L555.9 1822.2 L556.4 1819.9 L557.2 1817.7 L558.2 1815.4 L559.1 1813.2 L559.9 1810.9 L560.8 1808.6 L561.7 1806.4 L562.5 1804.1 L563.4 1801.9 L564.3 1799.6 L565 1797.4 L565.8 1795.1 L566.8 1792.8 L568 1790.6 L569.8 1788.3 L572.1 1786.1 L574.5 1783.8 L577.1 1781.5 L579.2 1779.3 L580.9 1777 L582.3 1774.8 L583.6 1772.5 L584.6 1770.2 L585.2 1768 L585.7 1765.7 L586 1763.5 L586.2 1761.2 L586.4 1758.9 L586.5 1756.7 L586.6 1754.4 L586.6 1752.2 L586.4 1749.9 L586.3 1747.7 L586.1 1745.4 L585.7 1743.1 L585.2 1740.9 L584.5 1738.6 L583.5 1736.4 L581.7 1734.1 L579.2 1731.8 L576.5 1729.6 L573.4 1727.3 L569.5 1725.1 L564.7 1722.8Z" fill="#d6dacb" stroke="#3a6e23" stroke-width="1.5" stroke-linejoin="round"/><g fill="#4a7a33" fill-opacity="0.72"><circle cx="552.1" cy="1723.2" r="3.2"/><circle cx="548.6" cy="1729.4" r="3.2"/><circle cx="555.4" cy="1730.6" r="3.2"/><circle cx="550.2" cy="1734.7" r="3.2"/><circle cx="557.7" cy="1735" r="3.2"/><circle cx="545" cy="1743.2" r="3.2"/><circle cx="554" cy="1744" r="3.2"/><circle cx="559.1" cy="1743" r="3.2"/><circle cx="541.9" cy="1749.7" r="3.2"/><circle cx="549.8" cy="1748.7" r="3.2"/><circle cx="557.2" cy="1748.3" r="3.2"/><circle cx="563.1" cy="1748.5" r="3.2"/><circle cx="537.6" cy="1757" r="3.2"/><circle cx="545.4" cy="1757.4" r="3.2"/><circle cx="552.4" cy="1757.2" r="3.2"/><circle cx="560.8" cy="1756" r="3.2"/><circle cx="567.3" cy="1757.9" r="3.2"/><circle cx="538.4" cy="1764.7" r="3.2"/><circle cx="546.1" cy="1764.3" r="3.2"/><circle cx="552.7" cy="1763.2" r="3.2"/><circle cx="560.1" cy="1764.8" r="3.2"/><circle cx="566.9" cy="1764.7" r="3.2"/><circle cx="541.6" cy="1769.9" r="3.2"/><circle cx="549.1" cy="1769.7" r="3.2"/><circle cx="556.5" cy="1768.7" r="3.2"/><circle cx="563" cy="1770.8" r="3.2"/><circle cx="545.8" cy="1775.5" r="3.2"/><circle cx="552.4" cy="1776.1" r="3.2"/><circle cx="559.2" cy="1777" r="3.2"/><circle cx="545.3" cy="1782.3" r="3.2"/><circle cx="553.1" cy="1784.6" r="3.2"/><circle cx="559.4" cy="1783" r="3.2"/><circle cx="549.5" cy="1790.5" r="3.2"/><circle cx="556.6" cy="1790.4" r="3.2"/><circle cx="550.1" cy="1797.6" r="3.2"/><circle cx="556.8" cy="1797.1" r="3.2"/><circle cx="552.9" cy="1805.3" r="3.2"/><circle cx="552.2" cy="1812.2" r="3.2"/><circle cx="551.9" cy="1818" r="3.2"/><circle cx="551.8" cy="1825" r="3.2"/><circle cx="553.2" cy="1832.4" r="3.2"/></g><line x1="552.9" y1="1722.3" x2="552.9" y2="1815.7" stroke="#231f20" stroke-width="1.2"/><rect x="548.7" y="1746.6" width="8.4" height="29.1" fill="none" stroke="#231f20" stroke-width="1.2"/><line x1="548.7" y1="1760.6" x2="557.1" y2="1760.6" stroke="#231f20" stroke-width="2.6"/>
<path d="M624.7 1502.9 L624.7 1509.2 L624.7 1515.5 L624.6 1521.8 L624.6 1528.1 L624.5 1534.3 L624.5 1540.6 L624.4 1546.9 L624.4 1553.2 L624.3 1559.5 L624.2 1565.8 L624.1 1572.1 L623.8 1578.4 L623.6 1584.6 L623.3 1590.9 L622.9 1597.2 L622.4 1603.5 L621.9 1609.8 L621.1 1616.1 L620 1622.4 L619 1628.7 L618 1634.9 L617 1641.2 L616.1 1647.5 L615.3 1653.8 L614.6 1660.1 L614 1666.4 L613.4 1672.7 L612.9 1679 L612.4 1685.2 L612 1691.5 L611.6 1697.8 L611.2 1704.1 L610.9 1710.4 L610.5 1716.7 L610.1 1723 L609.6 1729.3 L609.3 1735.5 L609.3 1741.8 L609.3 1748.1 L609.3 1754.4 L609.4 1760.7 L610 1767 L611.2 1773.3 L613.3 1779.6 L615.7 1785.8 L618.3 1792.1 L621 1798.4 L622.8 1804.7 L623.7 1811 L628.9 1811 L629.8 1804.7 L631.6 1798.4 L634.3 1792.1 L636.9 1785.8 L639.3 1779.6 L641.4 1773.3 L642.6 1767 L643.2 1760.7 L643.3 1754.4 L643.3 1748.1 L643.3 1741.8 L643.3 1735.5 L643 1729.3 L642.5 1723 L642.1 1716.7 L641.7 1710.4 L641.4 1704.1 L641 1697.8 L640.6 1691.5 L640.2 1685.2 L639.7 1679 L639.2 1672.7 L638.6 1666.4 L638 1660.1 L637.3 1653.8 L636.5 1647.5 L635.6 1641.2 L634.6 1634.9 L633.6 1628.7 L632.6 1622.4 L631.5 1616.1 L630.7 1609.8 L630.2 1603.5 L629.7 1597.2 L629.3 1590.9 L629 1584.6 L628.8 1578.4 L628.5 1572.1 L628.4 1565.8 L628.3 1559.5 L628.2 1553.2 L628.2 1546.9 L628.1 1540.6 L628.1 1534.3 L628 1528.1 L628 1521.8 L627.9 1515.5 L627.9 1509.2 L627.9 1502.9Z" fill="#72bccb" stroke="#72bccb" stroke-width="1" stroke-linejoin="round" opacity="1.0"/><g fill="#72bccb" opacity="0.85"><circle cx="625.9" cy="1503.5" r="2.9"/><circle cx="626.9" cy="1510" r="2.9"/><circle cx="625.9" cy="1526" r="2.9"/><circle cx="626.9" cy="1533" r="2.9"/><circle cx="625.9" cy="1547" r="2.9"/><circle cx="626.9" cy="1552" r="2.9"/><circle cx="625.9" cy="1558" r="2.9"/><circle cx="626.9" cy="1564" r="2.9"/><circle cx="625.9" cy="1569" r="2.9"/><circle cx="626.9" cy="1576" r="2.9"/><circle cx="625.9" cy="1582" r="2.9"/><circle cx="626.9" cy="1588" r="2.9"/></g><line x1="626.3" y1="1572" x2="626.3" y2="1810" stroke="#231f20" stroke-width="1.2"/><rect x="622.1" y="1682.3" width="8.4" height="74.8" fill="none" stroke="#231f20" stroke-width="1.2"/><line x1="622.1" y1="1721.4" x2="630.5" y2="1721.4" stroke="#231f20" stroke-width="2.6"/>
<path d="M699.1 1490.9 L699.1 1497.9 L699.1 1504.9 L699 1511.8 L698.9 1518.8 L698.5 1525.8 L697.7 1532.8 L696.9 1539.8 L696 1546.7 L695.3 1553.7 L694.6 1560.7 L693.9 1567.7 L693 1574.7 L692.1 1581.6 L691.2 1588.6 L690.1 1595.6 L689 1602.6 L688.1 1609.6 L687.4 1616.5 L686.7 1623.5 L686.1 1630.5 L685.4 1637.5 L684.7 1644.5 L684.1 1651.4 L683.4 1658.4 L682.8 1665.4 L682.5 1672.4 L682.5 1679.3 L682.6 1686.3 L683.6 1693.3 L684.4 1700.3 L685.2 1707.3 L686.1 1714.2 L687.1 1721.2 L688.2 1728.2 L689.3 1735.2 L690.3 1742.2 L691.2 1749.1 L692.2 1756.1 L693.2 1763.1 L694.3 1770.1 L695.3 1777.1 L696.2 1784 L696.9 1791 L697.6 1798 L698.2 1805 L698.8 1812 L699 1818.9 L699.1 1825.9 L699.1 1832.9 L700.9 1832.9 L700.9 1825.9 L701 1818.9 L701.2 1812 L701.8 1805 L702.4 1798 L703.1 1791 L703.8 1784 L704.7 1777.1 L705.7 1770.1 L706.8 1763.1 L707.8 1756.1 L708.8 1749.1 L709.7 1742.2 L710.7 1735.2 L711.8 1728.2 L712.9 1721.2 L713.9 1714.2 L714.8 1707.3 L715.6 1700.3 L716.4 1693.3 L717.4 1686.3 L717.5 1679.3 L717.5 1672.4 L717.2 1665.4 L716.6 1658.4 L715.9 1651.4 L715.3 1644.5 L714.6 1637.5 L713.9 1630.5 L713.3 1623.5 L712.6 1616.5 L711.9 1609.6 L711 1602.6 L709.9 1595.6 L708.8 1588.6 L707.9 1581.6 L707 1574.7 L706.1 1567.7 L705.4 1560.7 L704.7 1553.7 L704 1546.7 L703.1 1539.8 L702.3 1532.8 L701.5 1525.8 L701.1 1518.8 L701 1511.8 L700.9 1504.9 L700.9 1497.9 L700.9 1490.9Z" fill="#e5ba40" stroke="#e5ba40" stroke-width="1" stroke-linejoin="round" opacity="1.0"/><g fill="#e5ba40" opacity="0.85"><circle cx="699.6" cy="1491.5" r="2.9"/><circle cx="700.6" cy="1502" r="2.9"/><circle cx="699.6" cy="1527" r="2.9"/><circle cx="700.6" cy="1531" r="2.9"/><circle cx="699.6" cy="1808" r="2.9"/><circle cx="700.6" cy="1812" r="2.9"/><circle cx="699.6" cy="1816" r="2.9"/><circle cx="700.6" cy="1832.5" r="2.9"/></g><line x1="700" y1="1531.4" x2="700" y2="1812.9" stroke="#231f20" stroke-width="1.2"/><rect x="695.8" y="1638" width="8.4" height="72.6" fill="none" stroke="#231f20" stroke-width="1.2"/><line x1="695.8" y1="1674.3" x2="704.2" y2="1674.3" stroke="#231f20" stroke-width="2.6"/>
<path d="M770.5 1526.1 L770.2 1531.4 L769.8 1536.6 L769.3 1541.9 L768.8 1547.2 L768.2 1552.4 L767.5 1557.7 L766.8 1563 L766.2 1568.3 L765.5 1573.5 L764.9 1578.8 L764.2 1584.1 L763.5 1589.3 L762.9 1594.6 L762.2 1599.9 L761.5 1605.1 L760.7 1610.4 L759.5 1615.7 L758.4 1620.9 L757.9 1626.2 L757.8 1631.5 L757.8 1636.8 L757.7 1642 L757.7 1647.3 L757.7 1652.6 L757.7 1657.8 L757.7 1663.1 L757.7 1668.4 L757.7 1673.6 L757.7 1678.9 L757.7 1684.2 L757.7 1689.5 L757.7 1694.7 L758.3 1700 L759.2 1705.3 L760.3 1710.5 L761.3 1715.8 L762.1 1721.1 L762.8 1726.3 L763.4 1731.6 L764.1 1736.9 L764.7 1742.1 L765.3 1747.4 L765.9 1752.7 L766.6 1758 L767.5 1763.2 L768.5 1768.5 L769.2 1773.8 L769.9 1779 L770.5 1784.3 L776.9 1784.3 L777.5 1779 L778.2 1773.8 L778.9 1768.5 L779.9 1763.2 L780.8 1758 L781.5 1752.7 L782.1 1747.4 L782.7 1742.1 L783.3 1736.9 L784 1731.6 L784.6 1726.3 L785.3 1721.1 L786.1 1715.8 L787.1 1710.5 L788.2 1705.3 L789.1 1700 L789.7 1694.7 L789.7 1689.5 L789.7 1684.2 L789.7 1678.9 L789.7 1673.6 L789.7 1668.4 L789.7 1663.1 L789.7 1657.8 L789.7 1652.6 L789.7 1647.3 L789.7 1642 L789.6 1636.8 L789.6 1631.5 L789.5 1626.2 L789 1620.9 L787.9 1615.7 L786.7 1610.4 L785.9 1605.1 L785.2 1599.9 L784.5 1594.6 L783.9 1589.3 L783.2 1584.1 L782.5 1578.8 L781.9 1573.5 L781.2 1568.3 L780.6 1563 L779.9 1557.7 L779.2 1552.4 L778.6 1547.2 L778.1 1541.9 L777.6 1536.6 L777.2 1531.4 L776.9 1526.1Z" fill="#dcc9cf" stroke="#7a2346" stroke-width="1.5" stroke-linejoin="round"/><g fill="#7a2346" opacity="0.85"><circle cx="773.3" cy="1527.5" r="2.9"/><circle cx="774.3" cy="1783.5" r="2.9"/></g><g fill="#7a2346" fill-opacity="0.7"><circle cx="774.6" cy="1527.2" r="3.1"/><circle cx="773.8" cy="1532.6" r="3.1"/><circle cx="774.3" cy="1535.7" r="3.1"/><circle cx="772.7" cy="1539.7" r="3.1"/><circle cx="774" cy="1542.3" r="3.1"/><circle cx="772.7" cy="1545.1" r="3.1"/><circle cx="774.1" cy="1549" r="3.1"/><circle cx="771.7" cy="1553.4" r="3.1"/><circle cx="776" cy="1551.4" r="3.1"/><circle cx="771.7" cy="1557.2" r="3.1"/><circle cx="776.8" cy="1555.2" r="3.1"/><circle cx="772.6" cy="1559.9" r="3.1"/><circle cx="775.7" cy="1561.5" r="3.1"/><circle cx="770.8" cy="1564.2" r="3.1"/><circle cx="775" cy="1564.5" r="3.1"/><circle cx="768.4" cy="1567.3" r="3.1"/><circle cx="772.9" cy="1566.6" r="3.1"/><circle cx="776.8" cy="1566.4" r="3.1"/><circle cx="769.9" cy="1571.6" r="3.1"/><circle cx="774.2" cy="1570.3" r="3.1"/><circle cx="777.9" cy="1570.9" r="3.1"/><circle cx="769" cy="1574.3" r="3.1"/><circle cx="774.9" cy="1574.4" r="3.1"/><circle cx="777.7" cy="1575.1" r="3.1"/><circle cx="770.4" cy="1576.6" r="3.1"/><circle cx="773.2" cy="1578.9" r="3.1"/><circle cx="777.8" cy="1576.5" r="3.1"/><circle cx="769.3" cy="1581.1" r="3.1"/><circle cx="773.9" cy="1581.1" r="3.1"/><circle cx="779.1" cy="1581.9" r="3.1"/><circle cx="766.5" cy="1585.3" r="3.1"/><circle cx="771.3" cy="1583.7" r="3.1"/><circle cx="774.8" cy="1586.1" r="3.1"/><circle cx="779.8" cy="1584.3" r="3.1"/><circle cx="767.7" cy="1589.2" r="3.1"/><circle cx="771" cy="1587.7" r="3.1"/><circle cx="775.7" cy="1588.5" r="3.1"/><circle cx="779.8" cy="1588.4" r="3.1"/><circle cx="766.9" cy="1592.6" r="3.1"/><circle cx="771.4" cy="1593.3" r="3.1"/><circle cx="776.3" cy="1593.2" r="3.1"/><circle cx="779.5" cy="1591.5" r="3.1"/><circle cx="767.4" cy="1594.9" r="3.1"/><circle cx="770.8" cy="1595.2" r="3.1"/><circle cx="774.7" cy="1595.2" r="3.1"/><circle cx="780.3" cy="1596.4" r="3.1"/><circle cx="767.5" cy="1600.3" r="3.1"/><circle cx="772.4" cy="1599.2" r="3.1"/><circle cx="776.5" cy="1600.7" r="3.1"/><circle cx="780.2" cy="1600.1" r="3.1"/><circle cx="764.8" cy="1602.9" r="3.1"/><circle cx="768.6" cy="1602.3" r="3.1"/><circle cx="774.3" cy="1603.4" r="3.1"/><circle cx="778.2" cy="1604.6" r="3.1"/><circle cx="781.1" cy="1602.1" r="3.1"/><circle cx="765.1" cy="1606" r="3.1"/><circle cx="769.6" cy="1607.8" r="3.1"/><circle cx="774" cy="1605.9" r="3.1"/><circle cx="777.6" cy="1606.2" r="3.1"/><circle cx="782.6" cy="1606.1" r="3.1"/><circle cx="765.9" cy="1609.7" r="3.1"/><circle cx="768.4" cy="1611.7" r="3.1"/><circle cx="773.7" cy="1611.1" r="3.1"/><circle cx="778.1" cy="1611.9" r="3.1"/><circle cx="781.3" cy="1610.2" r="3.1"/><circle cx="763.2" cy="1614.5" r="3.1"/><circle cx="768" cy="1612.6" r="3.1"/><circle cx="771.8" cy="1615.4" r="3.1"/><circle cx="776.7" cy="1613.1" r="3.1"/><circle cx="780.3" cy="1613.8" r="3.1"/><circle cx="784.1" cy="1612.6" r="3.1"/><circle cx="762" cy="1617.6" r="3.1"/><circle cx="767.1" cy="1617.8" r="3.1"/><circle cx="770.8" cy="1618.8" r="3.1"/><circle cx="774.6" cy="1618.4" r="3.1"/><circle cx="780.7" cy="1617.8" r="3.1"/><circle cx="785.4" cy="1616.1" r="3.1"/><circle cx="762.3" cy="1620.3" r="3.1"/><circle cx="767.3" cy="1622.1" r="3.1"/><circle cx="771.8" cy="1620.9" r="3.1"/><circle cx="775.5" cy="1621.8" r="3.1"/><circle cx="780.3" cy="1622.1" r="3.1"/><circle cx="783.2" cy="1619.9" r="3.1"/><circle cx="762.9" cy="1624.7" r="3.1"/><circle cx="768" cy="1625" r="3.1"/><circle cx="770.9" cy="1626.1" r="3.1"/><circle cx="775.1" cy="1624" r="3.1"/><circle cx="779.1" cy="1623.9" r="3.1"/><circle cx="784.7" cy="1625" r="3.1"/><circle cx="761.6" cy="1627.4" r="3.1"/><circle cx="765.2" cy="1629.4" r="3.1"/><circle cx="769.6" cy="1629.5" r="3.1"/><circle cx="772.6" cy="1627.8" r="3.1"/><circle cx="777.4" cy="1629.5" r="3.1"/><circle cx="782.6" cy="1628" r="3.1"/><circle cx="786.1" cy="1629.4" r="3.1"/><circle cx="760.1" cy="1631.1" r="3.1"/><circle cx="764.8" cy="1632.2" r="3.1"/><circle cx="768.7" cy="1631.1" r="3.1"/><circle cx="774.7" cy="1630.7" r="3.1"/><circle cx="777.9" cy="1632.2" r="3.1"/><circle cx="781" cy="1633.4" r="3.1"/><circle cx="785.5" cy="1630.7" r="3.1"/><circle cx="761.7" cy="1635.9" r="3.1"/><circle cx="766.1" cy="1636.7" r="3.1"/><circle cx="770.5" cy="1635.9" r="3.1"/><circle cx="772.9" cy="1636.6" r="3.1"/><circle cx="777.3" cy="1635" r="3.1"/><circle cx="781.2" cy="1634.8" r="3.1"/><circle cx="786.5" cy="1634.9" r="3.1"/><circle cx="760.4" cy="1640.4" r="3.1"/><circle cx="764.3" cy="1638.3" r="3.1"/><circle cx="770" cy="1639.9" r="3.1"/><circle cx="773.9" cy="1640.5" r="3.1"/><circle cx="779" cy="1639.6" r="3.1"/><circle cx="782.1" cy="1639.5" r="3.1"/><circle cx="786.3" cy="1640.7" r="3.1"/><circle cx="761.9" cy="1643" r="3.1"/><circle cx="766.1" cy="1643.9" r="3.1"/><circle cx="768.9" cy="1642" r="3.1"/><circle cx="774.6" cy="1643.7" r="3.1"/><circle cx="777.5" cy="1643.2" r="3.1"/><circle cx="782.8" cy="1643.6" r="3.1"/><circle cx="787.4" cy="1643.7" r="3.1"/><circle cx="760.5" cy="1647.8" r="3.1"/><circle cx="765.3" cy="1645.3" r="3.1"/><circle cx="769.5" cy="1646.7" r="3.1"/><circle cx="773.7" cy="1645.7" r="3.1"/><circle cx="779" cy="1644.9" r="3.1"/><circle cx="782.1" cy="1645.7" r="3.1"/><circle cx="787.4" cy="1646.8" r="3.1"/><circle cx="761.5" cy="1651" r="3.1"/><circle cx="764.1" cy="1648.6" r="3.1"/><circle cx="769" cy="1651.3" r="3.1"/><circle cx="774.3" cy="1649.3" r="3.1"/><circle cx="777" cy="1649.7" r="3.1"/><circle cx="782.1" cy="1650.7" r="3.1"/><circle cx="785.4" cy="1651" r="3.1"/><circle cx="761.5" cy="1652.9" r="3.1"/><circle cx="764.2" cy="1653.2" r="3.1"/><circle cx="769.8" cy="1654" r="3.1"/><circle cx="773" cy="1654.8" r="3.1"/><circle cx="778.7" cy="1654.3" r="3.1"/><circle cx="781.3" cy="1652.6" r="3.1"/><circle cx="786.6" cy="1654.2" r="3.1"/><circle cx="761.1" cy="1658.1" r="3.1"/><circle cx="765.6" cy="1658" r="3.1"/><circle cx="768.7" cy="1655.8" r="3.1"/><circle cx="773.4" cy="1658" r="3.1"/><circle cx="777.1" cy="1657.6" r="3.1"/><circle cx="780.9" cy="1655.8" r="3.1"/><circle cx="785.7" cy="1657.2" r="3.1"/><circle cx="760.8" cy="1661.7" r="3.1"/><circle cx="765.2" cy="1659.7" r="3.1"/><circle cx="770.3" cy="1661.2" r="3.1"/><circle cx="773.2" cy="1662.2" r="3.1"/><circle cx="778" cy="1660.6" r="3.1"/><circle cx="782" cy="1659.6" r="3.1"/><circle cx="786.4" cy="1660.8" r="3.1"/><circle cx="760.2" cy="1664.2" r="3.1"/><circle cx="764.8" cy="1663.9" r="3.1"/><circle cx="770.1" cy="1665.2" r="3.1"/><circle cx="773.4" cy="1664.3" r="3.1"/><circle cx="776.8" cy="1664" r="3.1"/><circle cx="781.6" cy="1665.4" r="3.1"/><circle cx="786.7" cy="1663" r="3.1"/><circle cx="761.8" cy="1667.5" r="3.1"/><circle cx="765.5" cy="1669.2" r="3.1"/><circle cx="770.5" cy="1667.8" r="3.1"/><circle cx="774.8" cy="1668.9" r="3.1"/><circle cx="779" cy="1667.5" r="3.1"/><circle cx="782.1" cy="1668.9" r="3.1"/><circle cx="786" cy="1666.9" r="3.1"/><circle cx="760.6" cy="1671.6" r="3.1"/><circle cx="765" cy="1670.9" r="3.1"/><circle cx="768.5" cy="1671.8" r="3.1"/><circle cx="774.2" cy="1672.6" r="3.1"/><circle cx="779.1" cy="1672.5" r="3.1"/><circle cx="781.7" cy="1670.9" r="3.1"/><circle cx="787.2" cy="1672.9" r="3.1"/><circle cx="762.3" cy="1676.6" r="3.1"/><circle cx="766.3" cy="1674.6" r="3.1"/><circle cx="770.4" cy="1676.3" r="3.1"/><circle cx="774.7" cy="1675.7" r="3.1"/><circle cx="778.6" cy="1673.7" r="3.1"/><circle cx="782.1" cy="1676.3" r="3.1"/><circle cx="786.4" cy="1676.2" r="3.1"/><circle cx="760.9" cy="1678" r="3.1"/><circle cx="765.2" cy="1677.3" r="3.1"/><circle cx="769.4" cy="1678.5" r="3.1"/><circle cx="772.6" cy="1678.4" r="3.1"/><circle cx="779.1" cy="1679.3" r="3.1"/><circle cx="781.4" cy="1678.2" r="3.1"/><circle cx="786.2" cy="1679.2" r="3.1"/><circle cx="760.9" cy="1681" r="3.1"/><circle cx="766.3" cy="1682.5" r="3.1"/><circle cx="769.7" cy="1683.3" r="3.1"/><circle cx="773.7" cy="1683" r="3.1"/><circle cx="778.4" cy="1682.1" r="3.1"/><circle cx="783.3" cy="1682.6" r="3.1"/><circle cx="786.6" cy="1681.1" r="3.1"/><circle cx="761.5" cy="1686.4" r="3.1"/><circle cx="766.1" cy="1687.3" r="3.1"/><circle cx="770.6" cy="1687.3" r="3.1"/><circle cx="773.7" cy="1685.5" r="3.1"/><circle cx="777.3" cy="1686.1" r="3.1"/><circle cx="781.3" cy="1685.5" r="3.1"/><circle cx="786.3" cy="1686.7" r="3.1"/><circle cx="761.5" cy="1688.7" r="3.1"/><circle cx="765.1" cy="1690.8" r="3.1"/><circle cx="768.3" cy="1690.8" r="3.1"/><circle cx="773.2" cy="1689.2" r="3.1"/><circle cx="778.9" cy="1690.3" r="3.1"/><circle cx="782.7" cy="1689.9" r="3.1"/><circle cx="786.2" cy="1688.9" r="3.1"/><circle cx="761.7" cy="1693.4" r="3.1"/><circle cx="765.9" cy="1694.3" r="3.1"/><circle cx="769.7" cy="1692" r="3.1"/><circle cx="773.2" cy="1693" r="3.1"/><circle cx="776.7" cy="1691.9" r="3.1"/><circle cx="782.3" cy="1693" r="3.1"/><circle cx="785.5" cy="1693.2" r="3.1"/><circle cx="763" cy="1696.6" r="3.1"/><circle cx="766.9" cy="1697" r="3.1"/><circle cx="772.2" cy="1696.6" r="3.1"/><circle cx="776.2" cy="1696.9" r="3.1"/><circle cx="779" cy="1697.7" r="3.1"/><circle cx="784.8" cy="1695.8" r="3.1"/><circle cx="762.7" cy="1701.8" r="3.1"/><circle cx="768.2" cy="1701.5" r="3.1"/><circle cx="772.6" cy="1700.7" r="3.1"/><circle cx="775.5" cy="1700.5" r="3.1"/><circle cx="779.9" cy="1701.9" r="3.1"/><circle cx="784.3" cy="1699.8" r="3.1"/><circle cx="762.5" cy="1702.7" r="3.1"/><circle cx="767.1" cy="1705.5" r="3.1"/><circle cx="771.1" cy="1702.7" r="3.1"/><circle cx="776.9" cy="1702.5" r="3.1"/><circle cx="778.9" cy="1703.5" r="3.1"/><circle cx="783.4" cy="1704.9" r="3.1"/><circle cx="763.1" cy="1706.8" r="3.1"/><circle cx="766.8" cy="1708" r="3.1"/><circle cx="772.4" cy="1708.9" r="3.1"/><circle cx="775.6" cy="1706.5" r="3.1"/><circle cx="781.1" cy="1708.3" r="3.1"/><circle cx="784.5" cy="1707.4" r="3.1"/><circle cx="765" cy="1711.1" r="3.1"/><circle cx="768.7" cy="1711.8" r="3.1"/><circle cx="773.7" cy="1710.6" r="3.1"/><circle cx="777.1" cy="1710.7" r="3.1"/><circle cx="781.1" cy="1710.3" r="3.1"/><circle cx="765.6" cy="1713.9" r="3.1"/><circle cx="770.7" cy="1713.4" r="3.1"/><circle cx="773.1" cy="1714.3" r="3.1"/><circle cx="777.2" cy="1714.4" r="3.1"/><circle cx="781.3" cy="1713.6" r="3.1"/><circle cx="764.4" cy="1719.7" r="3.1"/><circle cx="770.4" cy="1719.8" r="3.1"/><circle cx="772.7" cy="1717.1" r="3.1"/><circle cx="777.8" cy="1719.3" r="3.1"/><circle cx="782.5" cy="1717.6" r="3.1"/><circle cx="764.4" cy="1720.6" r="3.1"/><circle cx="770.3" cy="1722.3" r="3.1"/><circle cx="773" cy="1722.4" r="3.1"/><circle cx="778.9" cy="1720.9" r="3.1"/><circle cx="781.3" cy="1720.8" r="3.1"/><circle cx="766.7" cy="1726.9" r="3.1"/><circle cx="770.9" cy="1726.2" r="3.1"/><circle cx="776.9" cy="1725.3" r="3.1"/><circle cx="779.9" cy="1726.8" r="3.1"/><circle cx="768.4" cy="1728.3" r="3.1"/><circle cx="771.6" cy="1728.7" r="3.1"/><circle cx="776.6" cy="1727.8" r="3.1"/><circle cx="781" cy="1728.9" r="3.1"/><circle cx="767.6" cy="1733.6" r="3.1"/><circle cx="770.8" cy="1732.1" r="3.1"/><circle cx="775.9" cy="1733.7" r="3.1"/><circle cx="780.2" cy="1732.8" r="3.1"/><circle cx="767.5" cy="1737.6" r="3.1"/><circle cx="771.2" cy="1736.1" r="3.1"/><circle cx="776.4" cy="1735.4" r="3.1"/><circle cx="780.3" cy="1737" r="3.1"/><circle cx="770" cy="1739" r="3.1"/><circle cx="773.6" cy="1740.5" r="3.1"/><circle cx="777.3" cy="1740.7" r="3.1"/><circle cx="770.4" cy="1743.6" r="3.1"/><circle cx="772.6" cy="1742.2" r="3.1"/><circle cx="778" cy="1743.9" r="3.1"/><circle cx="769" cy="1746.4" r="3.1"/><circle cx="774.5" cy="1747.3" r="3.1"/><circle cx="778.8" cy="1747.6" r="3.1"/><circle cx="770.1" cy="1750.5" r="3.1"/><circle cx="774.7" cy="1750.3" r="3.1"/><circle cx="778.2" cy="1750" r="3.1"/><circle cx="768.7" cy="1755.8" r="3.1"/><circle cx="773.8" cy="1755.4" r="3.1"/><circle cx="776.9" cy="1754.2" r="3.1"/><circle cx="771.2" cy="1757.6" r="3.1"/><circle cx="776.3" cy="1757.6" r="3.1"/><circle cx="771.5" cy="1762.4" r="3.1"/><circle cx="775.4" cy="1762.3" r="3.1"/><circle cx="772.5" cy="1764.1" r="3.1"/><circle cx="776.3" cy="1765.9" r="3.1"/><circle cx="772.9" cy="1770.2" r="3.1"/><circle cx="774.6" cy="1771.8" r="3.1"/><circle cx="773.3" cy="1775.7" r="3.1"/><circle cx="773.2" cy="1778.4" r="3.1"/><circle cx="774.3" cy="1783.9" r="3.1"/></g><line x1="773.7" y1="1527" x2="773.7" y2="1784.3" stroke="#231f20" stroke-width="1.2"/><rect x="769.5" y="1625" width="8.4" height="75.6" fill="none" stroke="#231f20" stroke-width="1.2"/><line x1="769.5" y1="1665" x2="777.9" y2="1665" stroke="#231f20" stroke-width="2.6"/>
<rect x="508.3" y="1475.1" width="308.8" height="373.8" fill="none" stroke="#231f20" stroke-width="1.2"/><line x1="500.3" y1="1486.2" x2="508.3" y2="1486.2" stroke="#231f20" stroke-width="1.1"/><text x="461.8" y="1494" font-size="21.7" stroke="#fff" stroke-width="0.3" textLength="25" lengthAdjust="spacingAndGlyphs">12</text><line x1="500.3" y1="1578.6" x2="508.3" y2="1578.6" stroke="#231f20" stroke-width="1.1"/><text x="472.1" y="1586.4" font-size="21.7" stroke="#fff" stroke-width="0.3" textLength="14.7" lengthAdjust="spacingAndGlyphs">8</text><line x1="500.3" y1="1671" x2="508.3" y2="1671" stroke="#231f20" stroke-width="1.1"/><text x="472.7" y="1678.8" font-size="21.7" stroke="#fff" stroke-width="0.3" textLength="13.6" lengthAdjust="spacingAndGlyphs">4</text><line x1="500.3" y1="1763.4" x2="508.3" y2="1763.4" stroke="#231f20" stroke-width="1.1"/><text x="472.3" y="1771.2" font-size="21.7" stroke="#fff" stroke-width="0.3" textLength="14.3" lengthAdjust="spacingAndGlyphs">0</text>
<text transform="translate(574.9 1874.9) rotate(-45)" x="-99.3" y="0" font-size="26.5" stroke="#fff" stroke-width="0.3" textLength="99.3" lengthAdjust="spacingAndGlyphs">Healthy</text><text transform="translate(654.5 1874.9) rotate(-45)" x="-140.4" y="0" font-size="26.5" stroke="#fff" stroke-width="0.3" textLength="141.6" lengthAdjust="spacingAndGlyphs">Nonsevere</text><text transform="translate(720.8 1874.9) rotate(-45)" x="-91.5" y="0" font-size="26.5" stroke="#fff" stroke-width="0.3" textLength="92.8" lengthAdjust="spacingAndGlyphs">Severe</text><text transform="translate(790.7 1874.9) rotate(-45)" x="-63.3" y="0" font-size="26.5" stroke="#fff" stroke-width="0.3" textLength="65.1" lengthAdjust="spacingAndGlyphs">Fatal</text>
</g>
<g id="panel-f">
<text x="860.2" y="1424.9" font-size="38" font-weight="700" stroke="#231f20" stroke-width="0.9" stroke-linejoin="round" textLength="14.8" lengthAdjust="spacingAndGlyphs">f</text>
<text x="1001.9" y="1424.3" font-size="27" stroke="#fff" stroke-width="0.3" textLength="284.8" lengthAdjust="spacingAndGlyphs">Myeloid dysregulation</text>
<text x="1109.5" y="1457.1" font-size="27" stroke="#fff" stroke-width="0.3" textLength="71.4" lengthAdjust="spacingAndGlyphs">score</text>
<text x="1339.7" y="1424.3" font-size="27" stroke="#fff" stroke-width="0.3" textLength="309.9" lengthAdjust="spacingAndGlyphs">Lymphoid dysregulation</text>
<text x="1459.5" y="1457.1" font-size="27" stroke="#fff" stroke-width="0.3" textLength="71.4" lengthAdjust="spacingAndGlyphs">score</text>
<text x="860.9" y="1497.1" font-size="27" stroke="#fff" stroke-width="0.3" textLength="133" lengthAdjust="spacingAndGlyphs">Acutelines</text>
<text x="860.9" y="1550" font-size="27" stroke="#fff" stroke-width="0.3" textLength="147.5" lengthAdjust="spacingAndGlyphs">Amsterdam</text>
<text x="859.5" y="1602.3" font-size="27" stroke="#fff" stroke-width="0.3" textLength="102.4" lengthAdjust="spacingAndGlyphs">CCHMC</text>
<text x="859.5" y="1654.3" font-size="27" stroke="#fff" stroke-width="0.3" textLength="97.8" lengthAdjust="spacingAndGlyphs">Charles</text>
<text x="859.7" y="1691.4" font-size="27" stroke="#fff" stroke-width="0.3" textLength="77.2" lengthAdjust="spacingAndGlyphs">SAVE-</text>
<text x="858.8" y="1723.7" font-size="27" stroke="#fff" stroke-width="0.3" textLength="78.9" lengthAdjust="spacingAndGlyphs">MORE</text>
<text x="859.6" y="1759.4" font-size="27" stroke="#fff" stroke-width="0.3" textLength="110.8" lengthAdjust="spacingAndGlyphs">Stanford</text>
<text x="858.9" y="1812.9" font-size="27" stroke="#fff" stroke-width="0.3" textLength="49.8" lengthAdjust="spacingAndGlyphs">UFL</text>
<text x="860.9" y="1864.3" font-size="27" stroke="#fff" stroke-width="0.3" textLength="93.7" lengthAdjust="spacingAndGlyphs">VICTAS</text>
<text x="859.6" y="1917.7" font-size="27" stroke="#fff" stroke-width="0.3" textLength="120.3" lengthAdjust="spacingAndGlyphs">Summary</text>
<line x1="1032.9" y1="1462.9" x2="1032.9" y2="1935.7" stroke="#e0e3e4" stroke-width="2.8"/>
<line x1="1053.4" y1="1489.4" x2="1113.4" y2="1489.4" stroke="#231f20" stroke-width="2"/>
<rect x="1078.9" y="1485.4" width="8" height="8" fill="#231f20"/>
<line x1="1043.4" y1="1542" x2="1084.9" y2="1542" stroke="#231f20" stroke-width="2"/>
<rect x="1059" y="1537" width="10" height="10" fill="#231f20"/>
<line x1="1050.9" y1="1594.3" x2="1161.4" y2="1594.3" stroke="#231f20" stroke-width="2"/>
<rect x="1101.1" y="1590.8" width="7" height="7" fill="#231f20"/>
<line x1="1012.9" y1="1647.1" x2="1272" y2="1647.1" stroke="#231f20" stroke-width="2"/>
<rect x="1119" y="1644.1" width="6" height="6" fill="#231f20"/>
<line x1="1007.1" y1="1699.4" x2="1122.9" y2="1699.4" stroke="#231f20" stroke-width="2"/>
<rect x="1063.4" y="1695.9" width="7" height="7" fill="#231f20"/>
<line x1="1048" y1="1752" x2="1104.9" y2="1752" stroke="#231f20" stroke-width="2"/>
<rect x="1071.5" y="1747.8" width="8.5" height="8.5" fill="#231f20"/>
<line x1="1007.7" y1="1804.6" x2="1095.7" y2="1804.6" stroke="#231f20" stroke-width="2"/>
<rect x="1049.6" y="1801.1" width="7" height="7" fill="#231f20"/>
<line x1="1041.7" y1="1857.1" x2="1118.9" y2="1857.1" stroke="#231f20" stroke-width="2"/>
<rect x="1075.2" y="1853.3" width="7.5" height="7.5" fill="#231f20"/>
<path d="M1060.6 1885.7L1069.6 1910.3L1060.6 1934.9L1051.6 1910.3Z" fill="#231f20"/>
<line x1="1004.9" y1="1935.7" x2="1284.9" y2="1935.7" stroke="#414042" stroke-width="1.2"/>
<line x1="1032.9" y1="1935.7" x2="1032.9" y2="1946.8" stroke="#231f20" stroke-width="1.2"/>
<text x="1025.5" y="1975.4" font-size="23.5" stroke="#fff" stroke-width="0.3" textLength="14.8" lengthAdjust="spacingAndGlyphs">0</text>
<line x1="1088.8" y1="1935.7" x2="1088.8" y2="1946.8" stroke="#231f20" stroke-width="1.2"/>
<text x="1083.4" y="1975.4" font-size="23.5" stroke="#fff" stroke-width="0.3" textLength="10.4" lengthAdjust="spacingAndGlyphs">1</text>
<line x1="1144.8" y1="1935.7" x2="1144.8" y2="1946.8" stroke="#231f20" stroke-width="1.2"/>
<text x="1136.9" y="1975.4" font-size="23.5" stroke="#fff" stroke-width="0.3" textLength="15.6" lengthAdjust="spacingAndGlyphs">2</text>
<line x1="1200.7" y1="1935.7" x2="1200.7" y2="1946.8" stroke="#231f20" stroke-width="1.2"/>
<text x="1193.3" y="1975.4" font-size="23.5" stroke="#fff" stroke-width="0.3" textLength="14.9" lengthAdjust="spacingAndGlyphs">3</text>
<line x1="1256.6" y1="1935.7" x2="1256.6" y2="1946.8" stroke="#231f20" stroke-width="1.2"/>
<text x="1249.7" y="1975.4" font-size="23.5" stroke="#fff" stroke-width="0.3" textLength="14.1" lengthAdjust="spacingAndGlyphs">4</text>
<line x1="1541.6" y1="1462.9" x2="1541.6" y2="1935.7" stroke="#e0e3e4" stroke-width="2.8"/>
<line x1="1540.7" y1="1489.4" x2="1588.4" y2="1489.4" stroke="#231f20" stroke-width="2"/>
<rect x="1559.7" y="1484.7" width="9.5" height="9.5" fill="#231f20"/>
<line x1="1575.9" y1="1542" x2="1619.9" y2="1542" stroke="#231f20" stroke-width="2"/>
<rect x="1592.6" y="1537" width="10" height="10" fill="#231f20"/>
<line x1="1505.6" y1="1594.3" x2="1602.7" y2="1594.3" stroke="#231f20" stroke-width="2"/>
<rect x="1551.2" y="1590.8" width="7" height="7" fill="#231f20"/>
<line x1="1360.1" y1="1647.1" x2="1590.7" y2="1647.1" stroke="#231f20" stroke-width="2"/>
<rect x="1489.1" y="1644.1" width="6" height="6" fill="#231f20"/>
<line x1="1527.9" y1="1699.4" x2="1624.7" y2="1699.4" stroke="#231f20" stroke-width="2"/>
<rect x="1576.3" y="1695.7" width="7.5" height="7.5" fill="#231f20"/>
<line x1="1535" y1="1752" x2="1589.6" y2="1752" stroke="#231f20" stroke-width="2"/>
<rect x="1557.6" y="1747.5" width="9" height="9" fill="#231f20"/>
<line x1="1519.9" y1="1804.6" x2="1617.9" y2="1804.6" stroke="#231f20" stroke-width="2"/>
<rect x="1564.2" y="1800.8" width="7.5" height="7.5" fill="#231f20"/>
<line x1="1524.4" y1="1857.1" x2="1591" y2="1857.1" stroke="#231f20" stroke-width="2"/>
<rect x="1553.6" y="1853.1" width="8" height="8" fill="#231f20"/>
<path d="M1581.9 1885.7L1591.8 1910.3L1581.9 1934.9L1572 1910.3Z" fill="#231f20"/>
<line x1="1355" y1="1935.7" x2="1635.6" y2="1935.7" stroke="#414042" stroke-width="1.2"/>
<line x1="1355" y1="1935.7" x2="1355" y2="1946.8" stroke="#231f20" stroke-width="1.2"/>
<text x="1340.9" y="1975.4" font-size="23.5" stroke="#fff" stroke-width="0.3" textLength="28" lengthAdjust="spacingAndGlyphs">−3</text>
<line x1="1417.2" y1="1935.7" x2="1417.2" y2="1946.8" stroke="#231f20" stroke-width="1.2"/>
<text x="1403.1" y="1975.4" font-size="23.5" stroke="#fff" stroke-width="0.3" textLength="28.1" lengthAdjust="spacingAndGlyphs">−2</text>
<line x1="1479.4" y1="1935.7" x2="1479.4" y2="1946.8" stroke="#231f20" stroke-width="1.2"/>
<text x="1467.9" y="1975.4" font-size="23.5" stroke="#fff" stroke-width="0.3" textLength="22.9" lengthAdjust="spacingAndGlyphs">−1</text>
<line x1="1541.6" y1="1935.7" x2="1541.6" y2="1946.8" stroke="#231f20" stroke-width="1.2"/>
<text x="1534.2" y="1975.4" font-size="23.5" stroke="#fff" stroke-width="0.3" textLength="14.8" lengthAdjust="spacingAndGlyphs">0</text>
<line x1="1603.8" y1="1935.7" x2="1603.8" y2="1946.8" stroke="#231f20" stroke-width="1.2"/>
<text x="1598.4" y="1975.4" font-size="23.5" stroke="#fff" stroke-width="0.3" textLength="10.4" lengthAdjust="spacingAndGlyphs">1</text>
<text x="1188.4" y="2010.2" font-size="27" stroke="#fff" stroke-width="0.3" textLength="286.5" lengthAdjust="spacingAndGlyphs">log(OR) 30-d mortality</text>
</g>
<g id="panel-g">
<text x="6.8" y="2102.9" font-size="38" font-weight="700" stroke="#231f20" stroke-width="0.9" stroke-linejoin="round" textLength="27" lengthAdjust="spacingAndGlyphs">g</text>
<path d="M131.4 2146.3 L131.4 2144.3 L135.4 2144.3 L139.4 2144.3 L143.4 2144.3 L147.4 2144.3 L151.4 2144.3 L155.4 2144.2 L159.4 2144.2 L163.4 2144.2 L167.4 2144.2 L171.4 2144.1 L175.4 2144.1 L179.4 2144 L183.4 2144 L187.4 2144 L191.4 2143.9 L195.4 2143.9 L199.4 2143.8 L203.4 2143.7 L207.4 2143.7 L211.4 2143.5 L215.4 2143.4 L219.4 2143.2 L223.4 2143 L227.3 2142.7 L231.3 2142.4 L235.3 2142.1 L239.3 2141.8 L243.3 2141.4 L247.3 2140.8 L251.3 2139.9 L255.3 2138.6 L259.3 2137.2 L263.3 2135.4 L267.3 2133.3 L271.3 2129.8 L275.3 2125 L279.3 2119.7 L283.3 2114.3 L287.3 2109.5 L291.3 2104.6 L295.3 2099.5 L299.3 2094.5 L303.3 2089.8 L307.3 2085.6 L311.3 2081.8 L315.3 2078.3 L319.3 2075.2 L323.3 2072.7 L327.3 2070.6 L331.3 2069.2 L335.3 2068.3 L339.3 2068 L343.3 2069.6 L347.3 2072.1 L351.3 2075.6 L355.3 2078.9 L359.3 2082 L363.3 2084.5 L367.3 2086.2 L371.3 2087.6 L375.3 2089 L379.3 2090.6 L383.3 2092.6 L387.3 2095.2 L391.3 2097.9 L395.3 2100.9 L399.3 2103.8 L403.3 2106.8 L407.3 2110.2 L411.2 2113.5 L415.2 2116.2 L419.2 2118 L423.2 2119.3 L427.2 2120.4 L431.2 2121.4 L435.2 2122.5 L439.2 2124 L443.2 2126.5 L447.2 2129.4 L451.2 2130.7 L455.2 2131.7 L459.2 2132.5 L463.2 2133.2 L467.2 2133.8 L471.2 2134.3 L475.2 2134.8 L479.2 2135.2 L483.2 2135.7 L487.2 2136.1 L491.2 2136.6 L495.2 2137.1 L499.2 2137.6 L503.2 2138.1 L507.2 2138.6 L511.2 2139 L515.2 2139.5 L519.2 2139.9 L523.2 2140.2 L527.2 2140.5 L531.2 2140.7 L535.2 2141 L539.2 2141.2 L543.2 2141.4 L547.2 2141.6 L551.2 2141.7 L555.2 2141.9 L559.2 2142.1 L563.2 2142.2 L567.2 2142.4 L571.2 2142.5 L575.2 2142.6 L579.2 2142.7 L583.2 2142.8 L587.2 2142.9 L591.2 2143 L595.1 2143.1 L599.1 2143.2 L603.1 2143.2 L607.1 2143.3 L611.1 2143.4 L615.1 2143.5 L619.1 2143.6 L623.1 2143.6 L627.1 2143.7 L631.1 2143.8 L635.1 2143.8 L639.1 2143.9 L643.1 2144 L647.1 2144 L651.1 2144.1 L655.1 2144.1 L659.1 2144.2 L663.1 2144.2 L667.1 2144.2 L671.1 2144.2 L675.1 2144.3 L679.1 2144.3 L683.1 2144.3 L687.1 2144.3 L687.1 2146.3Z" fill="#fff0dd" fill-opacity="1.0"/>
<path d="M131.4 2146.3 L131.4 2144.3 L135.4 2144.3 L139.4 2144.3 L143.4 2144.3 L147.4 2144.3 L151.4 2144.3 L155.4 2144.3 L159.4 2144.3 L163.4 2144.2 L167.4 2144.2 L171.4 2144.2 L175.4 2144.2 L179.4 2144.2 L183.4 2144.1 L187.4 2144.1 L191.4 2144.1 L195.4 2144 L199.4 2144 L203.4 2143.9 L207.4 2143.8 L211.4 2143.6 L215.4 2143.4 L219.4 2143.2 L223.4 2142.9 L227.3 2142.7 L231.3 2142.4 L235.3 2142.2 L239.3 2142 L243.3 2141.7 L247.3 2141.5 L251.3 2141.2 L255.3 2140.8 L259.3 2140.3 L263.3 2139.6 L267.3 2138.7 L271.3 2137.6 L275.3 2136.3 L279.3 2135 L283.3 2133.7 L287.3 2132.3 L291.3 2130.9 L295.3 2129.2 L299.3 2127.5 L303.3 2125.6 L307.3 2123.6 L311.3 2121.6 L315.3 2119.5 L319.3 2117 L323.3 2114.2 L327.3 2111.3 L331.3 2108.4 L335.3 2105.7 L339.3 2103.2 L343.3 2101.2 L347.3 2099.6 L351.3 2098.2 L355.3 2096.8 L359.3 2095.6 L363.3 2094.4 L367.3 2093.3 L371.3 2092 L375.3 2090.7 L379.3 2089.2 L383.3 2087.7 L387.3 2086.4 L391.3 2085.5 L395.3 2085 L399.3 2084.8 L403.3 2084.7 L407.3 2084.6 L411.2 2084.7 L415.2 2085.1 L419.2 2085.6 L423.2 2086.4 L427.2 2087.8 L431.2 2089.7 L435.2 2091.8 L439.2 2093.9 L443.2 2096.1 L447.2 2098.5 L451.2 2101.2 L455.2 2103.8 L459.2 2106.4 L463.2 2108.8 L467.2 2111 L471.2 2113.1 L475.2 2115.1 L479.2 2117.1 L483.2 2119 L487.2 2120.9 L491.2 2122.8 L495.2 2124.8 L499.2 2126.8 L503.2 2128.8 L507.2 2130.8 L511.2 2132.6 L515.2 2134.2 L519.2 2135.5 L523.2 2136.5 L527.2 2137.4 L531.2 2138.2 L535.2 2138.8 L539.2 2139.3 L543.2 2139.7 L547.2 2140 L551.2 2140.3 L555.2 2140.6 L559.2 2140.9 L563.2 2141.1 L567.2 2141.3 L571.2 2141.5 L575.2 2141.7 L579.2 2141.9 L583.2 2142 L587.2 2142.2 L591.2 2142.3 L595.1 2142.4 L599.1 2142.5 L603.1 2142.7 L607.1 2142.8 L611.1 2142.9 L615.1 2143 L619.1 2143.2 L623.1 2143.3 L627.1 2143.4 L631.1 2143.5 L635.1 2143.6 L639.1 2143.7 L643.1 2143.8 L647.1 2143.9 L651.1 2143.9 L655.1 2144 L659.1 2144.1 L663.1 2144.1 L667.1 2144.2 L671.1 2144.2 L675.1 2144.3 L679.1 2144.3 L683.1 2144.3 L687.1 2144.3 L687.1 2146.3Z" fill="#6d6f73" fill-opacity="0.74"/>
<path d="M131.4 2144.3 L135.4 2144.3 L139.4 2144.3 L143.4 2144.3 L147.4 2144.3 L151.4 2144.3 L155.4 2144.2 L159.4 2144.2 L163.4 2144.2 L167.4 2144.2 L171.4 2144.1 L175.4 2144.1 L179.4 2144 L183.4 2144 L187.4 2144 L191.4 2143.9 L195.4 2143.9 L199.4 2143.8 L203.4 2143.7 L207.4 2143.7 L211.4 2143.5 L215.4 2143.4 L219.4 2143.2 L223.4 2143 L227.3 2142.7 L231.3 2142.4 L235.3 2142.1 L239.3 2141.8 L243.3 2141.4 L247.3 2140.8 L251.3 2139.9 L255.3 2138.6 L259.3 2137.2 L263.3 2135.4 L267.3 2133.3 L271.3 2129.8 L275.3 2125 L279.3 2119.7 L283.3 2114.3 L287.3 2109.5 L291.3 2104.6 L295.3 2099.5 L299.3 2094.5 L303.3 2089.8 L307.3 2085.6 L311.3 2081.8 L315.3 2078.3 L319.3 2075.2 L323.3 2072.7 L327.3 2070.6 L331.3 2069.2 L335.3 2068.3 L339.3 2068 L343.3 2069.6 L347.3 2072.1 L351.3 2075.6 L355.3 2078.9 L359.3 2082 L363.3 2084.5 L367.3 2086.2 L371.3 2087.6 L375.3 2089 L379.3 2090.6 L383.3 2092.6 L387.3 2095.2 L391.3 2097.9 L395.3 2100.9 L399.3 2103.8 L403.3 2106.8 L407.3 2110.2 L411.2 2113.5 L415.2 2116.2 L419.2 2118 L423.2 2119.3 L427.2 2120.4 L431.2 2121.4 L435.2 2122.5 L439.2 2124 L443.2 2126.5 L447.2 2129.4 L451.2 2130.7 L455.2 2131.7 L459.2 2132.5 L463.2 2133.2 L467.2 2133.8 L471.2 2134.3 L475.2 2134.8 L479.2 2135.2 L483.2 2135.7 L487.2 2136.1 L491.2 2136.6 L495.2 2137.1 L499.2 2137.6 L503.2 2138.1 L507.2 2138.6 L511.2 2139 L515.2 2139.5 L519.2 2139.9 L523.2 2140.2 L527.2 2140.5 L531.2 2140.7 L535.2 2141 L539.2 2141.2 L543.2 2141.4 L547.2 2141.6 L551.2 2141.7 L555.2 2141.9 L559.2 2142.1 L563.2 2142.2 L567.2 2142.4 L571.2 2142.5 L575.2 2142.6 L579.2 2142.7 L583.2 2142.8 L587.2 2142.9 L591.2 2143 L595.1 2143.1 L599.1 2143.2 L603.1 2143.2 L607.1 2143.3 L611.1 2143.4 L615.1 2143.5 L619.1 2143.6 L623.1 2143.6 L627.1 2143.7 L631.1 2143.8 L635.1 2143.8 L639.1 2143.9 L643.1 2144 L647.1 2144 L651.1 2144.1 L655.1 2144.1 L659.1 2144.2 L663.1 2144.2 L667.1 2144.2 L671.1 2144.2 L675.1 2144.3 L679.1 2144.3 L683.1 2144.3 L687.1 2144.3" fill="none" stroke="#231f20" stroke-width="3.4" stroke-linejoin="round" stroke-linecap="butt"/>
<path d="M131.4 2144.3 L135.4 2144.3 L139.4 2144.3 L143.4 2144.3 L147.4 2144.3 L151.4 2144.3 L155.4 2144.3 L159.4 2144.3 L163.4 2144.2 L167.4 2144.2 L171.4 2144.2 L175.4 2144.2 L179.4 2144.2 L183.4 2144.1 L187.4 2144.1 L191.4 2144.1 L195.4 2144 L199.4 2144 L203.4 2143.9 L207.4 2143.8 L211.4 2143.6 L215.4 2143.4 L219.4 2143.2 L223.4 2142.9 L227.3 2142.7 L231.3 2142.4 L235.3 2142.2 L239.3 2142 L243.3 2141.7 L247.3 2141.5 L251.3 2141.2 L255.3 2140.8 L259.3 2140.3 L263.3 2139.6 L267.3 2138.7 L271.3 2137.6 L275.3 2136.3 L279.3 2135 L283.3 2133.7 L287.3 2132.3 L291.3 2130.9 L295.3 2129.2 L299.3 2127.5 L303.3 2125.6 L307.3 2123.6 L311.3 2121.6 L315.3 2119.5 L319.3 2117 L323.3 2114.2 L327.3 2111.3 L331.3 2108.4 L335.3 2105.7 L339.3 2103.2 L343.3 2101.2 L347.3 2099.6 L351.3 2098.2 L355.3 2096.8 L359.3 2095.6 L363.3 2094.4 L367.3 2093.3 L371.3 2092 L375.3 2090.7 L379.3 2089.2 L383.3 2087.7 L387.3 2086.4 L391.3 2085.5 L395.3 2085 L399.3 2084.8 L403.3 2084.7 L407.3 2084.6 L411.2 2084.7 L415.2 2085.1 L419.2 2085.6 L423.2 2086.4 L427.2 2087.8 L431.2 2089.7 L435.2 2091.8 L439.2 2093.9 L443.2 2096.1 L447.2 2098.5 L451.2 2101.2 L455.2 2103.8 L459.2 2106.4 L463.2 2108.8 L467.2 2111 L471.2 2113.1 L475.2 2115.1 L479.2 2117.1 L483.2 2119 L487.2 2120.9 L491.2 2122.8 L495.2 2124.8 L499.2 2126.8 L503.2 2128.8 L507.2 2130.8 L511.2 2132.6 L515.2 2134.2 L519.2 2135.5 L523.2 2136.5 L527.2 2137.4 L531.2 2138.2 L535.2 2138.8 L539.2 2139.3 L543.2 2139.7 L547.2 2140 L551.2 2140.3 L555.2 2140.6 L559.2 2140.9 L563.2 2141.1 L567.2 2141.3 L571.2 2141.5 L575.2 2141.7 L579.2 2141.9 L583.2 2142 L587.2 2142.2 L591.2 2142.3 L595.1 2142.4 L599.1 2142.5 L603.1 2142.7 L607.1 2142.8 L611.1 2142.9 L615.1 2143 L619.1 2143.2 L623.1 2143.3 L627.1 2143.4 L631.1 2143.5 L635.1 2143.6 L639.1 2143.7 L643.1 2143.8 L647.1 2143.9 L651.1 2143.9 L655.1 2144 L659.1 2144.1 L663.1 2144.1 L667.1 2144.2 L671.1 2144.2 L675.1 2144.3 L679.1 2144.3 L683.1 2144.3 L687.1 2144.3" fill="none" stroke="#231f20" stroke-width="3.4" stroke-linejoin="round" stroke-linecap="butt"/>
<path d="M719.5 2167 L721.5 2167 L721.5 2169.7 L721.5 2172.4 L721.5 2175.1 L721.5 2177.8 L721.5 2180.5 L721.5 2183.2 L721.6 2185.9 L721.8 2188.6 L722.1 2191.3 L722.4 2194 L722.6 2196.7 L722.9 2199.4 L723.2 2202.1 L723.6 2204.8 L723.9 2207.5 L724.2 2210.2 L724.6 2212.9 L725 2215.6 L725.4 2218.3 L725.7 2221 L726.1 2223.7 L726.5 2226.4 L726.9 2229.1 L727.4 2231.9 L727.8 2234.6 L728.2 2237.3 L728.6 2240 L729 2242.7 L729.4 2245.4 L729.7 2248.1 L730.1 2250.8 L730.5 2253.5 L730.8 2256.2 L731.2 2258.9 L731.6 2261.6 L732 2264.3 L732.4 2267 L732.8 2269.7 L733.3 2272.4 L733.9 2275.1 L734.5 2277.8 L735.1 2280.5 L735.8 2283.2 L736.6 2285.9 L737.7 2288.6 L738.9 2291.3 L740.3 2294 L741.8 2296.7 L743.5 2299.4 L745.2 2302.1 L747 2304.8 L748.8 2307.5 L750.6 2310.2 L752.4 2312.9 L754.4 2315.6 L756.4 2318.3 L758.6 2321 L761 2323.7 L763.5 2326.4 L766.2 2329.1 L769.2 2331.8 L772.6 2334.5 L776.2 2337.2 L779.7 2339.9 L782.9 2342.6 L786.1 2345.3 L789.1 2348 L792.1 2350.7 L795.1 2353.4 L798 2356.2 L800.8 2358.9 L803.7 2361.6 L807 2364.3 L810 2367 L812.3 2369.7 L813.3 2372.4 L814.1 2375.1 L814.6 2377.8 L814.9 2380.5 L815 2383.2 L814.7 2385.9 L814.4 2388.6 L814.3 2391.3 L814.7 2394 L815.6 2396.7 L816.7 2399.4 L818.2 2402.1 L820.3 2404.8 L822.5 2407.5 L824.7 2410.2 L826.9 2412.9 L828.8 2415.6 L830.1 2418.3 L831.2 2421 L831.3 2423.7 L830.1 2426.4 L828.4 2429.1 L826.2 2431.8 L823.2 2434.5 L819.5 2437.2 L814.5 2439.9 L808.2 2442.6 L801 2445.3 L793.6 2448 L786.4 2450.7 L779.3 2453.4 L771.8 2456.1 L764.3 2458.8 L757.2 2461.5 L750.9 2464.2 L745.6 2466.9 L740.4 2469.6 L735.5 2472.3 L731.4 2475 L728.3 2477.7 L726.7 2480.5 L725.6 2483.2 L724.7 2485.9 L723.9 2488.6 L723.2 2491.3 L722.7 2494 L722.3 2496.7 L722 2499.4 L721.8 2502.1 L721.6 2504.8 L721.5 2507.5 L721.5 2510.2 L721.5 2512.9 L721.5 2515.6 L721.5 2518.3 L721.5 2521 L721.5 2523.7 L721.5 2526.4 L721.5 2529.1 L721.5 2531.8 L721.5 2534.5 L721.5 2537.2 L721.5 2539.9 L721.5 2542.6 L719.5 2542.6Z" fill="#fff0dd" fill-opacity="1.0"/>
<path d="M719.5 2167 L721.5 2167 L721.5 2169.7 L721.5 2172.4 L721.5 2175.1 L721.5 2177.8 L721.6 2180.5 L722 2183.2 L722.4 2185.9 L722.8 2188.6 L723.2 2191.3 L723.6 2194 L724 2196.7 L724.5 2199.4 L725 2202.1 L725.5 2204.8 L726.1 2207.5 L726.7 2210.2 L727.4 2212.9 L728.3 2215.6 L729.2 2218.3 L730.3 2221 L731.5 2223.7 L732.7 2226.4 L734 2229.1 L735.5 2231.9 L736.9 2234.6 L738.4 2237.3 L740 2240 L741.6 2242.7 L743.5 2245.4 L745.5 2248.1 L747.6 2250.8 L749.8 2253.5 L752.1 2256.2 L754.4 2258.9 L756.8 2261.6 L759.2 2264.3 L761.5 2267 L763.8 2269.7 L766.2 2272.4 L768.6 2275.1 L771 2277.8 L773.5 2280.5 L776 2283.2 L778.5 2285.9 L781 2288.6 L783.5 2291.3 L785.9 2294 L788.3 2296.7 L790.8 2299.4 L793.3 2302.1 L795.8 2304.8 L798.4 2307.5 L801 2310.2 L803.5 2312.9 L805.8 2315.6 L808 2318.3 L810 2321 L811.8 2323.7 L813.3 2326.4 L814.6 2329.1 L815.7 2331.8 L816.8 2334.5 L817.7 2337.2 L818.5 2339.9 L819.2 2342.6 L820 2345.3 L820.5 2348 L820.6 2350.7 L820.2 2353.4 L819.4 2356.2 L818.4 2358.9 L817.4 2361.6 L816 2364.3 L814.4 2367 L812.5 2369.7 L810.2 2372.4 L807 2375.1 L803.2 2377.8 L798.9 2380.5 L794.5 2383.2 L790.1 2385.9 L786 2388.6 L782.6 2391.3 L779.5 2394 L776.6 2396.7 L773.8 2399.4 L771.2 2402.1 L768.6 2404.8 L766.1 2407.5 L763.6 2410.2 L761 2412.9 L758.5 2415.6 L755.8 2418.3 L753 2421 L750.2 2423.7 L747.5 2426.4 L744.8 2429.1 L742.2 2431.8 L739.9 2434.5 L737.7 2437.2 L735.8 2439.9 L734.3 2442.6 L733 2445.3 L731.7 2448 L730.5 2450.7 L729.4 2453.4 L728.4 2456.1 L727.5 2458.8 L726.6 2461.5 L725.9 2464.2 L725.2 2466.9 L724.6 2469.6 L724 2472.3 L723.5 2475 L723.1 2477.7 L722.6 2480.5 L722.2 2483.2 L721.8 2485.9 L721.5 2488.6 L721.5 2491.3 L721.5 2494 L721.5 2496.7 L721.5 2499.4 L721.5 2502.1 L721.5 2504.8 L721.5 2507.5 L721.5 2510.2 L721.5 2512.9 L721.5 2515.6 L721.5 2518.3 L721.5 2521 L721.5 2523.7 L721.5 2526.4 L721.5 2529.1 L721.5 2531.8 L721.5 2534.5 L721.5 2537.2 L721.5 2539.9 L721.5 2542.6 L719.5 2542.6Z" fill="#6d6f73" fill-opacity="0.74"/>
<path d="M721.5 2167 L721.5 2169.7 L721.5 2172.4 L721.5 2175.1 L721.5 2177.8 L721.5 2180.5 L721.5 2183.2 L721.6 2185.9 L721.8 2188.6 L722.1 2191.3 L722.4 2194 L722.6 2196.7 L722.9 2199.4 L723.2 2202.1 L723.6 2204.8 L723.9 2207.5 L724.2 2210.2 L724.6 2212.9 L725 2215.6 L725.4 2218.3 L725.7 2221 L726.1 2223.7 L726.5 2226.4 L726.9 2229.1 L727.4 2231.9 L727.8 2234.6 L728.2 2237.3 L728.6 2240 L729 2242.7 L729.4 2245.4 L729.7 2248.1 L730.1 2250.8 L730.5 2253.5 L730.8 2256.2 L731.2 2258.9 L731.6 2261.6 L732 2264.3 L732.4 2267 L732.8 2269.7 L733.3 2272.4 L733.9 2275.1 L734.5 2277.8 L735.1 2280.5 L735.8 2283.2 L736.6 2285.9 L737.7 2288.6 L738.9 2291.3 L740.3 2294 L741.8 2296.7 L743.5 2299.4 L745.2 2302.1 L747 2304.8 L748.8 2307.5 L750.6 2310.2 L752.4 2312.9 L754.4 2315.6 L756.4 2318.3 L758.6 2321 L761 2323.7 L763.5 2326.4 L766.2 2329.1 L769.2 2331.8 L772.6 2334.5 L776.2 2337.2 L779.7 2339.9 L782.9 2342.6 L786.1 2345.3 L789.1 2348 L792.1 2350.7 L795.1 2353.4 L798 2356.2 L800.8 2358.9 L803.7 2361.6 L807 2364.3 L810 2367 L812.3 2369.7 L813.3 2372.4 L814.1 2375.1 L814.6 2377.8 L814.9 2380.5 L815 2383.2 L814.7 2385.9 L814.4 2388.6 L814.3 2391.3 L814.7 2394 L815.6 2396.7 L816.7 2399.4 L818.2 2402.1 L820.3 2404.8 L822.5 2407.5 L824.7 2410.2 L826.9 2412.9 L828.8 2415.6 L830.1 2418.3 L831.2 2421 L831.3 2423.7 L830.1 2426.4 L828.4 2429.1 L826.2 2431.8 L823.2 2434.5 L819.5 2437.2 L814.5 2439.9 L808.2 2442.6 L801 2445.3 L793.6 2448 L786.4 2450.7 L779.3 2453.4 L771.8 2456.1 L764.3 2458.8 L757.2 2461.5 L750.9 2464.2 L745.6 2466.9 L740.4 2469.6 L735.5 2472.3 L731.4 2475 L728.3 2477.7 L726.7 2480.5 L725.6 2483.2 L724.7 2485.9 L723.9 2488.6 L723.2 2491.3 L722.7 2494 L722.3 2496.7 L722 2499.4 L721.8 2502.1 L721.6 2504.8 L721.5 2507.5 L721.5 2510.2 L721.5 2512.9 L721.5 2515.6 L721.5 2518.3 L721.5 2521 L721.5 2523.7 L721.5 2526.4 L721.5 2529.1 L721.5 2531.8 L721.5 2534.5 L721.5 2537.2 L721.5 2539.9 L721.5 2542.6" fill="none" stroke="#231f20" stroke-width="3.4" stroke-linejoin="round" stroke-linecap="butt"/>
<path d="M721.5 2167 L721.5 2169.7 L721.5 2172.4 L721.5 2175.1 L721.5 2177.8 L721.6 2180.5 L722 2183.2 L722.4 2185.9 L722.8 2188.6 L723.2 2191.3 L723.6 2194 L724 2196.7 L724.5 2199.4 L725 2202.1 L725.5 2204.8 L726.1 2207.5 L726.7 2210.2 L727.4 2212.9 L728.3 2215.6 L729.2 2218.3 L730.3 2221 L731.5 2223.7 L732.7 2226.4 L734 2229.1 L735.5 2231.9 L736.9 2234.6 L738.4 2237.3 L740 2240 L741.6 2242.7 L743.5 2245.4 L745.5 2248.1 L747.6 2250.8 L749.8 2253.5 L752.1 2256.2 L754.4 2258.9 L756.8 2261.6 L759.2 2264.3 L761.5 2267 L763.8 2269.7 L766.2 2272.4 L768.6 2275.1 L771 2277.8 L773.5 2280.5 L776 2283.2 L778.5 2285.9 L781 2288.6 L783.5 2291.3 L785.9 2294 L788.3 2296.7 L790.8 2299.4 L793.3 2302.1 L795.8 2304.8 L798.4 2307.5 L801 2310.2 L803.5 2312.9 L805.8 2315.6 L808 2318.3 L810 2321 L811.8 2323.7 L813.3 2326.4 L814.6 2329.1 L815.7 2331.8 L816.8 2334.5 L817.7 2337.2 L818.5 2339.9 L819.2 2342.6 L820 2345.3 L820.5 2348 L820.6 2350.7 L820.2 2353.4 L819.4 2356.2 L818.4 2358.9 L817.4 2361.6 L816 2364.3 L814.4 2367 L812.5 2369.7 L810.2 2372.4 L807 2375.1 L803.2 2377.8 L798.9 2380.5 L794.5 2383.2 L790.1 2385.9 L786 2388.6 L782.6 2391.3 L779.5 2394 L776.6 2396.7 L773.8 2399.4 L771.2 2402.1 L768.6 2404.8 L766.1 2407.5 L763.6 2410.2 L761 2412.9 L758.5 2415.6 L755.8 2418.3 L753 2421 L750.2 2423.7 L747.5 2426.4 L744.8 2429.1 L742.2 2431.8 L739.9 2434.5 L737.7 2437.2 L735.8 2439.9 L734.3 2442.6 L733 2445.3 L731.7 2448 L730.5 2450.7 L729.4 2453.4 L728.4 2456.1 L727.5 2458.8 L726.6 2461.5 L725.9 2464.2 L725.2 2466.9 L724.6 2469.6 L724 2472.3 L723.5 2475 L723.1 2477.7 L722.6 2480.5 L722.2 2483.2 L721.8 2485.9 L721.5 2488.6 L721.5 2491.3 L721.5 2494 L721.5 2496.7 L721.5 2499.4 L721.5 2502.1 L721.5 2504.8 L721.5 2507.5 L721.5 2510.2 L721.5 2512.9 L721.5 2515.6 L721.5 2518.3 L721.5 2521 L721.5 2523.7 L721.5 2526.4 L721.5 2529.1 L721.5 2531.8 L721.5 2534.5 L721.5 2537.2 L721.5 2539.9 L721.5 2542.6" fill="none" stroke="#231f20" stroke-width="3.4" stroke-linejoin="round" stroke-linecap="butt"/>
<rect x="103.9" y="2147.1" width="270.4" height="252.6" fill="#b0a4d0"/><rect x="374.3" y="2147.1" width="340.6" height="252.6" fill="#f47d20"/><rect x="103.9" y="2399.7" width="270.4" height="162.3" fill="#acadae"/><rect x="374.3" y="2399.7" width="340.6" height="162.3" fill="#8dccf0"/>
<line x1="103.9" y1="2399.7" x2="714.9" y2="2399.7" stroke="#231f20" stroke-width="4.2" stroke-dasharray="14.5 16" stroke-dashoffset="-0.9"/>
<line x1="374.3" y1="2147.1" x2="374.3" y2="2562" stroke="#231f20" stroke-width="4.2" stroke-dasharray="14.5 16.1" stroke-dashoffset="-2.3"/>
<path d="M324.5 2347.8h0M426.9 2210.8h0M434.7 2282.1h0M437.6 2307.3h0M476.3 2255.2h0M511.1 2292.2h0M398.7 2226.9h0M498.5 2273.9h0M530.3 2236h0M425.2 2239.9h0M386.1 2351.8h0M391.3 2328.6h0M356.5 2296.4h0M386.8 2375.5h0M367.7 2290.8h0M469.8 2371.4h0M420.9 2348.4h0M399.6 2323.5h0M430.1 2237.5h0M343.7 2415.5h0M437.9 2326.9h0M382.9 2432.4h0M391.8 2385.6h0M285.2 2368.4h0M463.9 2240.2h0M448.6 2347.3h0M283.4 2372.5h0M439.8 2385.3h0M466.8 2320.8h0M425.5 2258.1h0M361.8 2267.6h0M346.4 2321.2h0M414.4 2369.6h0M440.5 2331.2h0M409.3 2311.3h0M511.4 2257.4h0M445.6 2301.9h0M407.9 2281.8h0M576.3 2379.6h0M380.6 2400.3h0M455.4 2378.6h0M250.1 2423.1h0M496.9 2285.1h0M399.8 2277.7h0M425.4 2299.8h0M418.6 2357.8h0M422.9 2343.5h0M373.6 2315.2h0M419.3 2351.6h0M493 2281.6h0M416.6 2318h0M413.8 2264.9h0M462.2 2286.2h0M367.6 2369.1h0M472 2273.4h0M453.8 2252.7h0M476.8 2315.6h0M509.8 2238.4h0M247.5 2443.3h0M499.9 2344.1h0M502.3 2251.1h0M525.3 2261.2h0M397.6 2223h0M368.4 2239.7h0M457.3 2323.1h0M530.3 2368.7h0M334 2283.4h0M473.1 2304.7h0M485.1 2328.3h0M420.3 2287h0M397.8 2367.6h0M415.1 2298.1h0M443.2 2189.6h0M445 2313.7h0M484.1 2349.3h0M391.6 2236.6h0M326.9 2290.5h0M386.4 2307.7h0M358.8 2326.7h0M373 2416.5h0M351.1 2409h0M461.4 2282.2h0M434.5 2292.6h0M501.6 2261.8h0M303.3 2378.2h0M473.9 2367.4h0M352.5 2410.1h0M465.3 2353.4h0M411.8 2444.3h0M466.4 2234.1h0M289.2 2300.2h0M361 2320h0M356.2 2224.4h0M423.7 2341.9h0M386.4 2362.3h0M437.4 2381.7h0M505 2299.9h0M397.4 2253.4h0M433.7 2345.6h0M366.7 2264h0M345.4 2388.3h0M431.6 2256h0M439.4 2266.8h0M378.5 2338.1h0M470.2 2355.9h0M336.3 2223.4h0M465 2213.2h0M380.4 2255.8h0M366.7 2333.6h0M378.2 2356.5h0M421 2232.6h0M418.8 2368.4h0M286.5 2433.9h0M431.3 2233.7h0M395.4 2339.3h0M334.5 2291.5h0M400.8 2273h0M424.7 2343.5h0M430.8 2233.8h0M420.5 2284.1h0M351.9 2379.6h0M483.6 2362.3h0M375.2 2253.3h0M251.1 2432.1h0M491.1 2286.9h0M481.5 2233.7h0M442 2376.9h0M391.7 2280.4h0M323.1 2295.4h0M438.2 2297.6h0M426.4 2360.2h0M476.9 2298.2h0M356 2392.7h0M452 2308.3h0M398.3 2275.7h0M376.4 2250.5h0M465.5 2290.7h0M392.9 2303.9h0M454.2 2219.8h0M419.5 2254h0M365.4 2318.1h0M417.9 2312h0M355.8 2328.9h0M505.7 2391.8h0M402 2304.6h0M412.1 2376.6h0M478.8 2290.6h0M440.5 2341.2h0M432.4 2268.8h0M459.8 2263h0M402.4 2230.5h0M440.6 2219.2h0M337.6 2492.9h0M418.1 2227.7h0M472 2282.1h0M329.1 2305.9h0M426.4 2237.7h0M428.4 2376.5h0M287.6 2443h0M422.3 2259.2h0M381 2365.5h0M563.1 2389h0M325.5 2419.9h0M372.3 2294.5h0M500.6 2385.2h0M402.4 2312h0M297.7 2358h0M350.5 2373.3h0M263 2429h0M457.5 2329.7h0M438 2334.3h0M483.8 2320.9h0M468.8 2354.3h0M478 2301.9h0M396.2 2309.4h0M481.9 2316.9h0M491.9 2305.3h0M413.9 2330.4h0M365.2 2349h0M371.4 2316.7h0M274.6 2421.5h0M410.8 2232.8h0M501 2443h0M461.6 2256.3h0M375.3 2319h0M412.9 2214.3h0M427.9 2264h0M518.7 2333h0M441.2 2332.9h0M411.8 2356.9h0M411.2 2362.2h0M495.1 2318.7h0M356 2387.1h0M366.5 2317.9h0M460.9 2239.7h0M466.3 2354.7h0M453.2 2320.2h0M426 2324.2h0M503.6 2291.6h0M456.2 2332.1h0M367.5 2345.5h0M469.6 2283.6h0M445.4 2336.3h0M369.1 2260h0M414.7 2274.8h0M490.5 2345.2h0M409.6 2254.9h0M411.9 2256.9h0M379.5 2265h0" stroke="#231f20" stroke-width="5.7" stroke-linecap="round" fill="none"/><path d="M327.5 2403.4h0M344.6 2373.5h0M331.5 2463.9h0M277.1 2428.4h0M350.3 2422.4h0M401.6 2353.2h0M393.1 2462.1h0M390.6 2390.9h0M252.3 2464.5h0M382.8 2359.9h0M334.9 2337.9h0M323.9 2419.3h0M311.9 2320.4h0M307.8 2384.6h0M276.8 2431.5h0M345.7 2434.3h0M317.5 2348.3h0M433.3 2402.3h0M353.3 2407.4h0M278.1 2424.4h0M260.7 2491.2h0M397.2 2381.4h0M395.4 2332.8h0M311.1 2395.4h0M307 2450.3h0M299 2460.5h0M349.3 2435.9h0M300.8 2410.1h0M303.5 2417.7h0M321.1 2424.4h0M324.4 2437.8h0M313.5 2448h0M455.7 2348.5h0M389.5 2392h0M399.3 2359.4h0M260.3 2417.5h0M511.9 2288h0M427.3 2303.1h0M420.5 2283.7h0M310 2412.3h0M293.6 2439.3h0M279 2435.6h0M379.4 2380.3h0M333.5 2420.5h0M336.3 2296.8h0M330.9 2341.1h0M418.7 2340.4h0M367.3 2397.6h0M410.3 2305.6h0M324.6 2329h0M307 2397.5h0M315.7 2375.4h0M436 2363.9h0M313 2450.2h0M431.5 2383.9h0M331.9 2411h0M285.7 2385.7h0M336.4 2399.2h0M361.8 2389.8h0M339.3 2459.2h0M289.9 2404.5h0M346.6 2306h0M311.5 2418.4h0M334 2463.3h0M243.5 2433.4h0M338.1 2436.6h0M331 2420.2h0M391 2362.3h0M210.5 2456.2h0M442 2293.7h0M251.5 2445.9h0M453.5 2252.3h0M333.6 2374.1h0M229.9 2469.6h0M321.8 2408h0M338.1 2343.5h0M441.6 2264.6h0M306.9 2393.4h0M451.9 2251.1h0M376.5 2336h0M398.2 2417.4h0M247.8 2467.3h0M388.2 2359.7h0M257.2 2518.2h0M365.4 2417.5h0M335.4 2343.4h0M426.9 2253.4h0M293.9 2362.2h0M330.2 2365.5h0M372.3 2308.8h0M384.5 2379.7h0M274.3 2446.5h0M321 2437h0M284.1 2444.7h0M288.6 2456.6h0M406.1 2303.6h0M339.1 2432.2h0M300.5 2409.1h0M231.5 2431.9h0M416.9 2299.8h0M473.5 2341.3h0M308.8 2334.5h0M310.2 2461.4h0M309.4 2311.2h0M375.3 2342.3h0M378.7 2294.6h0M367.9 2382.1h0M392.6 2382.9h0M327.1 2347.1h0M394.9 2334.2h0M322.1 2356.9h0M372.5 2426.9h0M305.6 2464.1h0M280.4 2431.4h0M321.7 2395.8h0M355.4 2314.6h0M312.8 2361.8h0M318.6 2495.7h0M307.2 2374.8h0M251.6 2479.4h0M339.3 2328.8h0M269.9 2451.8h0M355.3 2334.5h0M185 2485.2h0M361.5 2445.7h0M415.6 2274h0M273.8 2443.6h0M362.5 2399.1h0M282.8 2443.3h0M348.4 2442.6h0M277.9 2469.4h0M295 2421.3h0M273.5 2444.2h0M401.2 2315.9h0M446.7 2276.9h0M260.8 2450.7h0M378.1 2318.5h0M324.8 2407.4h0M256.3 2461.2h0M322.2 2426.6h0M244.6 2432.3h0M441.9 2293.2h0M329.8 2426.7h0M280.8 2458.2h0M404 2365.8h0M342.2 2348.2h0M299 2395.8h0M206.6 2448.4h0M367.9 2381h0M250.6 2444.6h0M264.5 2441.8h0M270.6 2436.1h0M354.7 2415.1h0M397.7 2248.1h0M392.1 2313.7h0M294.2 2453.6h0M360.4 2421.9h0M253.7 2373.2h0M327 2334.5h0M394.3 2457.9h0M377.1 2315h0M375.9 2403.3h0M364.6 2412.6h0M365.6 2445h0M330.8 2421h0M285.5 2414.2h0M336 2416.2h0M291.9 2416.4h0M341.3 2310.9h0M332.7 2407h0M260.6 2435.3h0M291.8 2409.6h0M212.2 2474.8h0M299 2417.2h0M378.5 2434.5h0M325.7 2455.9h0M337 2371h0M325 2472.8h0M383.3 2474.5h0M347.8 2352.1h0M315.2 2456.3h0M357.8 2373.6h0M322.2 2446.6h0M283.1 2460.3h0M368 2447.9h0M308.5 2484.1h0M345.7 2417.4h0M436.9 2360.5h0M378.5 2399.7h0M341.9 2391.8h0M297.8 2358.2h0M260.1 2437.2h0M353 2449h0M272.7 2442.4h0M410.7 2231.1h0M303.2 2383.8h0M375.3 2333.4h0M336.9 2425.2h0M276.9 2423.8h0M392.6 2324.2h0M350 2356.7h0M247.3 2457h0M396.8 2336.7h0M245 2482.6h0M346 2232.6h0M317.4 2448.3h0M354.1 2338.8h0M315.9 2427.4h0M376.6 2401.9h0M308.4 2374.6h0" stroke="#ffe6c8" stroke-width="5.7" stroke-linecap="round" fill="none"/><path d="M440.4 2246.3h0M464.5 2287.9h0M438.5 2366.5h0M533.4 2394.1h0M432.4 2276.7h0M359.4 2428.2h0M432.6 2249.4h0M315.5 2294.5h0M446 2323.6h0M425.9 2270h0M476.7 2290.6h0M433.7 2281.8h0M408 2376.8h0M369.1 2315.8h0M336.4 2359.9h0M358.6 2288.9h0M373.5 2344h0M452.1 2221.6h0M258 2440h0M473.5 2326.2h0M464.1 2256h0M425 2322.3h0M467.6 2321.5h0M264.6 2462.7h0M365.6 2250.5h0M370.2 2375.2h0M436.9 2291.2h0M484.2 2220.3h0M519.7 2274.8h0M336.4 2319.5h0M449.8 2238.8h0M397.6 2260.2h0M432.7 2332.9h0M358.6 2271.4h0M437.9 2199.6h0M430.4 2210.9h0M410.7 2231.8h0M451.3 2299h0M331.5 2377.3h0M369.2 2434.8h0M500.9 2238.6h0M389.9 2171h0M342.4 2441.1h0M440.2 2303.6h0M447.3 2268.2h0M422.2 2345.8h0M373 2217.3h0M380.9 2181.1h0M470.1 2385.1h0M495.7 2404.4h0M455.1 2330.7h0M371.7 2266.8h0M417.3 2317h0M423.7 2351.2h0M430.1 2371.9h0M430.9 2389.2h0M417.1 2305.9h0M487.4 2321.7h0M472 2267.7h0M550 2219.9h0M458.6 2252.2h0M408.5 2299.2h0M456.4 2280.2h0M431.7 2314.4h0M426 2273.8h0M348.6 2390.4h0M419.2 2285.7h0M339.8 2480.8h0M471.2 2256.9h0M405.7 2363.5h0M399.1 2213.9h0M377.7 2377.5h0M401.1 2272.5h0M372.3 2317.7h0M467.5 2286.5h0M406.6 2325.2h0M438 2353.5h0M347.5 2365.8h0M395.8 2442.9h0M360.7 2350.3h0M382.8 2343.4h0M280.2 2318.8h0M352.2 2410.3h0M289.3 2379.5h0M357 2298.1h0M430.5 2328.6h0M359.2 2296.1h0M425.8 2315.2h0M440.9 2266.5h0M496.7 2315.2h0M509.9 2226.7h0M467.4 2315.3h0M378.5 2381h0M551 2205.8h0M383.7 2302.1h0M424.3 2317.3h0M412.8 2362h0M472.2 2213.9h0M356.1 2341.4h0M411.7 2363.8h0M457.8 2288.8h0M392.3 2371.2h0M409.8 2207.9h0M351.2 2399.5h0M400.5 2217.3h0M498.7 2296h0M434.3 2249.5h0M457.4 2407.6h0M376.3 2350.7h0M388.9 2418.2h0M448.8 2352.4h0M438.8 2315.6h0M481.5 2429.2h0M368.1 2240.5h0M378 2295h0M318.6 2369.9h0M472.6 2274h0M371.3 2434.7h0M296.7 2348.2h0M306.3 2423.4h0M501.2 2338.5h0M424.4 2267.9h0M470.4 2328.9h0M389.1 2445.2h0M449.5 2300.2h0M430.6 2399h0M455.9 2272.7h0M554.5 2352.6h0M528.7 2292.4h0M377.3 2398.7h0M396.4 2266h0M529.1 2288.6h0M397.3 2287h0M408.1 2365h0M379.1 2194.4h0M403.5 2352.9h0M430.3 2385.9h0M357.5 2356.7h0M511.5 2280.7h0M558.8 2394.5h0M419.6 2358h0M395.1 2385h0M363.5 2283.3h0M490.4 2459.9h0M395.7 2270.9h0M426.8 2424.7h0M416.5 2338.2h0M442.3 2281.2h0M473.7 2231.2h0M416.8 2250.5h0M415.1 2252.7h0M427.5 2377.3h0M439.9 2280.5h0M546.2 2221.2h0M392.3 2354.9h0M446.7 2357.4h0M472.1 2311.1h0M443.4 2208.2h0M382.9 2303.9h0M422.9 2336.7h0M465.4 2308h0M457.1 2347.4h0M492.5 2370h0M423.7 2331.5h0M452.8 2266.1h0M383 2410.8h0M476 2244.6h0M514.8 2347.5h0M425.5 2301.3h0M460.9 2307.1h0M474.1 2251.1h0M465.7 2274.6h0M328.6 2409.4h0M351 2283.7h0M321.6 2354.1h0M452.7 2290.9h0M349.3 2351.1h0M411.5 2290.3h0M531 2365.5h0M437.1 2296.5h0M549.3 2304.3h0M488.4 2308.2h0M325 2323.9h0M271.5 2466.3h0M379.5 2367h0M390.2 2400.4h0M369.9 2325.1h0M437.5 2408.6h0M418.6 2221.9h0M435.7 2402.5h0M429.7 2322.2h0M354.9 2366.2h0M570.8 2252.4h0M441.8 2300.6h0M463.4 2293.9h0M390.1 2299h0M415 2356.1h0M375.2 2311.6h0M482.3 2361.2h0M532.6 2304.3h0M300.2 2404.5h0M384 2333.1h0M461.7 2334h0M482.6 2268.1h0M430.4 2328h0M445.8 2297.5h0M469.4 2327.4h0M334.2 2349.9h0M468.4 2240.2h0" stroke="#231f20" stroke-width="5.7" stroke-linecap="round" fill="none"/><path d="M293.4 2430.9h0M309.9 2446h0M331.3 2291.8h0M294.7 2514.7h0M368.6 2347h0M277.4 2318.8h0M413.1 2239.1h0M296.1 2464.9h0M241.7 2463.5h0M382.4 2339.8h0M368.9 2359.7h0M290.2 2452.8h0M409.2 2404.4h0M389.7 2295.4h0M302.8 2437.7h0M349.4 2434.6h0M294.6 2434.7h0M383.4 2374.2h0M426.1 2344.5h0M288.6 2391.8h0M475.3 2262.3h0M299.3 2418.7h0M400.3 2353h0M263.7 2473.4h0M348.7 2480.3h0M293.2 2374h0M305.3 2459.5h0M249.4 2438.4h0M311.1 2469.9h0M311.2 2371.2h0M285.3 2444.8h0M290.3 2396h0M286.5 2433.9h0M442.1 2290.3h0M260.6 2419.5h0M418.4 2323.6h0M326 2400.2h0M307.8 2411.1h0M323 2423.5h0M345.4 2347h0M320.3 2382h0M279.5 2451h0M325.9 2408.9h0M297.1 2440.5h0M357.5 2450.3h0M430.5 2318.3h0M329.1 2428.9h0M397.5 2336h0M389.3 2322.7h0M404.3 2385.6h0M373.9 2444.5h0M366.4 2319.1h0M359.2 2304.7h0M257.2 2481.6h0M325.5 2329.7h0M299.1 2404.6h0M407.8 2333.1h0M378.5 2440.9h0M380.8 2366.1h0M267.7 2457.9h0M492.2 2257.9h0M427 2319.2h0M418 2298.5h0M339.2 2410.7h0M329.4 2297.1h0M341.6 2364h0M347.5 2370.8h0M390.2 2408.2h0M290.7 2430h0M272.9 2447.8h0M281 2360.4h0M318.4 2407.7h0M433.3 2313.3h0M412.1 2380.3h0M335.9 2431.2h0M444.3 2287.5h0M256.3 2436.2h0M256.9 2481.5h0M387.6 2288.8h0M325 2461.3h0M345.4 2409.9h0M312.6 2425.3h0M417.2 2237.2h0M330.2 2435.2h0M322.2 2364.1h0M366.2 2422.8h0M369.7 2342h0M406 2320.6h0M394.5 2314.7h0M232.1 2471.2h0M302.6 2431.6h0M313.1 2443.7h0M337.5 2399.5h0M377 2400.2h0M372.3 2349.6h0M278.1 2432.9h0M295.7 2390.4h0M360.4 2337.5h0M361.9 2377.2h0M295.1 2454.2h0M254.6 2418.8h0M293.8 2463h0M285.7 2433.4h0M373.2 2332.3h0M331 2350.6h0M286.7 2440.1h0M266.5 2458.3h0M383.2 2336.4h0M311.5 2354h0M396.1 2429.8h0M409 2348.1h0M248.4 2446h0M326 2405.8h0M375 2340.6h0M379.1 2362.5h0M389 2324h0M440.9 2284.7h0M284.8 2507.9h0M293 2339.1h0M344.8 2445.2h0M341.7 2420.6h0M282.1 2384.3h0M387.7 2293.9h0M263.8 2467.2h0M336.4 2430.7h0M387.9 2308.8h0M404.1 2261.9h0M391.9 2347.6h0M323 2292.2h0M258.2 2456.2h0M378.9 2394.6h0M413.6 2353.1h0M422.8 2352.7h0M384.2 2371.7h0M451.4 2388.8h0M361.2 2422.8h0M443.5 2269.2h0M409.1 2406.7h0M242.1 2409.1h0M289.7 2417.6h0M377.4 2352.1h0M298.5 2459.2h0M447.3 2260.9h0M339.4 2286.3h0M360.4 2353.7h0M366.8 2426.7h0M274.3 2461.4h0M326 2352.2h0M333 2417.8h0M241.6 2460.7h0M417.9 2339.4h0M345.3 2297.6h0M255 2483.8h0M389.6 2288.4h0M300.8 2360.4h0M371.5 2432.9h0M372.2 2344.5h0M282.5 2468.3h0M307 2414h0M396.2 2359.9h0M318.5 2447.9h0M298.7 2472.2h0M352.2 2353.5h0M309.5 2385.3h0M401 2418.9h0M291.8 2454.7h0M353.5 2291.4h0M334.4 2445.1h0M299.3 2450.2h0M249.8 2410.2h0M283.1 2408h0M276.3 2414.5h0M300.5 2407.3h0M424.3 2307.8h0M403.8 2410.1h0M377.3 2396h0M262.9 2434.7h0M462.3 2275.6h0M392.4 2450.4h0M458.6 2316.5h0M274.6 2489.9h0M277.6 2410.7h0M419.1 2431.3h0M321.7 2383.4h0M338.1 2393.1h0M313.1 2436.7h0M283.9 2320.9h0M342 2367.1h0M306.5 2428.4h0M387.9 2367.9h0M375.6 2246.1h0M300 2441.3h0M333.7 2448.9h0M326.4 2378.7h0M324.1 2434.1h0M376.6 2356h0M386.2 2351.9h0M402.4 2293.3h0M382.1 2324.8h0M308.6 2368.7h0M271 2429.6h0M436 2310.6h0M262.2 2470.4h0M380.1 2400.9h0M228.2 2502h0M345.4 2336.4h0M359.3 2370.2h0M375.7 2388.1h0M335.9 2437.9h0M317.4 2434.2h0" stroke="#ffe6c8" stroke-width="5.7" stroke-linecap="round" fill="none"/><path d="M423.8 2183.3h0M441.6 2336.8h0M525.4 2262.3h0M364.8 2310.5h0M453.9 2212.3h0M418.7 2330.9h0M468.1 2320.1h0M418.2 2293.8h0M372.9 2355.2h0M455.7 2418.7h0M486.1 2330.4h0M434.4 2307h0M422.9 2354.8h0M503.1 2180.1h0M413.5 2358h0M356.7 2311.5h0M324.1 2322.9h0M420.4 2267.3h0M435.3 2342.2h0M466 2297.1h0M424.3 2369.5h0M445.4 2284h0M389.7 2407.1h0M384.8 2369h0M436.1 2350.7h0M273.6 2422.6h0M451.4 2200.5h0M344 2329.9h0M401.3 2332.6h0M334.1 2392.1h0M376.6 2361.2h0M418 2325.2h0M409.2 2357.2h0M252.1 2461.3h0M441.5 2228.5h0M393.4 2263.6h0M377.6 2259h0M439.7 2361.6h0M340.2 2508.9h0M400.5 2389.8h0M421.1 2277h0M491.2 2317.3h0M351.8 2359.4h0M316.4 2397.6h0M225.4 2386.8h0M250 2430.8h0M448.9 2211.8h0M433.9 2343.8h0M462.9 2316.7h0M396.9 2187.6h0M424.7 2345.7h0M369.7 2270.8h0M447.5 2303.1h0M265 2388h0M443.2 2338.8h0M435.3 2256.7h0M370.3 2356h0M500.7 2286.2h0M416 2370.1h0M392.7 2402.7h0M436.8 2391.3h0M537.9 2278.7h0M382.9 2373.9h0M469.3 2374.5h0M458.3 2207.6h0M449.7 2382.9h0M467.4 2265.2h0M467.9 2386.6h0M491.2 2204.5h0M393.4 2325h0M415.7 2348.8h0M385.5 2447.8h0M502.8 2342.7h0M387.5 2292.4h0M375.2 2284.3h0M312.1 2362.9h0M465.3 2347.6h0M407 2282.2h0M375.4 2309.5h0M304.5 2422.5h0M262.9 2379.9h0M373.7 2248.9h0M393.9 2372.8h0M502.6 2246.2h0M494.4 2261.1h0M387.4 2359.7h0M420 2325.9h0M481.5 2308.9h0M362.9 2416.3h0M394.2 2423.7h0M474.7 2331.3h0M301.7 2406.8h0M462.1 2304.2h0M513.5 2311.1h0M438.1 2261h0M551.2 2245.1h0M457.3 2346.5h0M490.6 2399.5h0M368.8 2371.5h0M494.5 2350.3h0M510.6 2288.7h0M267 2400.1h0M529.4 2275.6h0M375.5 2384.1h0M479.5 2439.6h0M356.4 2459h0M440.1 2298.1h0M416.9 2233.3h0M494.5 2270.5h0M303.4 2342.8h0M432.6 2320.4h0M505.1 2314.6h0M385.9 2271.3h0M412.7 2281.2h0M458.2 2354.9h0M364.9 2389.2h0M327.2 2373.1h0M402.4 2327.3h0M427.3 2282.9h0M292.3 2386.8h0M446.5 2247.1h0M382.5 2265.6h0M445.3 2287h0M481.8 2365.4h0M411.3 2203.4h0M378.5 2314.8h0M417.8 2278.9h0M431.4 2355.9h0M374.8 2330.7h0M423.2 2305.9h0M429.9 2288.5h0M441.4 2239h0M394.6 2444.6h0M452.1 2300.7h0M391.5 2291.8h0M301.4 2442.2h0M347.5 2376.1h0M462.1 2278.4h0M481.3 2409.7h0M477.7 2263.4h0M363 2285.7h0M389.6 2288.2h0M364.6 2323h0M430.9 2385h0M481.9 2354.2h0M437.5 2271.7h0M450.9 2274.1h0M352.8 2400.2h0M495.2 2304h0M440.3 2413.7h0M450.2 2325.6h0M482.3 2310.7h0M446.1 2291.4h0M404.4 2243.8h0M482.9 2322.4h0M472.7 2331.8h0M485.3 2342.9h0M471.4 2353.5h0M327.2 2393h0M413.2 2284.2h0M366.4 2283.9h0M390.7 2390h0M428.4 2251.7h0M583.5 2361.3h0M442.2 2318.7h0M447.1 2272.5h0M366.9 2316h0M345 2391.5h0M344 2393.7h0M425.4 2421.1h0M427.7 2327.7h0M420.5 2301h0M343.8 2283.1h0M291.6 2403h0M505.3 2349h0M441.4 2374.3h0M470.4 2229.9h0M490.9 2362.8h0M434.4 2307.8h0M421.1 2300.5h0M337.2 2379h0M362.3 2357.8h0M396.3 2319.3h0M438.5 2272.5h0M453.1 2236.3h0M224.9 2442.9h0M391.4 2268h0M388.8 2405.8h0M478.4 2379h0M536.6 2264.4h0M239.2 2360.7h0M465 2306.2h0M493 2309.3h0M451.8 2387.8h0M473.7 2283.1h0M354.1 2368.7h0M399.1 2311.4h0M456.4 2293.2h0M409.6 2303.6h0M352.5 2442.8h0M322.6 2323.3h0M515.2 2248.7h0M524.6 2325.6h0M369.9 2296.2h0M410.8 2286.6h0M487.6 2289.4h0M314.5 2394.5h0M353.7 2404.1h0M385.2 2348.9h0" stroke="#231f20" stroke-width="5.7" stroke-linecap="round" fill="none"/><path d="M343.9 2395.1h0M418.9 2331.5h0M258.2 2433.2h0M320 2399.1h0M295 2438h0M316 2465h0M326.4 2394.5h0M297.5 2403.4h0M347.8 2437.9h0M341.6 2348.2h0M326.6 2435.8h0M263.2 2489.8h0M310.1 2333.5h0M432 2272h0M399.8 2397.6h0M278.6 2437h0M265 2447.7h0M412.1 2411.8h0M278.7 2429.1h0M382.7 2407.9h0M293.7 2454.2h0M463.1 2382.2h0M336.4 2345.3h0M437.7 2355h0M243.4 2434.6h0M343 2388.8h0M284.4 2407.2h0M307.5 2422.4h0M263 2437h0M285.4 2432.7h0M308.4 2451.9h0M360.3 2433.7h0M297 2420.5h0M321.6 2436.3h0M427.1 2278.8h0M413.6 2412.8h0M316.6 2411.9h0M346.5 2397.9h0M361.4 2431.9h0M435.8 2323.2h0M425.1 2290.3h0M307.7 2431.8h0M327.5 2433.2h0M308.5 2370.9h0M321.1 2425.2h0M321.6 2481.5h0M383.7 2351.2h0M320.3 2421.8h0M242.9 2426.9h0M351.7 2353.6h0M371.3 2337.7h0M383.9 2467h0M337.6 2492.3h0M349.5 2406.5h0M233.6 2446.2h0M437.8 2297h0M253.6 2431.8h0M350.4 2402.8h0M340.9 2306.1h0M364.2 2443h0M330.6 2424.2h0M336.2 2357.9h0M311.2 2347.5h0M285.1 2456.4h0M322 2402.9h0M333.5 2447.9h0M225.9 2429.4h0M240.6 2486.5h0M293.7 2443.6h0M319.3 2451.1h0M218.2 2477.2h0M332.9 2402.3h0M394.2 2364.6h0M292.3 2378.3h0M355.7 2412.1h0M377.9 2382.6h0M344 2352.5h0M310.8 2338.4h0M232.8 2426.4h0M319.7 2341.3h0M253.1 2454.4h0M349.5 2344.5h0M275.7 2438.3h0M436.8 2350.5h0M333.7 2399.4h0M357.9 2405.4h0M322.7 2359.6h0M256.1 2475.2h0M466.7 2299.3h0M318.8 2416.3h0M206.3 2432h0M306.4 2357.4h0M325.1 2405.9h0M337.7 2420.7h0M444 2252.5h0M344.5 2394.9h0M326.2 2430.3h0M325.8 2421.6h0M372 2352.4h0M345.7 2331.6h0M303.2 2422.6h0M306.2 2466.1h0M381.8 2410.8h0M366.2 2410.2h0M402.7 2362.3h0M296 2383.7h0M296.6 2391.6h0M387.6 2384.2h0M435.7 2294h0M299.6 2401.3h0M402.5 2265.5h0M363.3 2386.6h0M368.6 2352.6h0M308.3 2416.9h0M317.6 2405.3h0M356.2 2454.9h0M258.9 2438.9h0M298.2 2401h0M298.2 2436.7h0M324.6 2432.6h0M356.8 2435h0M424.9 2316.4h0M458.6 2218.8h0M412.8 2341h0M406.4 2294.5h0M442.8 2362.4h0M355.3 2392h0M290.4 2414.1h0M320.8 2338.2h0M353 2378.6h0M340.8 2433h0M370.1 2391.1h0M273.9 2482.8h0M396 2341.4h0M411.7 2392.7h0M306.6 2318.1h0M276 2422.8h0M302.7 2436.1h0M330.2 2422.9h0M425.7 2345.9h0M382.6 2361.9h0M298.2 2439.8h0M353 2402.1h0M435.9 2310.3h0M360.5 2414h0M444.3 2345.4h0M473.1 2268.7h0M324.9 2425.5h0M204.6 2430.6h0M239.5 2474h0M302.7 2431.5h0M306.2 2427.4h0M279.2 2465.7h0M397.3 2375.4h0M328.1 2466.2h0M330.6 2418.2h0M291.4 2455.3h0M353.3 2435.5h0M445.3 2377.1h0M351.1 2463.4h0M413.9 2330.6h0M313.7 2339.5h0M286.6 2427.2h0M337.7 2354.6h0M288.6 2433.4h0M318.8 2441.8h0M261.1 2455h0M295.1 2449.4h0M343.2 2442h0M419 2373.6h0M254.1 2480.5h0M323.1 2318.9h0M348.6 2355.9h0M278.4 2438.5h0M344.3 2429.7h0M318.7 2452.8h0M263.8 2434.7h0M255.3 2427.3h0M469.1 2257.1h0M483 2294.2h0M295.1 2437h0M253.2 2418.9h0M298.9 2435.4h0M306.1 2326.9h0M280.8 2452.1h0M287.5 2367.8h0M342.4 2424.3h0M275.8 2421h0M311.5 2418.9h0M335.2 2444.2h0M249.8 2423.4h0M364.9 2427.8h0M397.3 2308.4h0M369.2 2312.1h0M369.2 2411.1h0M385.8 2348.8h0M281.4 2445.1h0M251.2 2390.9h0M275.3 2443.4h0M334.7 2390.5h0M301.3 2476.1h0M325.2 2349.4h0M248 2435.9h0M397.1 2250.2h0M368.9 2429.3h0M330.6 2473.7h0M427.4 2390.5h0M279.4 2471.7h0M332.5 2319.2h0M379.1 2316.5h0" stroke="#ffe6c8" stroke-width="5.7" stroke-linecap="round" fill="none"/><path d="M434 2330.1h0M393.1 2369.7h0M442 2238.5h0M406 2356.6h0M365.3 2216.5h0M422.9 2228.5h0M462.1 2384.6h0M408.5 2342.1h0M463.4 2234h0M440.7 2368.1h0M402.7 2289.9h0M417.6 2316.2h0M465.4 2307.7h0M449.6 2263.8h0M401.3 2241.4h0M305.1 2295h0M486.3 2352h0M278.5 2485.7h0M397.9 2230.8h0M376.4 2353.2h0M389.3 2276.7h0M401 2366.4h0M315.1 2355.6h0M466.8 2383.9h0M552.5 2229h0M358.4 2339.3h0M411.7 2361.4h0M354.1 2271.5h0M388.2 2373.2h0M443 2272.3h0M331.2 2307.2h0M397.4 2256.3h0M416.1 2309.7h0M362.7 2273.1h0M525.3 2197.7h0M290.4 2412.5h0M367.3 2345.2h0M451.5 2276.6h0M464.8 2336h0M471.1 2269.8h0M476.6 2345.5h0M458.2 2396.8h0M431.4 2295.3h0M410.2 2326.8h0M466.6 2309.5h0M283.3 2480.3h0M391.8 2235.6h0M455.3 2315.8h0M261.7 2443.5h0M395 2298.5h0M506.6 2282.6h0M483.5 2252.3h0M471.4 2300.7h0M611.4 2216.9h0M366.1 2315h0M449.3 2187.6h0M519 2287.4h0M438.2 2323.1h0M394.2 2253h0M522.3 2420.8h0M403.1 2320h0M461.7 2321.5h0M418.3 2303.1h0M476.4 2385.4h0M383.2 2394.6h0M399.7 2304.4h0M403.5 2304.6h0M449.4 2412.9h0M427.4 2334.4h0M351.5 2387.3h0M510.4 2324.2h0M345.9 2364.1h0M447 2302.9h0M460 2252.7h0M327.4 2343.5h0M414.7 2293.9h0M427.7 2308.3h0M437.5 2405h0M538.9 2310.4h0M411.4 2185.6h0M362.5 2302.7h0M337.3 2373.9h0M378 2338.8h0M415.8 2436.9h0M274.3 2346.7h0M375.7 2303.6h0M473.1 2303h0M540.8 2237.4h0M387.4 2328.1h0M406.8 2414.4h0M383.8 2334.3h0M345.1 2452.8h0M415.4 2304.3h0M442 2294.3h0M365.6 2357.1h0M506 2239.4h0M458.9 2156.6h0M419.1 2238.2h0M406.1 2358.1h0M343.5 2326.2h0M509 2348.1h0M461.8 2288.4h0M445.4 2309.4h0M487.4 2334.2h0M418.3 2287.9h0M591.5 2298h0M423.7 2278.7h0M415.7 2278h0M481.7 2354h0M441.9 2305.3h0M381.2 2290h0M283.7 2369.7h0M406.6 2335h0M365.4 2412.7h0M517.2 2218.8h0M495.5 2361.2h0M354.5 2379.7h0M461.5 2265.1h0M420.4 2213.9h0M347.5 2232.6h0M358.4 2344.3h0M575.8 2401.8h0M465.8 2328.5h0M450.5 2283.5h0M467 2324.3h0M424.5 2288.7h0M371.5 2346.4h0M381.5 2318.2h0M449.9 2310.2h0M571.2 2305.9h0M470.2 2399h0M297.1 2392.1h0M274.1 2337.2h0M535.8 2355.4h0M541.7 2235.8h0M363.2 2380.5h0M415.9 2384.2h0M439.1 2363.5h0M452.6 2319.6h0M464.9 2224.1h0M365.3 2318.5h0M429.4 2351.5h0M407.7 2370.7h0M313.1 2362.8h0M432.7 2342.4h0M403.6 2281.5h0M388.2 2238h0M331.2 2374.6h0M261.6 2502.7h0M513.5 2266h0M405.2 2339.4h0M446.3 2263.5h0M504.5 2321.3h0M438.8 2384.3h0M401.2 2334h0M431.3 2328.8h0M286.8 2435.7h0M348 2183.9h0M513.2 2210h0M497.3 2236.5h0M449.5 2317.5h0M460.4 2270.6h0M459.8 2267.1h0M514.4 2352h0M379.7 2387.6h0M385.3 2265.2h0M410.6 2212.4h0M365.1 2257.6h0M394.6 2274.6h0M468.3 2386.3h0M408.7 2314.2h0M367 2428.5h0M508.8 2402.2h0M365.5 2361.5h0M344.6 2420.3h0M549.5 2264.3h0M394.2 2423.5h0M387 2402.3h0M431.1 2309.2h0M436.4 2277.8h0M482.2 2385.6h0M370 2355.2h0M450.4 2260.3h0M458.9 2252h0M337.2 2483.9h0M447.1 2341.6h0M401.5 2361.7h0M402.2 2335.7h0M416.1 2377.3h0M435.3 2262.2h0M426.7 2298h0M504.8 2298.4h0M447.3 2325.8h0M420.1 2223.9h0M381.8 2242.5h0M420.6 2318.6h0M407.5 2365.5h0M410.9 2321.7h0M474.8 2354h0M365.4 2433.8h0M448.5 2252.4h0M355.8 2338.6h0M414.6 2270h0M374.2 2396.6h0M503.2 2329.8h0M348.7 2329.6h0M461.3 2245.7h0M398.3 2375.6h0M461.8 2413.5h0" stroke="#231f20" stroke-width="5.7" stroke-linecap="round" fill="none"/><path d="M253.9 2436.7h0M283.3 2428h0M310.1 2427.2h0M319.8 2326.2h0M395.6 2372.3h0M302.7 2457.3h0M259.4 2470h0M431.6 2366.6h0M292 2371.7h0M462.6 2260.8h0M315.7 2356.3h0M309.7 2369.8h0M270.4 2422.7h0M274.1 2408.2h0M338.5 2409h0M397.2 2278.5h0M280 2439.4h0M275.3 2424.1h0M396.7 2344.7h0M352 2432h0M289.9 2458h0M283.2 2456h0M251.7 2411.7h0M387.9 2382.4h0M261.9 2409.3h0M385.2 2326.6h0M433.4 2264.7h0M238.8 2483h0M384.8 2436.4h0M299 2397.4h0M365.9 2408.9h0M330.7 2398.8h0M311.3 2435.3h0M385.1 2377.3h0M324.6 2431.2h0M369.1 2413.9h0M226.7 2473.8h0M338.2 2351.9h0M335.5 2337.9h0M338.5 2422.4h0M346.2 2426.9h0M398.8 2311.6h0M288.4 2458.4h0M294.7 2411.4h0M245.8 2469h0M254.6 2449.4h0M284 2454.8h0M358.4 2431.6h0M387.1 2436.9h0M448.2 2285.8h0M411.7 2375.6h0M366.9 2344.4h0M295.7 2436.2h0M364.7 2390.9h0M392.4 2307.7h0M215.1 2444.7h0M421.3 2378.5h0M299.3 2449.9h0M248 2476.9h0M331.7 2287.5h0M367.2 2407.8h0M330.3 2439.7h0M327.8 2413.7h0M380 2318.3h0M436.6 2275.2h0M409 2433.8h0M262.9 2444h0M341.6 2360.2h0M319.4 2325.2h0M247.4 2454.6h0M404.6 2386.2h0M422.8 2302.6h0M251.9 2475h0M391.4 2295.7h0M450.5 2248.3h0M268 2431h0M309.6 2443.3h0M377.8 2397.7h0M314.9 2421.2h0M266.9 2463h0M344.2 2321h0M299.4 2377.8h0M386.4 2318.5h0M395.1 2349.1h0M395.3 2351.4h0M239 2431.4h0M385 2401.2h0M287 2444h0M231.7 2460.7h0M444.9 2313.1h0M356.9 2364.2h0M315.2 2313.9h0M407.3 2322.5h0M249.3 2454.5h0M315.9 2472.9h0M363.3 2299.1h0M294.8 2455h0M410.8 2342.2h0M310.1 2387.8h0M388.1 2286.9h0M328.4 2427.1h0M346.2 2385.3h0M387.9 2349.2h0M346.6 2442.2h0M257.1 2477h0M319.8 2409.5h0M265.2 2451.2h0M288.5 2379.8h0M360.5 2442.9h0M295.8 2422.7h0M298.6 2426.6h0M371 2421h0M354.6 2428.4h0M275.8 2438.4h0M392.6 2337.9h0M280.9 2437.1h0M349 2349.4h0M258.8 2433.7h0M434.5 2362.8h0M342.9 2398h0M464.1 2321.7h0M305.9 2423.9h0M260.5 2477.1h0M323.1 2392.5h0M341.5 2377.3h0M326.8 2467h0M323.7 2427.2h0M302.8 2442.7h0M268 2422.6h0M300.9 2405.5h0M253.1 2479.2h0M319.6 2449.2h0M302.2 2445.4h0M304.1 2427.6h0M321.1 2435h0M442.7 2208.5h0M356.8 2434.6h0M268.6 2442.2h0M304 2427.4h0M360.8 2353.5h0M390.6 2349.7h0M361 2360.9h0M354.4 2466.5h0M351.6 2377.6h0M255.9 2476.9h0M303.4 2364.5h0M289.2 2465h0M240.9 2463.2h0M364.2 2335.5h0M357.2 2339.3h0M297.5 2381.6h0M330.2 2444.4h0M421.5 2341.4h0M334.7 2430.9h0M318.1 2326.1h0M360.6 2353.5h0M321.5 2446h0M217.9 2476.3h0M342 2407.8h0M250.5 2459.3h0M378.4 2379h0M271.5 2418.5h0M278.2 2451.8h0M265.2 2434h0M335 2417.6h0M293.8 2464h0M321.9 2373.2h0M366.4 2424.8h0M303.4 2380.7h0M333.3 2419.6h0M255.9 2469.2h0M303.5 2414.9h0M463.6 2245.2h0M317.5 2475.8h0M285.2 2472.3h0M340.6 2439h0M380.9 2291.7h0M272.2 2421.2h0M240.7 2484.4h0M409.4 2343.1h0M378.6 2340.6h0M356.2 2424.7h0M231.5 2464h0M449.7 2252.7h0M406.9 2341.9h0M390.5 2323.1h0M341.4 2323.8h0M347 2430.1h0M328.9 2477.4h0M369.8 2327.7h0M438.3 2375.1h0M358.7 2368h0M358.6 2361h0M298.2 2455.1h0M419.8 2357.4h0M299.7 2413.5h0M328.3 2444.9h0M286 2423.6h0M341.9 2427.4h0M345.1 2420.8h0M405.1 2296h0M339.6 2408.4h0M317.3 2374.6h0M291.4 2409.8h0M330.3 2447.7h0M261 2481.5h0M422.2 2344.7h0M336 2369.5h0M321.1 2388h0" stroke="#ffe6c8" stroke-width="5.7" stroke-linecap="round" fill="none"/><path d="M379.8 2298.4h0M387.3 2292.7h0M438.6 2276.5h0M360 2335.2h0M394.6 2346.8h0M489 2190.4h0M492.8 2292.1h0M383.3 2312h0M394.2 2296h0M530.9 2274h0M337.9 2347.6h0M436.8 2363.3h0M465.2 2385.9h0M288.1 2393.4h0M497.4 2299.7h0M348.1 2339.3h0M482.5 2275.2h0M333.1 2369.6h0M459.5 2346.3h0M458.9 2302.5h0M443.5 2334.6h0M494.1 2225.7h0M414.8 2312h0M477.1 2358h0M375.7 2418.9h0M533.6 2275.7h0M375.2 2353.4h0M321.1 2370.6h0M414.8 2461.7h0M434.7 2314.8h0M271.6 2512.3h0M452.5 2347.8h0M430.4 2265.9h0M444.7 2300.6h0M320.9 2412.8h0M473.3 2307.9h0M394.2 2377.7h0M280.9 2406.3h0M398 2264.2h0M410.9 2409.5h0M408.1 2415.4h0M428.4 2346.1h0M421.6 2387.9h0M457.3 2214.3h0M438 2326.9h0M414.5 2329.4h0M465.1 2242.5h0M403.7 2271.7h0M305.7 2433.6h0M492.7 2282.5h0M337.9 2309.2h0M471.4 2294h0M375.1 2387h0M457.1 2227.1h0M400.2 2318.8h0M367.6 2330h0M387 2309.3h0M463.1 2272h0M258.5 2439.2h0M476.7 2357h0M477.5 2292.7h0M464.9 2363.4h0M488.5 2184.1h0M374.4 2323.3h0M496.4 2387.5h0M474.3 2249.7h0M430.8 2228.4h0M486.7 2372.3h0M391.1 2397.5h0M445.3 2249.9h0M457.1 2354.4h0M514.8 2238h0M421.5 2331.5h0M471.4 2353.5h0M438.6 2395.7h0M380.8 2307.8h0M343.4 2278.2h0M444.4 2296.3h0M327.2 2371.1h0M398.7 2338.8h0M417 2394.6h0M489.7 2213.6h0M330.8 2342.4h0M394.2 2175.5h0M459.5 2395h0M404.5 2306.3h0M411.5 2263.2h0M480.5 2342.7h0M343.7 2321.1h0M441.7 2282.2h0M437.8 2288.8h0M401.8 2356.7h0M346.4 2297.7h0M480.9 2341.2h0M376.3 2401.9h0M404.9 2314.8h0M459.9 2369.8h0M354.2 2412.4h0M362.7 2382.9h0M412.9 2336.4h0M455.8 2330.4h0M400.7 2332.5h0M400.8 2484.5h0M530.9 2270.6h0M464 2305.3h0M457.6 2289.8h0M493.3 2283.2h0M355 2426h0M433.3 2257.3h0M513.9 2352.7h0M515.4 2288.4h0M470.7 2274.7h0M284.7 2340.2h0M311.5 2370.5h0M411.1 2350h0M363.2 2389.8h0M502.1 2281.5h0M350.1 2352.1h0M373.2 2170.9h0M316.4 2484.6h0M462.8 2351.1h0M355.4 2408.1h0M430.4 2341.2h0M409.2 2321.3h0M448.8 2199.3h0M345.4 2423.6h0M450.3 2352.6h0M410.1 2253h0M509.5 2297.7h0M204.2 2534.9h0M447.3 2312.4h0M406.3 2252.2h0M487.7 2351.8h0M486.4 2319.6h0M447.1 2316.4h0M424.8 2345.8h0M521.4 2230h0M380.8 2294.2h0M367.5 2346.4h0M386.6 2293.2h0M366.4 2363.9h0M332.3 2366.3h0M414.5 2280.8h0M401 2263.5h0M425.3 2298.5h0M342.5 2321.7h0M421.7 2359.6h0M434.4 2295.6h0M393.4 2388.5h0M413.5 2336.8h0M445.6 2254.6h0M410.8 2424.8h0M450.8 2332h0M529.4 2210.9h0M383.7 2211.9h0M352.1 2287h0M461.3 2400.6h0M370.9 2394h0M247 2416.6h0M548.8 2339.4h0M405.5 2418.1h0M496.3 2206h0M458.6 2358.5h0M427.2 2229.3h0M365.1 2321.2h0M337.9 2307.9h0M464.1 2387.3h0M474.5 2344.7h0M481.5 2276.2h0M410.8 2376.3h0M421.1 2325.5h0M515.8 2347.7h0M492.6 2305.7h0M322.8 2336.7h0M407 2324.1h0M419.5 2300.2h0M356.4 2292.3h0M492.4 2264.1h0M381.1 2248.5h0M401.7 2365.3h0M387.5 2266.8h0M376.7 2305h0M498.5 2287.7h0M313.4 2369.1h0M439.3 2273.2h0M451.6 2258.5h0M428.8 2370h0M356.3 2416.6h0M491.4 2325.3h0M453.9 2206.1h0M403.8 2243.2h0M480.7 2310.3h0M433.9 2342.3h0M439.1 2184.2h0M364.4 2268.9h0M424.9 2285.5h0M376.1 2407h0M470.7 2324.8h0M465 2399.2h0M375.3 2359.5h0M448.1 2383.9h0M364.8 2302.6h0M378.1 2326.2h0M394.6 2332.9h0M455.9 2220h0M439.6 2347h0M393.8 2395.6h0M440.7 2338.2h0" stroke="#231f20" stroke-width="5.7" stroke-linecap="round" fill="none"/><path d="M400 2408.8h0M399.2 2336.4h0M381.7 2373.8h0M297.3 2396h0M424.5 2383.4h0M296.3 2433.6h0M412 2376.7h0M448.5 2214.9h0M259.7 2436h0M452.1 2336.5h0M268.2 2459.4h0M256.7 2428.9h0M359.9 2369.1h0M292.3 2419h0M448.5 2373.9h0M293 2477.5h0M409.5 2301.8h0M274.6 2493h0M368.8 2388.5h0M402.6 2282.7h0M349.1 2382.6h0M325.3 2369.5h0M323.1 2388.1h0M398.7 2321.6h0M337.4 2363.9h0M264.1 2456.1h0M371.4 2420.9h0M345.5 2362.8h0M215.6 2379.7h0M227.9 2468.8h0M344.8 2340.6h0M357.2 2414.9h0M324.6 2299.2h0M346.6 2443.1h0M407.6 2272h0M326.9 2390h0M281 2462.2h0M339.4 2463.1h0M272.5 2384.4h0M275.9 2362.6h0M386 2307.7h0M345.2 2449.9h0M382.3 2414h0M428.7 2225.4h0M304.7 2470.4h0M223.4 2479.6h0M508 2333.6h0M294.2 2477.4h0M383.1 2445.8h0M274.8 2463.1h0M376.4 2430.5h0M287.2 2461.6h0M268.5 2326.2h0M366.2 2359.9h0M254.7 2421.8h0M374.6 2389.2h0M242 2443.8h0M353.2 2420.9h0M274.9 2400.9h0M312.4 2474.2h0M234.2 2458.9h0M292.1 2421.5h0M261.6 2448h0M336.7 2455.7h0M265.5 2460.7h0M417.8 2438.9h0M451.6 2303.5h0M419.8 2273h0M265.2 2455.2h0M297.2 2465.8h0M405.8 2322.8h0M387.2 2332.6h0M351.8 2376h0M296.3 2457.7h0M424.4 2285.5h0M272.1 2454.6h0M328 2453.6h0M307 2349.7h0M386.5 2359.4h0M289.4 2453.5h0M317.5 2441.1h0M298.7 2356.8h0M400.6 2368.7h0M304.8 2439.1h0M421.6 2344h0M400.2 2352.9h0M350.9 2424.6h0M348.5 2419.3h0M396.4 2273.7h0M431.4 2286.6h0M301.5 2452.4h0M404.4 2284.1h0M234.2 2477h0M335 2425.3h0M368.1 2320.2h0M354.5 2391.3h0M458.1 2262.2h0M298.4 2439.8h0M275.1 2361.9h0M355.3 2339.4h0M296.5 2513.3h0M383.2 2313.5h0M293.6 2455.2h0M307.7 2450.6h0M248.3 2463.4h0M371.4 2397.8h0M339.8 2394.5h0M383 2442.4h0M300.6 2448.8h0M259.2 2457.7h0M374.7 2239.6h0M281.6 2407.5h0M334.7 2374.6h0M283.7 2438.9h0M340.9 2333.8h0M309.8 2357.2h0M398.9 2346.4h0M263.5 2473.3h0M256.7 2476.1h0M342.5 2429.3h0M398.1 2376.5h0M383 2378.4h0M350.9 2369.1h0M282.2 2435.6h0M431.8 2388.7h0M354.1 2412.8h0M297.9 2449h0M305.3 2369.6h0M320.8 2418.4h0M259.8 2433.5h0M424.1 2269.7h0M259.7 2495h0M351.5 2411.1h0M337 2359.3h0M213.8 2437.6h0M251.7 2446.4h0M425.4 2258.8h0M351.5 2403.6h0M326.5 2352.3h0M369.9 2342h0M358 2357h0M288.8 2410.7h0M257.8 2414.2h0M307.5 2335.2h0M356.6 2443.8h0M311.4 2441.8h0M324.3 2443.1h0M261.7 2456.3h0M237 2463.9h0M360.3 2369.6h0M370.5 2397.6h0M369.8 2304.9h0M316.2 2449h0M462.7 2295.4h0M421.9 2384.4h0M291.3 2453.2h0M302 2369.2h0M343.7 2367.6h0M329.9 2376h0M447.2 2389.6h0M316 2435.8h0M451.1 2300.9h0M319.3 2405.1h0M437 2277h0M375.4 2407.2h0M256.5 2457.8h0M337.4 2358.1h0M343.3 2324h0M379.5 2351.2h0M315.8 2447h0M497.2 2278.4h0M324.3 2317.5h0M395.8 2412.4h0M295.5 2446h0M347.1 2318.9h0M366.4 2382.7h0M312.8 2415.4h0M293.6 2412.2h0M329.9 2399.1h0M309.1 2391.3h0M347.9 2331.5h0M273.5 2444.6h0M376 2391h0M304.3 2435.3h0M268.1 2428.9h0M276.6 2424h0M376.2 2340.9h0M386.6 2323.3h0M326.6 2359h0M438.3 2361.3h0M396.6 2331.1h0M445.9 2408.5h0M338.4 2444h0M380 2380.7h0M288.4 2447.4h0M429.9 2232.9h0M325.8 2381.7h0M247.8 2392.7h0M392.9 2303.6h0M302.8 2392.9h0M326.3 2377.7h0M358.6 2342.2h0M334.3 2439.9h0M431 2296.4h0M327.5 2405.8h0M389.8 2435.6h0M267.7 2415.2h0M302.7 2474.9h0M419.9 2388.8h0" stroke="#ffe6c8" stroke-width="5.7" stroke-linecap="round" fill="none"/>
<path d="M103.9 2167.1 V2562 H694.9" fill="none" stroke="#231f20" stroke-width="4.2"/><path d="M103.9 2147.1 L115.9 2176.9 Q109.3 2172.1 103.9 2170.6 Q98.5 2172.1 91.9 2176.9Z" fill="#231f20"/><path d="M714.9 2562 L685.1 2550 Q689.9 2556.6 691.4 2562 Q689.9 2567.4 685.1 2574Z" fill="#231f20"/><line x1="91.9" y1="2147.8" x2="103.9" y2="2147.8" stroke="#231f20" stroke-width="1.1"/><text x="58.3" y="2155.2" font-size="23.5" stroke="#fff" stroke-width="0.3" textLength="25.7" lengthAdjust="spacingAndGlyphs">12</text><line x1="91.9" y1="2245.7" x2="103.9" y2="2245.7" stroke="#231f20" stroke-width="1.1"/><text x="68.9" y="2253.1" font-size="23.5" stroke="#fff" stroke-width="0.3" textLength="15.1" lengthAdjust="spacingAndGlyphs">8</text><line x1="91.9" y1="2343.7" x2="103.9" y2="2343.7" stroke="#231f20" stroke-width="1.1"/><text x="69.5" y="2351.1" font-size="23.5" stroke="#fff" stroke-width="0.3" textLength="14.1" lengthAdjust="spacingAndGlyphs">4</text><line x1="91.9" y1="2441.7" x2="103.9" y2="2441.7" stroke="#231f20" stroke-width="1.1"/><text x="69.1" y="2449.1" font-size="23.5" stroke="#fff" stroke-width="0.3" textLength="14.8" lengthAdjust="spacingAndGlyphs">0</text><line x1="91.9" y1="2539.7" x2="103.9" y2="2539.7" stroke="#231f20" stroke-width="1.1"/><text x="55.9" y="2547.1" font-size="23.5" stroke="#fff" stroke-width="0.3" textLength="27.6" lengthAdjust="spacingAndGlyphs">−4</text><line x1="104.4" y1="2562" x2="104.4" y2="2573.5" stroke="#231f20" stroke-width="1.1"/><text x="90.4" y="2599.7" font-size="23.5" stroke="#fff" stroke-width="0.3" textLength="28" lengthAdjust="spacingAndGlyphs">−5</text><line x1="307.7" y1="2562" x2="307.7" y2="2573.5" stroke="#231f20" stroke-width="1.1"/><text x="300.3" y="2599.7" font-size="23.5" stroke="#fff" stroke-width="0.3" textLength="14.8" lengthAdjust="spacingAndGlyphs">0</text><line x1="510.9" y1="2562" x2="510.9" y2="2573.5" stroke="#231f20" stroke-width="1.1"/><text x="503.4" y="2599.7" font-size="23.5" stroke="#fff" stroke-width="0.3" textLength="15.1" lengthAdjust="spacingAndGlyphs">5</text><line x1="713.4" y1="2562" x2="713.4" y2="2573.5" stroke="#231f20" stroke-width="1.1"/><text x="700.2" y="2599.7" font-size="23.5" stroke="#fff" stroke-width="0.3" textLength="25.5" lengthAdjust="spacingAndGlyphs">10</text>
<text x="134.4" y="2187.1" font-size="27" stroke="#b0a4d0" stroke-width="0.3" textLength="102.7" lengthAdjust="spacingAndGlyphs">Severity</text>
<circle cx="155.1" cy="2211.4" r="9.4" fill="#231f20"/><circle cx="155.1" cy="2248.6" r="9.4" fill="#ffe6c8"/>
<text x="176.4" y="2220.6" font-size="27" stroke="#b0a4d0" stroke-width="0.3" textLength="89.1" lengthAdjust="spacingAndGlyphs">Severe</text>
<text x="177.1" y="2257.1" font-size="27" stroke="#b0a4d0" stroke-width="0.3" textLength="137.7" lengthAdjust="spacingAndGlyphs">Nonsevere</text>
<text x="228.5" y="2636.9" font-size="27" stroke="#fff" stroke-width="0.3" textLength="360.6" lengthAdjust="spacingAndGlyphs">Myeloid dysregulation score</text>
<text transform="translate(31.4 2353) rotate(-90)" x="-194.8" y="0" font-size="27" stroke="#fff" stroke-width="0.3" textLength="388.6" lengthAdjust="spacingAndGlyphs">Lymphoid dysregulation score</text>
</g>
<g id="panel-h">
<text x="858.4" y="2103.4" font-size="38" font-weight="700" stroke="#231f20" stroke-width="0.9" stroke-linejoin="round" textLength="28.1" lengthAdjust="spacingAndGlyphs">h</text>
<rect x="983.4" y="2434.6" width="153.7" height="106" fill="#acadae"/>
<rect x="1154" y="2291.1" width="153.9" height="249.5" fill="#b0a4d0"/>
<rect x="1324.7" y="2273.4" width="153.7" height="267.2" fill="#8dccf0"/>
<rect x="1495.3" y="2167.1" width="153.7" height="373.5" fill="#f47d20"/>
<line x1="958" y1="2080.9" x2="958" y2="2540.6" stroke="#414042" stroke-width="1.2"/>
<line x1="948.6" y1="2540.6" x2="1675" y2="2540.6" stroke="#414042" stroke-width="1.2"/>
<line x1="948.6" y1="2175.1" x2="958" y2="2175.1" stroke="#231f20" stroke-width="1.1"/>
<line x1="948.6" y1="2297.1" x2="958" y2="2297.1" stroke="#231f20" stroke-width="1.1"/>
<line x1="948.6" y1="2419.1" x2="958" y2="2419.1" stroke="#231f20" stroke-width="1.1"/>
<text x="906.6" y="2183.7" font-size="23.5" stroke="#fff" stroke-width="0.3" textLength="30.2" lengthAdjust="spacingAndGlyphs">75</text>
<text x="906.9" y="2305.7" font-size="23.5" stroke="#fff" stroke-width="0.3" textLength="29.8" lengthAdjust="spacingAndGlyphs">50</text>
<text x="906.6" y="2427.7" font-size="23.5" stroke="#fff" stroke-width="0.3" textLength="30.2" lengthAdjust="spacingAndGlyphs">25</text>
<text x="921.9" y="2549.2" font-size="23.5" stroke="#fff" stroke-width="0.3" textLength="14.8" lengthAdjust="spacingAndGlyphs">0</text>
<text x="1000" y="2596.9" font-size="27" stroke="#fff" stroke-width="0.3" textLength="119.7" lengthAdjust="spacingAndGlyphs">Balanced</text>
<text x="1166.7" y="2596.9" font-size="27" stroke="#fff" stroke-width="0.3" textLength="127.7" lengthAdjust="spacingAndGlyphs">Lymphoid</text>
<text x="1349.7" y="2596.9" font-size="27" stroke="#fff" stroke-width="0.3" textLength="102.8" lengthAdjust="spacingAndGlyphs">Myeloid</text>
<text x="1520.3" y="2595" font-size="27" stroke="#fff" stroke-width="0.3" textLength="103.6" lengthAdjust="spacingAndGlyphs">System-</text>
<text x="1543.7" y="2626.9" font-size="27" stroke="#fff" stroke-width="0.3" textLength="59.1" lengthAdjust="spacingAndGlyphs">wide</text>
<text transform="translate(883 2321.5) rotate(-90)" x="-136.7" y="0" font-size="27" stroke="#fff" stroke-width="0.3" textLength="272.8" lengthAdjust="spacingAndGlyphs">Proportion severe (%)</text>
<path d="M1060.6 2153.4V2148H1384.7V2153.4M1230.9 2162.9V2157.7H1572.1V2162.9M1401.9 2157.7V2162.9" fill="none" stroke="#231f20" stroke-width="1.5"/>
</g>
</svg>
</body>
</html>
